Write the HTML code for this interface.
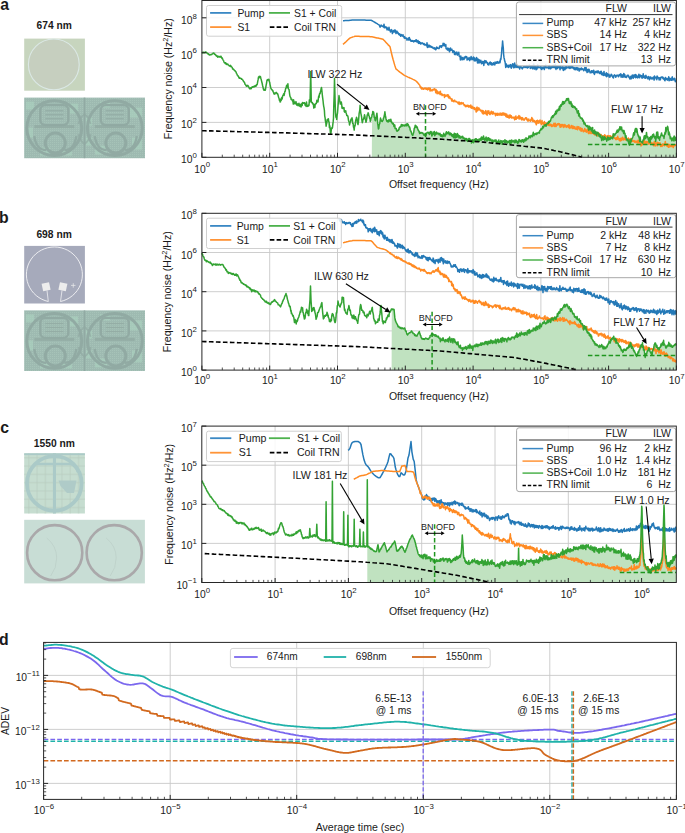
<!DOCTYPE html><html><head><meta charset="utf-8"><style>html,body{margin:0;padding:0;background:#fff;}svg{display:block;}text{font-family:"Liberation Sans", sans-serif;fill:#1a1a1a;}</style></head><body>
<svg width="685" height="833" viewBox="0 0 685 833"><defs><pattern id="mesh" width="2" height="2" patternUnits="userSpaceOnUse"><rect width="1" height="1" fill="#b3d2c4" opacity="0.35"/></pattern></defs><rect width="685" height="833" fill="#fff"/><text x="0.3" y="9.6" font-size="15.8" text-anchor="start" font-weight="bold" >a</text><text x="-1" y="222.7" font-size="15.8" text-anchor="start" font-weight="bold" >b</text><text x="0.2" y="433.4" font-size="15.8" text-anchor="start" font-weight="bold" >c</text><text x="-1" y="645.2" font-size="15.8" text-anchor="start" font-weight="bold" >d</text><text x="36.6" y="28.7" font-size="10.1" text-anchor="start" font-weight="bold" textLength="35.2" lengthAdjust="spacingAndGlyphs">674 nm</text><text x="36.4" y="238" font-size="10.1" text-anchor="start" font-weight="bold" textLength="35.4" lengthAdjust="spacingAndGlyphs">698 nm</text><text x="33.8" y="447" font-size="10.1" text-anchor="start" font-weight="bold" textLength="41.1" lengthAdjust="spacingAndGlyphs">1550 nm</text><rect x="24.2" y="38.6" width="60.7" height="52.1" fill="#c7d5be"/><circle cx="53.8" cy="64.4" r="25.4" fill="#c6cfbf" stroke="#dbe8e5" stroke-width="1.1"/><rect x="24.2" y="97.6" width="120.8" height="60.6" fill="#9ebab1"/><rect x="24.2" y="97.6" width="120.8" height="60.6" fill="url(#mesh)"/><rect x="26" y="101.6" width="8" height="8" fill="#acd3bf" opacity="0.6"/><rect x="40" y="147.6" width="10" height="8" fill="#acd3bf" opacity="0.6"/><rect x="70" y="103.6" width="8" height="10" fill="#acd3bf" opacity="0.6"/><rect x="95" y="145.6" width="12" height="9" fill="#acd3bf" opacity="0.6"/><rect x="130" y="107.6" width="12" height="10" fill="#acd3bf" opacity="0.6"/><rect x="132" y="137.6" width="10" height="12" fill="#acd3bf" opacity="0.6"/><rect x="27" y="127.6" width="6" height="10" fill="#acd3bf" opacity="0.6"/><rect x="100" y="101.6" width="10" height="6" fill="#acd3bf" opacity="0.6"/><rect x="62" y="149.6" width="10" height="6" fill="#acd3bf" opacity="0.6"/><rect x="86" y="117.6" width="6" height="8" fill="#acd3bf" opacity="0.6"/><rect x="86" y="137.6" width="6" height="8" fill="#acd3bf" opacity="0.6"/><path d="M84.5 97.6 V158.2" stroke="#91aaa3" stroke-width="1.6" fill="none"/><path d="M84.5 114.1 q-5 4 -6 10 M84.5 114.1 q5 4 6 10 M84.5 144.1 q-5 -4 -6 -10 M84.5 144.1 q5 -4 6 -10" stroke="#91aaa3" stroke-width="1.8" fill="none" opacity="0.7"/><circle cx="54.3" cy="128.1" r="27.4" fill="none" stroke="#91aaa3" stroke-width="3"/><rect x="40.3" y="105.1" width="28" height="20" rx="5" fill="none" stroke="#91aaa3" stroke-width="2.4"/><rect x="34.3" y="125.1" width="40" height="3" fill="#91aaa3" opacity="0.8"/><circle cx="55.3" cy="143.1" r="10" fill="none" stroke="#91aaa3" stroke-width="3"/><path d="M46.3 150.1 q-10 0 -12 -14 M64.3 150.1 q10 0 12 -14" fill="none" stroke="#91aaa3" stroke-width="2.4"/><rect x="45.3" y="110.1" width="18" height="1.2" fill="#91aaa3" opacity="0.8"/><rect x="45.3" y="114.1" width="18" height="1.2" fill="#91aaa3" opacity="0.8"/><rect x="45.3" y="118.1" width="18" height="1.2" fill="#91aaa3" opacity="0.8"/><circle cx="114.8" cy="128.1" r="27.4" fill="none" stroke="#91aaa3" stroke-width="3"/><rect x="100.8" y="105.1" width="28" height="20" rx="5" fill="none" stroke="#91aaa3" stroke-width="2.4"/><rect x="94.8" y="125.1" width="40" height="3" fill="#91aaa3" opacity="0.8"/><circle cx="115.8" cy="143.1" r="10" fill="none" stroke="#91aaa3" stroke-width="3"/><path d="M106.8 150.1 q-10 0 -12 -14 M124.8 150.1 q10 0 12 -14" fill="none" stroke="#91aaa3" stroke-width="2.4"/><rect x="105.8" y="110.1" width="18" height="1.2" fill="#91aaa3" opacity="0.8"/><rect x="105.8" y="114.1" width="18" height="1.2" fill="#91aaa3" opacity="0.8"/><rect x="105.8" y="118.1" width="18" height="1.2" fill="#91aaa3" opacity="0.8"/><rect x="24.2" y="245.9" width="60.7" height="57.6" fill="#a6aabb"/><path d="M48.3 301.5 A28 27.6 0 1 1 60.5 301.5" fill="none" stroke="#f4f4f6" stroke-width="0.9"/><rect x="42.3" y="283" width="7.6" height="7.6" fill="#ededed" transform="rotate(-12 46.1 286.8)"/><rect x="59.1" y="283" width="7.6" height="7.6" fill="#ededed" transform="rotate(12 62.9 286.8)"/><path d="M47 290.5 L48.3 301.5 M62 290.5 L60.5 301.5" stroke="#f0f0f2" stroke-width="0.8" fill="none"/><path d="M71 285.4 h4.5 M73.25 283.2 v4.5" stroke="#eeeeee" stroke-width="0.7"/><rect x="24.2" y="310.4" width="120.8" height="60.6" fill="#9ebab1"/><rect x="24.2" y="310.4" width="120.8" height="60.6" fill="url(#mesh)"/><rect x="26" y="314.4" width="8" height="8" fill="#acd3bf" opacity="0.6"/><rect x="40" y="360.4" width="10" height="8" fill="#acd3bf" opacity="0.6"/><rect x="70" y="316.4" width="8" height="10" fill="#acd3bf" opacity="0.6"/><rect x="95" y="358.4" width="12" height="9" fill="#acd3bf" opacity="0.6"/><rect x="130" y="320.4" width="12" height="10" fill="#acd3bf" opacity="0.6"/><rect x="132" y="350.4" width="10" height="12" fill="#acd3bf" opacity="0.6"/><rect x="27" y="340.4" width="6" height="10" fill="#acd3bf" opacity="0.6"/><rect x="100" y="314.4" width="10" height="6" fill="#acd3bf" opacity="0.6"/><rect x="62" y="362.4" width="10" height="6" fill="#acd3bf" opacity="0.6"/><rect x="86" y="330.4" width="6" height="8" fill="#acd3bf" opacity="0.6"/><rect x="86" y="350.4" width="6" height="8" fill="#acd3bf" opacity="0.6"/><path d="M84.5 310.4 V371" stroke="#91aaa3" stroke-width="1.6" fill="none"/><path d="M84.5 326.9 q-5 4 -6 10 M84.5 326.9 q5 4 6 10 M84.5 356.9 q-5 -4 -6 -10 M84.5 356.9 q5 -4 6 -10" stroke="#91aaa3" stroke-width="1.8" fill="none" opacity="0.7"/><circle cx="54.3" cy="340.9" r="27.4" fill="none" stroke="#91aaa3" stroke-width="3"/><rect x="40.3" y="317.9" width="28" height="20" rx="5" fill="none" stroke="#91aaa3" stroke-width="2.4"/><rect x="34.3" y="337.9" width="40" height="3" fill="#91aaa3" opacity="0.8"/><circle cx="55.3" cy="355.9" r="10" fill="none" stroke="#91aaa3" stroke-width="3"/><path d="M46.3 362.9 q-10 0 -12 -14 M64.3 362.9 q10 0 12 -14" fill="none" stroke="#91aaa3" stroke-width="2.4"/><rect x="45.3" y="322.9" width="18" height="1.2" fill="#91aaa3" opacity="0.8"/><rect x="45.3" y="326.9" width="18" height="1.2" fill="#91aaa3" opacity="0.8"/><rect x="45.3" y="330.9" width="18" height="1.2" fill="#91aaa3" opacity="0.8"/><circle cx="114.8" cy="340.9" r="27.4" fill="none" stroke="#91aaa3" stroke-width="3"/><rect x="100.8" y="317.9" width="28" height="20" rx="5" fill="none" stroke="#91aaa3" stroke-width="2.4"/><rect x="94.8" y="337.9" width="40" height="3" fill="#91aaa3" opacity="0.8"/><circle cx="115.8" cy="355.9" r="10" fill="none" stroke="#91aaa3" stroke-width="3"/><path d="M106.8 362.9 q-10 0 -12 -14 M124.8 362.9 q10 0 12 -14" fill="none" stroke="#91aaa3" stroke-width="2.4"/><rect x="105.8" y="322.9" width="18" height="1.2" fill="#91aaa3" opacity="0.8"/><rect x="105.8" y="326.9" width="18" height="1.2" fill="#91aaa3" opacity="0.8"/><rect x="105.8" y="330.9" width="18" height="1.2" fill="#91aaa3" opacity="0.8"/><rect x="24.2" y="453.3" width="60.7" height="60.2" fill="#c6ddd0"/><rect x="28" y="453.3" width="1.5" height="60.2" fill="#b8cdbf" opacity="0.45"/><rect x="24.2" y="457" width="60.7" height="1.5" fill="#b8cdbf" opacity="0.45"/><rect x="36.3" y="453.3" width="1.5" height="60.2" fill="#b8cdbf" opacity="0.45"/><rect x="24.2" y="465.3" width="60.7" height="1.5" fill="#b8cdbf" opacity="0.45"/><rect x="44.6" y="453.3" width="1.5" height="60.2" fill="#b8cdbf" opacity="0.45"/><rect x="24.2" y="473.6" width="60.7" height="1.5" fill="#b8cdbf" opacity="0.45"/><rect x="52.9" y="453.3" width="1.5" height="60.2" fill="#b8cdbf" opacity="0.45"/><rect x="24.2" y="481.9" width="60.7" height="1.5" fill="#b8cdbf" opacity="0.45"/><rect x="61.2" y="453.3" width="1.5" height="60.2" fill="#b8cdbf" opacity="0.45"/><rect x="24.2" y="490.2" width="60.7" height="1.5" fill="#b8cdbf" opacity="0.45"/><rect x="69.5" y="453.3" width="1.5" height="60.2" fill="#b8cdbf" opacity="0.45"/><rect x="24.2" y="498.5" width="60.7" height="1.5" fill="#b8cdbf" opacity="0.45"/><rect x="77.8" y="453.3" width="1.5" height="60.2" fill="#b8cdbf" opacity="0.45"/><rect x="24.2" y="506.8" width="60.7" height="1.5" fill="#b8cdbf" opacity="0.45"/><circle cx="54.3" cy="483.4" r="27.3" fill="none" stroke="#abcac8" stroke-width="3.8"/><rect x="53" y="453.3" width="3" height="60.2" fill="#abcac8"/><rect x="24.2" y="453.3" width="60.7" height="1.8" fill="#abcac8"/><path d="M36 464 H71 Q76 466 78 472" fill="none" stroke="#abcac8" stroke-width="2.6"/><path d="M58.5 480.6 H76.5 L74 493 H67 L60.5 486 Z" fill="#afcbc8"/><rect x="24.2" y="519.8" width="120.7" height="63.6" fill="#c8ddd5"/><circle cx="54.7" cy="552.7" r="27.6" fill="none" stroke="#aaa8aa" stroke-width="2.6"/><path d="M46.7 538 q10 8 10 20 q0 10 -6 18" fill="none" stroke="#b8cbc5" stroke-width="0.6"/><circle cx="114.2" cy="552.7" r="27.6" fill="none" stroke="#aaa8aa" stroke-width="2.6"/><path d="M106.2 538 q10 8 10 20 q0 10 -6 18" fill="none" stroke="#b8cbc5" stroke-width="0.6"/><line x1="269.7" y1="0.5" x2="269.7" y2="157.3" stroke="#c8c8c8" stroke-width="0.9" /><line x1="337.5" y1="0.5" x2="337.5" y2="157.3" stroke="#c8c8c8" stroke-width="0.9" /><line x1="405.3" y1="0.5" x2="405.3" y2="157.3" stroke="#c8c8c8" stroke-width="0.9" /><line x1="473.1" y1="0.5" x2="473.1" y2="157.3" stroke="#c8c8c8" stroke-width="0.9" /><line x1="540.9" y1="0.5" x2="540.9" y2="157.3" stroke="#c8c8c8" stroke-width="0.9" /><line x1="608.6" y1="0.5" x2="608.6" y2="157.3" stroke="#c8c8c8" stroke-width="0.9" /><line x1="201.9" y1="122.4" x2="676.4" y2="122.4" stroke="#c8c8c8" stroke-width="0.9" /><line x1="201.9" y1="87.5" x2="676.4" y2="87.5" stroke="#c8c8c8" stroke-width="0.9" /><line x1="201.9" y1="52.7" x2="676.4" y2="52.7" stroke="#c8c8c8" stroke-width="0.9" /><line x1="201.9" y1="17.8" x2="676.4" y2="17.8" stroke="#c8c8c8" stroke-width="0.9" /><path d="M371.8 157.3 L372.1 114.5 L372.5 114.3 L372.8 111.4 L373.2 112.1 L373.6 112.1 L373.9 114.2 L374.3 117.4 L374.7 117.5 L375 119.9 L375.4 120.8 L375.8 118.8 L376.1 117.2 L376.5 115.3 L376.9 113.2 L377.3 117.1 L377.6 123 L378 125.4 L378.4 128.9 L378.8 128.5 L379.1 125.5 L379.4 124.3 L379.8 123.4 L380.1 120.8 L380.5 118.1 L380.9 119.6 L381.2 120.4 L381.6 121.3 L382 121 L382.3 121.5 L382.7 120.5 L383.1 120.2 L383.4 118.3 L383.8 117.8 L384.2 116 L384.5 114.6 L384.9 111.8 L385.3 115.2 L385.6 116.5 L386 118.7 L386.4 120 L386.7 121 L387.1 121.4 L387.4 121.3 L387.8 120.5 L388.1 122.1 L388.4 121.4 L388.8 120.1 L389.1 119.6 L389.4 120.6 L389.8 121.2 L390.1 121.5 L390.5 120.3 L390.8 119.3 L391.2 120.9 L391.5 122.4 L391.9 122 L392.2 123.2 L392.6 123.9 L393 123.7 L393.3 123.4 L393.7 124.7 L394 126.6 L394.4 125 L394.8 125 L395.1 128.6 L395.5 128.3 L395.9 128.4 L396.2 128.5 L396.6 130.8 L396.9 131.1 L397.3 131.2 L397.6 130.7 L398 130.1 L398.3 130.5 L398.7 129.1 L399 129.6 L399.3 127.6 L399.7 127.3 L400 126.8 L400.3 126.6 L400.7 126.9 L401 126.5 L401.4 124.4 L401.7 125.5 L402 124.8 L402.4 126 L402.7 124.9 L403 125.7 L403.4 125.7 L403.7 125.1 L404.1 125.5 L404.4 125.7 L404.7 126 L405.1 124.7 L405.4 125.1 L405.8 125.7 L406.1 125.6 L406.5 123.9 L406.9 125.8 L407.2 124.4 L407.6 123.7 L407.9 125.3 L408.3 124.7 L408.6 125.6 L409 126.4 L409.3 127.2 L409.7 127.1 L410 129 L410.3 130.2 L410.7 131.1 L411 131 L411.3 132.3 L411.7 133.5 L412 134.6 L412.4 135.1 L412.7 135.4 L413.1 134.2 L413.4 133.3 L413.8 132 L414.2 128.6 L414.5 128 L414.9 127.2 L415.2 125.3 L415.6 125.9 L415.9 125.5 L416.3 127.5 L416.6 126.7 L417 126.8 L417.3 127.4 L417.7 128.8 L418 129.7 L418.3 130.3 L418.7 130.6 L419 131.6 L419.3 132.4 L419.7 133.5 L420 132.2 L420.3 133.3 L420.7 133.1 L421 132.7 L421.3 132.6 L421.7 132.9 L422 132.5 L422.4 133.2 L422.8 133 L423.1 133.5 L423.5 134.5 L423.9 135.2 L424.3 135.4 L424.6 134.4 L425 133.9 L425.3 134.6 L425.6 134.1 L426 135.7 L426.3 134.4 L426.7 133 L427 132.9 L427.3 132.4 L427.7 132.7 L428 132.8 L428.3 132.4 L428.7 133.5 L429 133.5 L429.4 134.5 L429.7 132.3 L430 133.7 L430.4 132.7 L430.7 131.5 L431.1 131.5 L431.4 133.1 L431.8 136 L432.1 134.6 L432.4 135.2 L432.8 134.6 L433.1 131.9 L433.5 133.9 L433.8 133.7 L434.1 134 L434.5 131.6 L434.8 135.7 L435.2 134.7 L435.5 133.8 L435.9 132.9 L436.2 133.5 L436.6 132.1 L436.9 134.2 L437.3 133.5 L437.6 133.2 L438 133.3 L438.3 133.6 L438.7 133.2 L439 134.7 L439.4 134 L439.7 133.8 L440 133.4 L440.4 135.7 L440.7 136.1 L441 135.7 L441.4 134.8 L441.7 136.3 L442 135.5 L442.3 136.8 L442.7 135.1 L443 136.4 L443.3 136.1 L443.7 133.3 L444 135.4 L444.3 135.2 L444.7 134.5 L445 136.4 L445.4 134.4 L445.7 135.1 L446 132.8 L446.4 131.8 L446.7 133.2 L447 133.9 L447.4 132.5 L447.7 133.5 L448.1 133.4 L448.4 132.3 L448.7 131.8 L449.1 133.8 L449.4 134.7 L449.7 133.7 L450 132.9 L450.4 133 L450.7 133.6 L451 135 L451.4 133.6 L451.7 136 L452 134.6 L452.4 136.1 L452.7 136.6 L453 134.5 L453.4 135.8 L453.7 137.7 L454 136.4 L454.3 133.2 L454.7 135.8 L455 138 L455.3 136.6 L455.7 133.7 L456 137.5 L456.4 135.1 L456.7 136.9 L457 137.1 L457.4 133.4 L457.7 134.9 L458.1 136.7 L458.4 134.9 L458.7 136.5 L459.1 138 L459.4 136.2 L459.8 135.9 L460.1 137.6 L460.4 138.2 L460.8 137 L461.1 137.5 L461.4 137.8 L461.8 136.9 L462.1 136.3 L462.4 137.2 L462.8 136.4 L463.1 138.8 L463.4 138.6 L463.8 138.5 L464.1 137.9 L464.4 138.6 L464.8 139.7 L465.1 139.7 L465.4 138.5 L465.8 138.5 L466.1 139.6 L466.5 140.3 L466.8 138.4 L467.1 140.5 L467.5 141.4 L467.8 140.6 L468.1 139.9 L468.5 140.7 L468.8 138.6 L469.1 139.5 L469.5 138.4 L469.8 139.1 L470.1 141.2 L470.5 140 L470.8 140.3 L471.1 140 L471.5 143.1 L471.8 141 L472.1 141.4 L472.5 139.8 L472.8 142.3 L473.1 141.9 L473.5 142.8 L473.8 141.2 L474.1 139.6 L474.5 139.5 L474.8 140.4 L475.1 141.5 L475.5 138.8 L475.8 139.6 L476.1 139.7 L476.5 138.9 L476.8 140.1 L477.1 140.6 L477.5 139.8 L477.8 139.8 L478.1 140.6 L478.5 140.6 L478.8 141.3 L479.1 138.9 L479.5 141.2 L479.8 139.7 L480.1 139.3 L480.5 138.4 L480.8 139.3 L481.1 140.3 L481.5 136.9 L481.8 137.7 L482.1 139.5 L482.5 138.3 L482.8 139.3 L483.1 137.2 L483.5 135.9 L483.8 137.7 L484.1 139.3 L484.5 139.9 L484.8 140.4 L485.1 138.7 L485.5 138 L485.8 138.5 L486.1 137.1 L486.5 140.5 L486.8 140.4 L487.1 141.1 L487.5 138 L487.8 139.9 L488.1 138.6 L488.5 137.7 L488.8 139.9 L489.1 138.3 L489.5 140.7 L489.8 138.7 L490.1 139.8 L490.5 140 L490.8 139.3 L491.1 140.9 L491.5 140.8 L491.8 140.4 L492.1 140.3 L492.5 142.6 L492.8 140 L493.1 140.4 L493.5 141.7 L493.8 141 L494.1 140.9 L494.5 140.7 L494.8 140.1 L495.1 141.3 L495.5 140 L495.8 140.9 L496.1 140 L496.5 142.8 L496.8 141 L497.1 141.8 L497.5 142.2 L497.8 141.6 L498.1 142.7 L498.5 142.3 L498.8 139.9 L499.1 142.9 L499.5 141.6 L499.8 144 L500.1 143.3 L500.5 142.7 L500.8 140.5 L501.2 141.7 L501.5 142.3 L501.8 141.1 L502.2 144.3 L502.5 142.6 L502.9 141.8 L503.2 140.7 L503.5 141.3 L503.9 141.3 L504.2 141 L504.6 142.3 L504.9 139.8 L505.2 141.9 L505.6 142.8 L505.9 140.5 L506.3 141.7 L506.6 141.6 L506.9 140.9 L507.3 143 L507.6 141.7 L508 142.4 L508.3 141.8 L508.6 142.3 L509 141.7 L509.3 140.5 L509.7 143.6 L510 142.6 L510.3 143.4 L510.7 140.4 L511 143.2 L511.3 142.9 L511.7 139.9 L512 142 L512.3 141.2 L512.7 141.5 L513 141.7 L513.3 140.6 L513.7 141.3 L514 141.4 L514.3 142.7 L514.7 141.1 L515 140.1 L515.3 141.1 L515.7 142.6 L516 139.9 L516.3 142.1 L516.7 142 L517 141.1 L517.3 141.5 L517.6 143.3 L518 141.3 L518.3 141.9 L518.6 142.8 L519 139.4 L519.3 139.9 L519.6 139.8 L520 140.8 L520.3 141.5 L520.6 141.6 L521 140.4 L521.3 142.1 L521.6 140.5 L522 139.8 L522.3 141.3 L522.6 139.8 L523 141.6 L523.3 141.3 L523.6 142.3 L524 140 L524.3 139.2 L524.6 141.1 L525 140.6 L525.3 139.7 L525.6 140.8 L526 137.7 L526.3 138.9 L526.6 140.1 L527 138.5 L527.3 138.9 L527.6 138.7 L528 138.5 L528.3 138.7 L528.6 138.1 L529 136 L529.3 136.8 L529.7 136.2 L530 137.1 L530.3 137.8 L530.7 137.2 L531 135.5 L531.3 136.2 L531.7 135.9 L532 135.2 L532.3 136.7 L532.7 135.6 L533 133.9 L533.3 132.3 L533.7 134 L534 135.7 L534.3 134.2 L534.7 134.2 L535 133.8 L535.3 134.4 L535.7 133.7 L536 133.4 L536.3 133.1 L536.7 134.6 L537 133.7 L537.4 133.5 L537.7 133.2 L538 132.5 L538.4 132.7 L538.7 132.7 L539 132.1 L539.4 133.1 L539.7 130.9 L540 130.5 L540.4 130.3 L540.7 129.6 L541 128.9 L541.4 129.2 L541.7 129.7 L542.1 128 L542.4 128.4 L542.7 126.3 L543.1 126.2 L543.4 127.8 L543.8 126.1 L544.1 126 L544.4 125.2 L544.8 125 L545.1 125.8 L545.5 124.8 L545.8 125.2 L546.1 126.3 L546.5 124.4 L546.8 124.3 L547.2 123.3 L547.5 123.5 L547.8 123.4 L548.2 123.7 L548.5 121.6 L548.9 121.7 L549.2 121.4 L549.5 122.4 L549.9 121 L550.2 121.2 L550.6 120.7 L550.9 119.1 L551.2 118.2 L551.6 116.9 L551.9 117.7 L552.3 117.5 L552.6 115.7 L552.9 117.5 L553.3 116.3 L553.6 115.2 L554 115.7 L554.3 114.4 L554.6 114.8 L555 113.3 L555.3 114.4 L555.7 111.2 L556 111.3 L556.3 113.7 L556.7 112.4 L557 110.1 L557.4 111.2 L557.7 111 L558 110.5 L558.4 109 L558.7 110.2 L559.1 108.7 L559.4 106.6 L559.7 109.9 L560.1 107 L560.4 105.7 L560.8 104.9 L561.1 106.2 L561.4 105.8 L561.8 103.9 L562.1 104.5 L562.4 102.6 L562.8 101.5 L563.1 104.3 L563.5 101.7 L563.8 103.3 L564.1 102.6 L564.5 103.4 L564.8 101.9 L565.1 101.5 L565.5 100.8 L565.8 100.9 L566.2 100.5 L566.5 98.8 L566.8 99.4 L567.2 98.7 L567.5 100 L567.8 98.5 L568.2 100.4 L568.5 98.6 L568.9 100.9 L569.2 103.2 L569.6 102 L569.9 103.7 L570.2 102.6 L570.6 103.8 L570.9 101.6 L571.3 103.4 L571.6 106.4 L572 104 L572.3 106.3 L572.6 107.2 L573 105.7 L573.3 107.1 L573.7 106.9 L574 106.3 L574.3 107.8 L574.7 106.8 L575 107.8 L575.4 107.4 L575.7 108.8 L576.1 109.6 L576.4 109.1 L576.7 108.8 L577.1 111.9 L577.4 113 L577.7 111.4 L578.1 112.2 L578.4 110.8 L578.7 116 L579.1 114.7 L579.4 113.6 L579.7 116.8 L580.1 116.8 L580.4 118 L580.8 117.8 L581.1 118.2 L581.4 118 L581.8 119.1 L582.1 118.3 L582.4 118.9 L582.8 120.9 L583.1 121.5 L583.4 120.3 L583.8 122.9 L584.1 124.1 L584.4 122.2 L584.8 123.5 L585.1 123.3 L585.5 125.1 L585.8 125.6 L586.1 125.4 L586.5 125.7 L586.8 126.5 L587.2 126.6 L587.5 126.8 L587.8 125.5 L588.2 127.6 L588.5 129.1 L588.9 130.1 L589.2 129.2 L589.5 126.2 L589.9 129.5 L590.2 128.9 L590.6 127.6 L590.9 127.6 L591.2 130.8 L591.6 129 L591.9 130.2 L592.3 131.7 L592.6 127.4 L592.9 132.9 L593.3 130.6 L593.6 131.5 L594 133.3 L594.3 133.3 L594.6 130 L595 134 L595.3 133.2 L595.6 132.7 L596 131.6 L596.3 134.8 L596.6 135.8 L597 133.1 L597.3 133.5 L597.7 132.3 L598 133.4 L598.3 133.1 L598.7 134.7 L599 136.2 L599.3 136.4 L599.7 134.2 L600 136.9 L600.3 135.2 L600.7 135.3 L601 137.8 L601.3 137 L601.7 140.6 L602 137.8 L602.4 138.7 L602.7 136.3 L603 138.8 L603.4 140 L603.7 137.8 L604 137.3 L604.4 139.5 L604.7 136.7 L605 138.7 L605.4 137.7 L605.7 138.9 L606 139.5 L606.4 139.5 L606.7 141.2 L607.1 138.6 L607.4 139.8 L607.7 137.1 L608.1 138.5 L608.4 140 L608.8 137.6 L609.1 139 L609.4 139.5 L609.8 139.4 L610.1 137.8 L610.5 139 L610.9 137.1 L611.2 137.8 L611.5 138 L611.9 137.8 L612.2 137.6 L612.6 138.8 L613 136.1 L613.3 133.7 L613.6 137 L614 134.2 L614.3 134.5 L614.7 134.2 L615 135 L615.3 133.7 L615.7 133.3 L616 133.3 L616.3 132.8 L616.7 131.1 L617 131.3 L617.3 130 L617.7 132.3 L618 132 L618.4 131.3 L618.7 130.4 L619.1 128.8 L619.5 129.9 L619.8 126.7 L620.2 126.7 L620.5 129.6 L620.9 127.4 L621.2 129.6 L621.6 127.1 L621.9 129.8 L622.3 131 L622.6 130.8 L623 130.4 L623.3 132.1 L623.7 133.6 L624 130.5 L624.3 131.8 L624.7 133.6 L625 133.4 L625.4 137.4 L625.7 136.8 L626 135.7 L626.4 139.5 L626.7 139.7 L627 140.6 L627.4 140.8 L627.7 139.2 L628 139.8 L628.4 141.6 L628.7 143.3 L629.1 144.5 L629.4 145.1 L629.8 141.9 L630.1 139.5 L630.5 143.2 L630.8 141.9 L631.2 141.4 L631.6 139.1 L631.9 138.5 L632.3 138.3 L632.6 137.6 L633 136.4 L633.4 134.2 L633.7 132.8 L634.1 133.7 L634.4 135 L634.8 131.1 L635.2 129.2 L635.5 128.5 L635.9 130.3 L636.2 131.9 L636.6 128.5 L636.9 129.2 L637.3 131.8 L637.6 133.9 L638 134.9 L638.3 136.2 L638.7 135.8 L639 137.6 L639.4 138.8 L639.7 141.4 L640.1 136.9 L640.5 139.8 L640.8 141.7 L641.2 141.7 L641.5 142.2 L641.9 141.9 L642.2 142.9 L642.6 143 L643 139.9 L643.3 140.1 L643.6 140.1 L644 137 L644.4 135.7 L644.7 139 L645.1 138.8 L645.4 135.8 L645.8 138.2 L646.1 136.3 L646.5 132.4 L646.9 136 L647.2 136.4 L647.6 137.4 L647.9 136.8 L648.3 139.6 L648.6 139.2 L649 142 L649.3 140 L649.7 137.6 L650.1 142.8 L650.4 140.4 L650.8 136.6 L651.2 137.6 L651.5 138.9 L651.9 136.1 L652.3 137.7 L652.6 134.8 L653 136 L653.3 134.4 L653.7 134.1 L654 137 L654.4 136.4 L654.7 138 L655 136.5 L655.4 138 L655.7 141.5 L656 138.6 L656.4 135 L656.7 132.2 L657 137.8 L657.4 134.9 L657.7 132 L658.1 135.9 L658.5 138.5 L658.8 137.1 L659.2 137.3 L659.6 140.2 L659.9 136.7 L660.3 137.2 L660.6 135.8 L660.9 135.6 L661.3 133.9 L661.6 132.9 L661.9 135.5 L662.3 135.2 L662.6 135.2 L663 136 L663.3 136.4 L663.7 136.2 L664 138.4 L664.4 135.1 L664.7 134.3 L665 132.3 L665.4 134 L665.8 127.6 L666.1 131.8 L666.5 128.6 L666.8 129.8 L667.1 128.7 L667.5 126.3 L667.9 127.3 L668.2 129.9 L668.6 134.7 L668.9 131.8 L669.3 132.9 L669.6 133.9 L670 136.7 L670.3 138.8 L670.7 137 L671 138.5 L671.4 138.5 L671.8 140.8 L672.1 138.5 L672.5 138.3 L672.8 140 L673.1 138.4 L673.5 137.4 L673.9 141 L674.2 136 L674.5 138.8 L674.9 138.1 L675.2 137.3 L675.6 141.1 L676.4 157.3 Z" fill="#c0e2c0" stroke="none"/><path d="M343 20.8l1-.1 1-.1 1 0 1-.1 1-.1 1 0 1-.1 1-.1 1-.1 1-.1 1 0 1-.1 1 0 1 0 1 .1 1 0 1 0 1 0 1 .1 1 0 1 0 1 0 1 .1 1 0 1.1 0 1 0 1 .1 1 0 1 .4 1 .6 1 .6 1 .6 1 .6 1 .6 1 .6 1 .5 1 2.4 .3-1.5 .3 .8 .4-1.5 .3 1 .3-.2 .4 .1 .3 .3 .3 .2 .3-.4 .4 1.1 .3-.8 .3-2.1 .4 3.6 .3-1.2 .3-.1 .4 1 .3 .1 .3-.5 .4 1.1 .3-1 .3 2.6 .4-1.8 .3 1.1 .3 .4 .4 .4 .3-.2 .3-2.5 .4 2.9 .3 .1 .3 0 .4 1.7 .3-1.8 .3 .9 .4-1.4 .3 2.1 .3-1.4 .4 3.3 .3-1.2 .3-.6 .4 .1 .3-1.4 .3 .3 .4 1.2 .3-2.1 .3 1.9 .4-1.5 .3 1.7 .3 1.5 .3-.4 .4-1 .3-1 .3 1.2 .4 .8 .3-.6 .3 1.2 .4 .8 .3-.7 .3 .9 .4-.7 .3 1.2 .3-.7 .4 1.8 .3-1.3 .3-.4 .4 1.1 .3-.4 .3 0 .4 .8 .3-1.4 .3 1.9 .4 .2 .3 .3 .3 1 .4-1.5 .3 1.8 .3-.5 .4 .4 .3-.1 .3-.2 .4 .8 .3 1.4 .3-.8 .4-.2 .3-.3 .3-.8 .4 .9 .3 1.2 .3-2.7 .4 1.9 .3-.3 .4 .6 .3 .7 .3 .9 .4-.5 .3 .5 .3-.8 .4 .6 .3-.4 .3 .3 .4 .3 .3 .7 .3-1.3 .4 .3 .3 .2 .3-.5 .4 .7 .3-.6 .3-1.1 .4 .2 .3 1.6 .3 .5 .4-.5 .3 .2 .3-1.2 .4 2.7 .3-1.7 .3 1.9 .4-1.6 .3 .6 .3 .8 .4-.6 .3 1.4 .3-.1 .4-.2 .3-.5 .3-.4 .4 .3 .3 0 .3 .5 .4 .7 .3-.6 .3-.2 .4 1.6 .3-.8 .3 .2 .4 .1 .3 .4 .3-.3 .4 1 .3-.2 .3-2.8 .4 4.8 .3-3.2 .3 1.3 .4 1 .3-.7 .3 1.3 .4-1.9 .3 .2 .3 1 .4-.3 .3-.2 .3 1.2 .4-.1 .3-.2 .4 .7 .3-.1 .3-.4 .4 1.2 .3 0 .3-.1 .4 .6 .3-.7 .3-.3 .4 1.5 .3-.8 .3 1.2 .4-.5 .3-1.6 .4-.6 .3 1.2 .3-.6 .4 .2 .3 .7 .3-.2 .4 .2 .3 .1 .3-1.3 .4-1.4 .3 .8 .3-.7 .4-.2 .3 1.3 .4 .3 .3-1.7 .3 .3 .4-.4 .3 .1 .3-2.4 .4 2.3 .3-1.3 .3-.8 .4 2 .3 0 .3 .8 .4 0 .3-1.7 .3 4.1 .4 .3 .3-.4 .3 .1 .4 1.3 .3-2 .3 2 .4-1.6 .3 1.7 .3 .1 .4 1.6 .3-.8 .3-2.7 .4-.3 .3 2.3 .3-.1 .4-.6 .3-.4 .3 .6 .4 .7 .3 1.9 .3-.5 .4-.9 .3-.3 .3 1.2 .4 2.4 .3-2.3 .3 2.7 .4-2 .3 1.2 .3-1.5 .3 1.1 .4-1.5 .3 2.4 .3 .7 .4-1.9 .3 1.1 .3-.4 .4-1.7 .3 3.5 .3 .7 .4 .2 .3 .4 .3 2.9 .4-4 .3 2.1 .3 .3 .4 .5 .3 1.1 .3-2.3 .4 .1 .3 1.5 .3 .2 .4-.5 .3 .6 .3-2.6 .4 1.4 .3-.5 .3-.9 .4-.5 .3 .2 .4 .7 .3-.5 .3 3.3 .4-1.7 .3-.2 .3 .5 .4 .3 .3 .5 .3-1.9 .4 2.5 .3 .6 .3-2.4 .4 1.1 .3-.9 .3-2 .4 2.1 .3-1 .3 2.2 .4-1.2 .3 .3 .3 .3 .4-2.3 .3 2.5 .3 1.3 .4-2.8 .3 2.3 .3 .7 .4-1.7 .3 1.5 .3-1 .4-2.2 .3 1.2 .3-.3 .4 4.5 .3-2.2 .4-.3 .3-1.1 .3 3.6 .4-3.1 .3 3 .3-.3 .4-1.8 .3 .8 .3-1.3 .4 2.3 .3 1.3 .3-.7 .4 .3 .3-1.8 .3 1.2 .4-1.4 .3 2 .3 2 .4-2.7 .3-.1 .3-2.1 .4 2.3 .3-1.2 .3-.6 .4-.1 .3 1.8 .3-.5 .4 .3 .3 .3 .3 1.8 .4-.6 .3 .1 .3 .9 .4-1.3 .3-1.2 .3 .3 .4-.8 .3 1.3 .3 1 .4 .3 .3-1.8 .3 1.1 .3 1.2 .4-1.3 .3 1 .3-1.2 .4-.9 .3 .8 .3 1 .4-1.4 .3 1.9 .3-3 .4 1.3 .3 .1 .3-.7 .4 .6 .3-1.3 .3-.4 .4 .7 .3-.3 .3 1.3 .4-.6 .3-.3 .3 0 .4-1.2 .3 1.8 .3-.7 .4-3.5 .4 .7 .3-3 .4-3.5 .3-5.2 .3-1.3 .4-5.6 .4 4.4 .3 2.6 .3 6.1 .4 3.7 .3 1 .4 2.3 .3 .5 .4 2.7 .3 3.2 .3-3.4 .4 .1 .3 2.1 .3 .4 .4-1.2 .3 1.1 .3 0 .4 1 .3-2.3 .3 1.6 .4-.5 .3-1 .3 1.4 .4-2 .3-.1 .3 2.9 .3 .7 .4-.7 .3-1.8 .3-.5 .4-1.5 .3 2.3 .3-1.8 .4 3.6 .3-3.7 .3 2 .4-3.1 .3 4.6 .3-1.9 .4-.4 .3 .4 .3 1 .4 .7 .3-1.2 .3-2 .4 2.6 .3 .8 .3-.9 .4 .1 .3-.7 .3 1.6 .4 1.3 .3-3 .3 1.4 .4-1.1 .3 .5 .3 .6 .4 .7 .3-.9 .3 1.8 .4-1.1 .3 0 .3-.5 .4-.8 .3 .5 .3 0 .4-.7 .3 1.2 .3-.1 .4-1 .3 .8 .3-1.5 .4 .2 .3-.6 .3 2.7 .4-.8 .3-.3 .3 .5 .4-1.6 .3 .3 .3-1.5 .4 1.8 .3-.6 .3 2.6 .4-2.5 .3 .2 .3 1.8 .4-1.1 .3-1.5 .3 .7 .4 2.7 .3-3.1 .3 .4 .4-2.2 .3 2.3 .3 2.9 .4-2.3 .3-.9 .3 1.4 .4-.6 .3 3.1 .3-.5 .4-.5 .3 .1 .3-3 .4-1.1 .3 3 .3-.4 .4-.4 .3-.2 .3 .8 .4-.3 .3 .3 .3-.7 .4-.2 .3 2.1 .3-1.9 .4 2.6 .3-1.5 .3-.6 .4 1.2 .3-1.5 .3-.2 .4 .3 .3 .7 .3 1.6 .4-1.9 .3-1.8 .3 .2 .4-1.1 .3 2.8 .3 .2 .4-.5 .3 .2 .3-.1 .4 .3 .3-.4 .3-1.3 .3 2.2 .4 .5 .3-3.3 .3 1.6 .4 .8 .3-1 .3 1.9 .4-.4 .3-1.9 .3 0 .4-.2 .3 1.2 .3-1.7 .4 1.5 .3-2 .3 2.2 .4-1.8 .3 .5 .3 1.2 .4 .3 .3-3.4 .3 3.5 .4 1.6 .3-2.2 .3-1 .4 1.8 .3 0 .3 .5 .4-2.1 .3 .7 .3-.5 .4 0 .3 .9 .3-.8 .4 3 .3-1.2 .3-2.5 .4 1.6 .3 .1 .3 .3 .4 .4 .3-1.5 .3-.1 .4 2.1 .3 1.5 .3-.2 .4-3.3 .3 1.1 .3 .3 .3 1.4 .4-2.3 .3-.7 .3 2 .4-2 .3-.2 .3 1.6 .4-.9 .3 0 .3-.2 .4 .1 .3-.6 .3 1.5 .4-1.1 .3-.3 .3 1.8 .4-2.2 .3 1.9 .3-1.2 .4 .7 .3-1.9 .3 2.1 .4-1.4 .3 .3 .3 1.4 .4-.9 .3 1 .3 .4 .3 .8 .4 .1 .3-2 .3 .5 .4 1.2 .3 .6 .3-.7 .4-1.1 .3-.5 .3 .2 .4 2.4 .3-1.5 .3 1 .3-.2 .4-1.3 .3 3 .3-2.1 .4 .2 .3 .6 .3-1.3 .4 1.2 .3-.9 .3-.8 .3 1.5 .4-.2 .3-.2 .3-.3 .4 .3 .3 1.2 .3 .4 .3-1.4 .4 .6 .3-2.3 .3 1.4 .4-.2 .3 1.9 .3-3.1 .4 2.9 .3 .3 .3 1.7 .4-2.9 .3 1.1 .3 1.2 .3-2.6 .4 .8 .3-.7 .3 1.5 .4 .9 .3 .9 .3-.7 .4 .5 .3 .3 .3-2 .3 1.7 .4-.9 .3-.7 .3 1.3 .4 0 .3 .7 .3-2.7 .4 1.6 .3 2.7 .3-.7 .3-1.5 .4-.1 .3-.8 .3 .6 .4 .5 .3-1.3 .3 1.2 .4 .4 .3-1.7 .3 1 .3-1.2 .4 1.8 .3-.5 .3 .7 .4 .6 .3 .2 .3-2.1 .4 1.2 .3-1.1 .3-.4 .3 3.3 .4-.3 .3 .7 .3-1.9 .4 .9 .3-.8 .3 2.2 .4-4 .3 3.1 .3-.9 .3 1.5 .4 .6 .3-2 .3 2 .4-2.9 .3 3.9 .3-3.3 .3 0 .4 2.6 .3-1.8 .3 1.2 .4-.2 .3-1 .3 2.9 .4-1.6 .3 1.7 .3-1.7 .4 .4 .3-.5 .3-1.1 .3 1.2 .4-.6 .3 1.5 .3-.2 .4 1.2 .3-1 .3 1.5 .4-2.5 .3-.1 .3-.5 .3 1 .4-.5 .3 .2 .3 1.8 .4-1 .3-.4 .3-.7 .4-.1 .3 .2 .3 .3 .3 .6 .4 .5 .3-1.1 .3-.9 .4 .9 .3-.2 .3-1.1 .4 1.2 .3-1.8 .3 3.5 .3-.6 .4 .1 .3-1.9 .3 1.4 .4 1.1 .3-1.6 .3 .1 .4-2.3 .3 3.5 .3-.6 .3-2 .4 2.2 .3 .5 .3-.6 .4 .1 .3 .9 .3-1.4 .4-.4 .3-.4 .3 .5 .4-.6 .3 1.7 .3-1 .3 1.3 .4 0 .3 1.6 .3 .2 .4-2.2 .3 0 .3-.6 .4 2.6 .3-.7 .3-1.7 .3-1.3 .4 .7 .3 .7 .3 1.7 .4-3.1 .3-.1 .3 2 .4-1.5 .3 .9 .3-2 .3 3.4 .4-.5 .3-1.1 .3-1.1 .4 2.3 .3 0 .3 .5 .4-.7 .3-1.3 .3 .3 .3-2 .4 3.4 .3 .1 .3-1.3 .4-1.3 .3 .2 .3 .3 .4 1.3 .3-1.2 .3 2.1 .3 .4 .4-1.9 .3-.2 .3-2.3 .4 3.4 .3 .4 .3-1.4 .4 .3 .3-.5 .3 2.3 .4-.3 .3-2.7 .3 1.6 .3-.5 .4 1.2 .3 .5 .3-.7 .4 1.5 .3-1.3 .3-1.1 .4 .3 .3 2 .3 .9 .3-2.1 .4 .6 .3-1.3 .3 .2 .4 1.7 .3-.8 .3-.1 .4 1.1 .3-1 .3-.3 .3-.3 .4-.3 .3 1.7 .3 1.3 .4-4.1 .3 2.9 .3-1.8 .4 .3 .3-.2 .3 .1 .3-.2 .4 2.6 .3-3.6 .3 .9 .4-.1 .3 1.1 .3-.3 .4 .2 .3 2 .3-1.4 .4-.8 .3 .2 .3 1.9 .3-2.1 .4-.6 .3 .1 .3 .3 .4-.7 .3 .6 .3 .7 .4-.8 .3 1.8 .3-1 .3 1.1 .4 .1 .3 1.2 .3 .3 .4-3.4 .3 .2 .3 1.7 .4 0 .3-.6 .3-.1 .3 1.6 .4-.8 .3-.7 .3 .4 .4-2.3 .3 4 .3-2.1 .4-.5 .3 2 .3-1.8 .3 .8 .4 .7 .3-.8 .3 1.1 .4-2.9 .3-.5 .3 3.2 .4-.3 .3-.7 .3 .5 .3 .4 .4-1.7 .3 1.5 .3-1.1 .4 3.1 .3-1.8" fill="none" stroke="#2479b7" stroke-width="1.5" stroke-linejoin="round" /><path d="M343 44.4l1-.9 1-.9 1-.9 1-1 1-.9 1-.9 1-.9 1-.4 1-.3 1-.4 1-.3 1-.4 1 0 1 .1 1 0 1 0 1 .1 1 0 1 0 1 0 1 .1 1 0 1 0 1 .1 1.1 0 1 0 1 .1 1 0 1 .1 1 .3 1 .2 .9 .2 1 .2 1 .2 1 .2 1 .2 1 .3 1 .2 1 .2 1 .2 1 1.1 1 1 1 1.1 1 1.1 1 1.1 1 1 1 1.1 1 4.5 1.1 4.5 1 3.8 .7 2.4 .3 1.2 .7 2.3 .4 1.2 .7 2.3 1 .8 1 .8 1 .8 1 .8 1.1 .7 1 .8 1 .8 1 .8 1 .5 1 .4 1 .5 1 .5 1 .4 1 .5 1 .4 1 .5 1 .5 1 .4 1 .5 1 .7 1.1 1.1 1 1.2 1 1.2 .7 .7 .3 1.4 .4 1 .3-.7 .4 .2 .3 1.9 .3-1.3 .4 .1 .3 .8 .4 .5 .3-.6 .4 .8 .3-.4 .3 0 .4-.7 .3-.2 .4-.1 .3 1.1 .3 .1 .4-.2 .3 .4 .3-1.2 .4 1.1 .3 .7 .4-1.2 .3 .5 .3-1.2 .4 1.3 .3-1.2 .4 .7 .3 2.1 .3-2.6 .4 2.4 .3-.9 .4 .6 .3 .1 .3 .4 .4-1 .3-.3 .3 0 .4-.3 .3 .8 .4-.6 .3-.8 .3 .8 .4 .4 .3-.6 .3 3.5 .4-3.2 .3 2 .4 .1 .3 2 .3-2.7 .4 2.6 .3-.8 .3-.4 .4 1.1 .3-1.4 .3 .9 .4 .4 .3 1.2 .3-3.3 .4 3.3 .3-.3 .3-.2 .4-.4 .3 1.9 .4-.9 .3-.1 .3 .2 .4 .2 .3 .3 .3-.4 .4 2.5 .3-3 .3 1.4 .4 0 .3 .3 .3-.7 .4-.1 .3 .3 .3 .4 .3-1.2 .4 .1 .3 2 .3-2 .4 3 .3-.7 .3-.6 .4 .2 .3 1.7 .3-.3 .4 .3 .3 .2 .3 .9 .4 1.4 .3-1.9 .3 1.8 .3-.4 .4 .7 .3 .4 .3-1.1 .4 .1 .3 .2 .3-.7 .4 1.6 .3-.2 .3-.1 .4 .2 .3-.1 .3 .3 .4 .6 .3-.1 .3 .6 .4-.7 .3 1.7 .3-.2 .4-1.8 .3 1.8 .4 .8 .3-1.6 .3 .1 .4-.2 .3 .9 .3-1.3 .4 1.6 .3-1 .3 .5 .4 0 .3-.7 .3 .9 .4 .6 .3 1.1 .3-.1 .4-.5 .3 1.2 .3 .6 .4-.8 .3-.2 .3 1 .4-.2 .3-1.1 .3 1 .4-.7 .3-.2 .4 1.7 .3-.3 .3-1.1 .4 1.1 .3-.8 .3 .5 .4 1.1 .3-2.6 .3 2.5 .4 .7 .3-.1 .3-1.9 .4 1.9 .3-1.2 .3 1.8 .4-.3 .3-.9 .3 .4 .4 1.7 .3-1.8 .3 1.7 .4 .2 .3-.8 .3 3.1 .4-.2 .3-4.5 .3-.2 .4 3.6 .3-.3 .3-1 .4 .4 .3-2 .3 1.5 .4-.4 .3 1 .3 .5 .4 .5 .3-1 .3 .5 .4 .8 .3-.2 .3 1.8 .4-2.2 .3 3.2 .3-3 .4 .3 .3 2.8 .3-1.6 .4 .5 .3 .5 .3-1.4 .4-.4 .3-.9 .3 3.6 .4-2 .3 .1 .3 2.9 .4-4.1 .3 2.1 .3-.8 .4 1 .3-2.6 .3 1.5 .4 1.4 .3 .8 .3 .1 .4-1.7 .3-.2 .3-1.3 .4-.1 .3 2.4 .3-.6 .4-.4 .3 1.5 .3-2.5 .4 1.8 .3-.5 .3 .6 .4-.2 .3 .2 .3 .1 .4 2 .3-2.4 .3 1.6 .4-.4 .3-.9 .3 1.3 .4 .4 .3-2.1 .3 .3 .4 .9 .3 .6 .3 .1 .4-.1 .3-1.2 .3-.8 .4 1.7 .3-.2 .4 .8 .3-.8 .3-1.2 .4 1.6 .3-1.9 .4 .6 .3 1.4 .3-2.1 .4 1.9 .3-1.5 .4 .8 .3 1.2 .3-1.7 .4 1.4 .3 1.6 .4-.3 .3-2.4 .3 3.2 .4 .1 .3-1.4 .4-.6 .3 1.1 .3 1.4 .4 .3 .3 .1 .4-2.5 .3-.7 .3 2.5 .4-1.9 .3 1.5 .3-1.2 .4 2.3 .3-.2 .3-.5 .3 0 .4-.3 .3 .8 .3-.1 .4 .3 .3-1 .3 2.7 .4-.5 .3-.1 .3-2.4 .3-.9 .4 3.3 .3-1.8 .3 .6 .4-.4 .3 .5 .3-1.4 .4 1.2 .3 .2 .3-2.5 .3 3.5 .4-.5 .3-2.3 .3 1.1 .4 .9 .3 .7 .3-.6 .4 1.5 .3-2.5 .3 .4 .3 1.7 .4-1.4 .3 1.7 .3 .2 .4-.3 .3 .5 .3-1.2 .4 .2 .3-.5 .3-1 .3 1.1 .4-.5 .3-.4 .3 1.8 .4 .4 .3-.9 .3 1.9 .4-.4 .3 .2 .3-1.8 .3 1.3 .4-.2 .3 .5 .3-.3 .4 .9 .3-1.7 .3 1.1 .4-1.7 .3-1.5 .3 2.1 .4-1.2 .3 3.1 .3-1.7 .3 .6 .4 .7 .3 .4 .3-1.1 .4 1.4 .3 .5 .3 .5 .4-1.6 .3 3 .3 .6 .3-4.1 .4 1.7 .3-2.1 .3 2.5 .4 .3 .3-1.8 .3-.4 .4 2 .3-1.1 .3 .7 .3-2.5 .4 2 .3 1 .3 0 .4 1.6 .3-3 .3-1.2 .4 3.1 .3-1.1 .3 1.5 .3-.1 .4 1 .3-.1 .3-3.2 .4 1.8 .3 2.3 .3-2.6 .4 1.6 .3-1.1 .3-.3 .3 1.7 .4-1.3 .3 1.4 .3-2.3 .4 .7 .3 2 .3-.9 .4-1.1 .3 1.7 .3-.1 .4 .8 .3-1.4 .3-.2 .3 .4 .4 0 .3 1.9 .3 .1 .4-.2 .3-1 .3-.7 .4 1.3 .3-.7 .3-2.1 .4 1.3 .3 2 .3-2.8 .3-.5 .4 1.4 .3 2 .3-.2 .4-2 .3 .3 .3-.8 .4 1.1 .3-.4 .3-1.2 .3 1 .4 .4 .3-.6 .3-.3 .4 2.3 .3 1.1 .3-2.5 .4 1.1 .3-.8 .3-.5 .4 2.4 .3-2.6 .3 .4 .3 .1 .4-.2 .3 .8 .3 1.9 .4-.8 .3-.7 .3-1.3 .4 1.4 .3-.9 .3 1 .4 1.3 .3-.8 .3-.4 .3-.5 .4 1 .3-1.2 .3 .5 .4 1.6 .3-2.8 .3 1.4 .4-.8 .3 3.1 .3-1 .4 0 .3 0 .3 0 .4-2 .3 2.1 .3 .5 .4-2.1 .3 2.6 .3-.1 .4-2.3 .3 1.3 .3 .3 .4 .8 .3-1.8 .3 1.2 .4 .6 .3 .6 .3-.7 .4-.3 .3 1.1 .3-2.9 .4 3.3 .3-1.2 .3-.1 .4-1.5 .3-.2 .3 2 .4-.5 .3 1.8 .3-1.8 .4-.3 .3 .4 .3 3 .4-2.4 .3-.3 .3 0 .4 1.2 .3 .8 .3 1 .4 .1 .3-.8 .3-.9 .4-.1 .3-1.5 .3 3.1 .4-.8 .3 .8 .3-1.8 .4 2.5 .3-.6 .3-.3 .4 .5 .3-2.9 .3 2 .4 2.7 .3-2.1 .3-.3 .4 1.6 .3-2 .3 2.8 .4-2.2 .3 .8 .3-.8 .4 2 .3-3.2 .3 1.6 .4 1.1 .3-1.2 .3 1.7 .4 .1 .3 .6 .3-.2 .4 .5 .3 .5 .3-1.4 .4-.9 .3 2.1 .3-1.1 .3 1.5 .4-1.1 .3-1.2 .3 2.1 .4 1.1 .3-2.3 .3-.8 .4 .2 .3 .4 .3 .4 .4 1.4 .3-.6 .3 .3 .4-.5 .3 0 .3 1.1 .4 .1 .3 .5 .3-.2 .4 .2 .3-.4 .3 .5 .4 .5 .3-.9 .3-.1 .3-1.1 .4 1.4 .3-.4 .3-.1 .4 1 .3 2.2 .3-2.2 .4-.4 .3 .5 .3-1.1 .4 .8 .3-.7 .3 0 .4 1.1 .3-.4 .3-.6 .4 1.3 .3-1.4 .3 2.1 .4-1.1 .3 .5 .3 1 .4-.2 .3-1.9 .3 1.2 .4-.9 .3-1.4 .3 2.7 .4 0 .3 .6 .3-.3 .4 .1 .3 .2 .3 1.3 .4-.9 .3-.9 .3 1.7 .4-1.3 .3 1 .3-3 .4 2.6 .3-.3 .3-.3 .4 2 .3-.9 .3-.6 .4 2.3 .3-1.2 .3-.1 .4-1.6 .3 2.3 .3-.8 .4-.9 .3 .2 .3-1.7 .3 2.6 .4 .2 .3-1.3 .3-.2 .4 1.1 .3-.1 .3-1.5 .4 1.2 .3 .8 .3-.9 .4-1.2 .3 1.3 .3-.3 .4 .7 .3 0 .3-.1 .4-1.5 .3 2.2 .3-.5 .4-.2 .3 .7 .3 2 .4-3.8 .3 2.6 .3-1.6 .4 2.3 .3-2.5 .3 .6 .4 1.5 .3 .2 .3-.5 .4 .1 .3-.6 .3 0 .4 1.7 .3-.6 .3-.6 .4 .4 .3 .7 .3 .5 .4-1.4 .3 .2 .3 .5 .4 0 .3 1.2 .3-2.9 .4 2.8 .3-2.2 .3 .5 .4 .7 .3 .7 .3 .5 .4 .3 .3-.2 .3 2.6 .4-2.5 .3 .2 .3 1.4 .4-1.3 .3-.6 .3-.4 .4 1.6 .3-3.2 .3 .1 .3-1.1 .4 1.4 .3 2.1 .3-1.6 .4 .7 .3 .7 .3-2 .4 1.6 .3-.9 .3-.5 .4 1 .3-.2 .3-.2 .4 1.8 .3 .2 .3-.6 .4-.7 .3-1 .3 .3 .4-.3 .3 1.4 .3 .9 .4-1 .3-.3 .3 .7 .4 0 .3 .6 .3 1 .4-2.3 .3 3.1 .3-4.5 .4 .4 .3 .8 .3 .8 .4 2.5 .3-3.1 .3 1.8 .4-1.7 .3 .5 .3-1.3 .3 3.5 .4-2.5 .3-.5 .3 .9 .4 .5 .3-.4 .3-.5 .4-.4 .3 1.6 .3 2.1 .4-1.1 .3-.6 .3 1.4 .4 .3 .3-1.5 .3-1 .4 1.5 .3-.3 .3-1.1 .4 .5 .3 .7 .3 .4 .4-2.4 .3-1.9 .3 2.7 .4-.1 .3 1.1 .3-.7 .4 1.8 .3-2.3 .3 1.3 .4-1 .3 3.1 .3-1.9 .4 1.8 .3-2.8 .3 1.1 .3 1 .4-.8 .3-.2 .3 1 .4 .1 .3-1.6 .3 .5 .4 .9 .3-.6 .3-1.3 .4 3.1 .3-2.2 .3 .5 .4-.3 .3 .1 .3 .1 .4-1.1 .3 1.4" fill="none" stroke="#ff8a22" stroke-width="1.5" stroke-linejoin="round" /><path d="M202 53.3l.4-.8 .3-.2 .4 .4 .3-.5 .4 .5 .3 0 .4 .1 .3-.6 .4 .3 .3-.1 .4-.5 .3 .8 .4 0 .3 .2 .3 0 .4 .8 .3-.1 .3 .5 .4-.2 .3 .5 .3 .5 .4 .1 .3 0 .4-.5 .3 .2 .4 .1 .3-.4 .4 .1 .3-.5 .4-.1 .3-.1 .4-.7 .3 .1 .4-.1 .4 .4 .3 .6 .4 .4 .3 0 .4-.1 .3 1.2 .4-.1 .3 .7 .4-.4 .3 .6 .4 .9 .3-1 .4 0 .3 .5 .3 .2 .3-.2 .4 .1 .3-.5 .3 .6 .4 .2 .3-.9 .3 .7 .4 1.1 .3-.4 .3 1.1 .4 .2 .3 .8 .3 .5 .4 .6 .3 1.1 .3 .6 .4 .1 .3 .4 .3 .6 .4-1 .3 1.2 .4 .3 .3-.3 .4 .8 .3-.2 .4-.5 .3 .7 .4 .3 .3 .3 .4 .6 .3-.2 .4 .1 .3 .3 .4-.7 .3 1.3 .3-.4 .4 .3 .3 .5 .4 .6 .3 1.3 .4 0 .3-.1 .4 .6 .3 .1 .4 .8 .3 .2 .4 .1 .3 .7 .4 .3 .3 .4 .3 1.2 .4 .4 .3 .8 .3 .8 .4 .7 .3-.3 .4 .5 .3 1.2 .4 .9 .3-.6 .4 .2 .3 .3 .4 .2 .3 .2 .4-.1 .3 .8 .4-.2 .3 .4 .4 .3 .3 .8 .4 .3 .3 .8 .3 .2 .3 .3 .4 .8 .3 1.2 .3 .3 .4 .3 .3 .9 .3 .5 .4 0 .3-.6 .3 .3 .4-.5 .3 .2 .4 1 .4 .4 .3 1 .4 .3 .4 .7 .3-.9 .4-.4 .3 .4 .3 .6 .4-1 .3-.7 .3 .3 .4-.6 .3 .5 .3-.7 .4 .5 .3-.3 .4-.4 .3 .5 .4-1 .4-.3 .3 .7 .4-.1 .4-1 .3-.7 .4 .1 .4-2.4 .5-2.4 .4-2.6 .4 .4 .4-1.2 .3 .7 .4 .8 .4-1.3 .4 1.7 .3 .9 .3 1.3 .4 1.6 .4 1.5 .4 2 .3 1.2 .4 1.9 .4 1.4 .3-.4 .4 .5 .3-.7 .4 .9 .3-.5 .4-2.6 .4-2.3 .4-1.9 .4-3 .3-.2 .4 .3 .3-.6 .3-.3 .4 .8 .3-.5 .3 2.1 .4 .8 .3 1.9 .3 1.4 .4 1.9 .3 1 .4 .4 .3 .6 .4 .1 .3 .7 .4 .1 .3 1.3 .4 .4 .3 1.1 .4 .8 .3-.9 .4 .8 .3-1.1 .3 .2 .4-.2 .3-.5 .3 .4 .4 .7 .3 .4 .3-.3 .4 .9 .3 1.2 .4 1.5 .5 1.4 .4 1.9 .3-.3 .4 1.8 .3-.2 .3-2.9 .4 1.5 .3-2.5 .4-.5 .3 1.6 .4-2.8 .4-.9 .4-.8 .3-.8 .4 1.7 .4-2.1 .3-1.8 .4-.2 .4-2.6 .4-.5 .3-1.4 .4-1.6 .4 2.2 .4-.1 .4-3.5 .4 4.9 .3 .3 .4 .3 .3 2.2 .4 3.1 .3 1.7 .4 .9 .4 .3 .3 1.9 .4-.1 .4 0 .4 1.3 .3 .5 .4 .6 .3 2.4 .3-4.3 .4 2.4 .3-.4 .4 1.9 .3 .2 .3-1.4 .4-.2 .3-.7 .3 1.7 .4 1.8 .3-1.6 .4 1.3 .3 .2 .3 .6 .4-1.3 .3-.6 .3-.3 .4 2.7 .3-1.4 .4 .3 .3 1.5 .4-2.2 .3 2.7 .4-3 .3-.4 .4 1.8 .4-3 .3 .4 .4 .5 .3-.1 .4-.5 .4 .8 .3-.6 .4 2.3 .3-.5 .4-1.1 .3 2.8 .4-4.3 .3 2.7 .4 1 .3 .6 .4-.8 .3-.2 .4 .6 .4-.7 .4-5.5 .3 2.5 .4-2.9 .6-27.8 .6 29.9 .4 .8 .3 .5 .4-.2 .3 1.3 .4 .3 .3-.2 .4 4.1 .3-.8 .4-2.6 .4 2.7 .3-3.5 .4 .2 .3-.6 .3 .2 .4-1.4 .3-2.1 .4 1 .3-.3 .4 1 .4-3.8 .3-2 .4 1.1 .3-3 .4-1 .3 .4 .3-1.8 .4-.9 .3-2.1 .4-1.4 .4 3.4 .3 3 .4 3.5 .4 3 .3 3 .4 3 .3 1.4 .4 2.7 .3 5.4 .4 2.1 .3 3.1 .4 1.5 .3 3.7 .4-2.1 .4-1.6 .3-2.9 .4 .1 .4-.6 .4-.3 .3 2.9 .4 .4 .3 5.5 .4-1.8 .3 3.2 .3 4 .4 .8 .3-1.8 .4-4.1 .3 .7 .3-.2 .4-1 .3-2.7 .4-3.3 .3-3.1 .3-13.1 .4-11.3 .3-15.4 .3 10.4 .4 15.2 .3 8.3 .4 4.9 .4-.6 .4 2.7 .4-4.1 .4-2.3 .4-5.1 .3-3.9 .4-4 .4-4.5 .3 1.8 .4 2.9 .3 1.4 .3 2.5 .4-1.5 .3 .7 .3-1.2 .4 2.2 .3 3.9 .3-1.1 .4 .1 .3 1.4 .3-.5 .4 .1 .3-.5 .3 3.9 .4 .5 .3-1.1 .4 1 .3-1.3 .4 2.2 .3 1 .4 1.7 .3-.3 .3 .3 .4 .4 .3 1.5 .4 2.8 .3 1.1 .4 .5 .3 3.1 .4-1.6 .3-1.2 .4-.6 .3-1.9 .4-.8 .3 .8 .4-1.9 .4 2.1 .3 3.5 .4 0 .4 3.7 .3 .4 .4 2.6 .4-4.7 .4 .8 .4-3 .4-3.3 .3-.6 .4-2 .4 .7 .3 2.2 .4 3 .4 1.4 .4-2.7 .3-2.9 .4-5.3 .3-1.5 .4-2.2 .3-4.7 .4 5.1 .3 2.7 .4 1.7 .4 2.2 .3 3.2 .4 2.5 .4-1.2 .3-1.9 .4-.2 .4-1.6 .3-.2 .4-2.8 .4 1.5 .3 2.6 .4 1.2 .4 2.2 .4-1.4 .3-2.1 .4-2.9 .3-1.3 .4-.4 .3-1.4 .4 .8 .3 2 .4 .6 .4 2.1 .3-.4 .4 3.5 .4-.8 .3-2.3 .4-.7 .4-1.2 .3-1.9 .4-.2 .3-2.9 .4 .7 .4 0 .3 2.1 .4 3.2 .4 .1 .3 2.4 .4 .9 .4-2 .3-1.6 .4-1.9 .4-2.1 .4 3.9 .3 5.9 .4 2.4 .4 3.5 .4-.4 .3-3 .3-1.2 .4-.9 .3-2.6 .4-2.7 .4 1.5 .3 .8 .4 .9 .4-.3 .3 .5 .4-1 .4-.3 .3-1.9 .4-.5 .4-1.8 .3-1.4 .4-2.8 .4 3.4 .3 1.3 .4 2.2 .4 1.3 .3 1 .4 .4 .3-.1 .4-.8 .3 1.6 .3-.7 .4-1.3 .3-.5 .3 1 .4 .6 .3 .3 .4-1.2 .3-1 .4 1.6 .3 1.5 .4-.4 .3 1.2 .4 .7 .4-.2 .3-.3 .4 1.3 .3 1.9 .4-1.6 .4 0 .3 3.6 .4-.3 .4 .1 .3 .1 .4 2.3 .3 .3 .4 .1 .3-.5 .4-.6 .3 .4 .4-1.4 .3 .5 .3-2 .4-.3 .3-.5 .3-.2 .4 .3 .3-.4 .4-2.1 .3 1.1 .3-.7 .4 1.2 .3-1.1 .3 .8 .4 0 .3-.6 .4 .4 .3 .2 .3 .3 .4-1.3 .3 .4 .4 .6 .3-.1 .4-1.7 .4 1.9 .3-1.4 .4-.7 .3 1.6 .4-.6 .3 .9 .4 .8 .3 .8 .4-.1 .3 1.9 .3 1.2 .4 .9 .3-.1 .3 1.3 .4 1.2 .3 1.1 .4 .5 .3 .3 .4-1.2 .3-.9 .4-1.3 .4-3.4 .3-.6 .4-.8 .3-1.9 .4 .6 .3-.4 .4 2 .3-.8 .4 .1 .3 .6 .4 1.4 .3 .9 .3 .6 .4 .3 .3 1 .3 .8 .4 1.1 .3-1.3 .3 1.1 .4-.2 .3-.4 .3-.1 .4 .3 .3-.4 .4 .7 .4-.2 .3 .5 .4 1 .4 .7 .4 .2 .3-1 .4-.5 .3 .7 .3-.5 .4 1.6 .3-1.3 .4-1.4 .3-.1 .3-.5 .4 .3 .3 .1 .3-.4 .4 1.1 .3 0 .4 1 .3-2.2 .3 1.4 .4-1 .3-1.2 .4 0 .3 1.6 .4 2.9 .3-1.4 .3 .6 .4-.6 .3-2.7 .4 2 .3-.2 .3 .3 .4-2.4 .3 4.1 .4-1 .3-.9 .4-.9 .3 .6 .4-1.4 .3 2.1 .4-.7 .3-.3 .4 .1 .3 .3 .4-.4 .3 1.5 .4-.7 .3-.2 .3-.4 .4 2.3 .3 .4 .3-.4 .4-.9 .3 1.5 .3-.8 .3 1.3 .4-1.7 .3 1.3 .3-.3 .4-2.8 .3 2.1 .3-.2 .4-.7 .3 1.9 .4-2 .3 .7 .3-2.3 .4-1 .3 1.4 .3 .7 .4-1.4 .3 1 .4-.1 .3-1.1 .3-.5 .4 2 .3 .9 .3-1 .3-.8 .4 .1 .3 .6 .3 1.4 .4-1.4 .3 2.4 .3-1.4 .4 1.5 .3 .5 .3-2.1 .4 1.3 .3 1.9 .3-1.3 .3-3.2 .4 2.6 .3 2.2 .3-1.4 .4-2.9 .3 3.8 .4-2.4 .3 1.8 .3 .2 .4-3.7 .3 1.5 .4 1.8 .3-1.8 .3 1.6 .4 1.5 .3-1.8 .4-.3 .3 1.7 .3 .6 .4-1.2 .3 .5 .3 .3 .4-.9 .3-.6 .3 .9 .4-.8 .3 2.4 .3-.2 .4-.1 .3-.6 .3 .7 .4 1.1 .3 0 .3-1.2 .4 0 .3 1.1 .4 .7 .3-1.9 .3 2.1 .4 .9 .3-.8 .3-.7 .4 .8 .3-2.1 .3 .9 .4-1.1 .3 .7 .3 2.1 .4-1.2 .3 .3 .3-.3 .4 3.1 .3-2.1 .3 .4 .4-1.6 .3 2.5 .3-.4 .4 .9 .3-1.6 .3-1.6 .4-.1 .3 .9 .3 1.1 .4-2.7 .3 .8 .3 .1 .4-.8 .3 1.2 .3 .5 .4-.8 .3 0 .3 .8 .4 0 .3 .7 .3-2.4 .4 2.3 .3-1.5 .3-.4 .4-.9 .3 .9 .3 1 .4-3.4 .3 .8 .3 1.8 .4-1.2 .3 1 .3-2.1 .4-1.3 .3 1.8 .3 1.6 .4 .6 .3 .5 .3-1.7 .4-.7 .3 .5 .3-1.4 .4 3.4 .3-.1 .3 .7 .4-3.1 .3 1.9 .3-1.3 .4-.9 .3 2.2 .3-1.6 .4 2.4 .3-2 .3 1.1 .4 .2 .3-.7 .3 1.6 .4-.1 .3-.4 .3-.1 .4 2.3 .3-2.6 .3 .4 .4 1.3 .3-.7 .3-.1 .4-.2 .3-.6 .3 1.2 .4-1.3 .3 .9 .3-.9 .4 2.8 .3-1.8 .3 .8 .4 .4 .3-.6 .3 1.1 .4-.4 .3-2.4 .3 3 .4-1.3 .3 2.4 .3-.7 .4-.6 .3-2.2 .4 1.2 .3 .6 .3-1.2 .4 3.2 .3-1.7 .4-.8 .3-1.1 .3 .6 .4 0 .3-.3 .4 1.3 .3-2.5 .3 2.1 .4 .9 .3-2.3 .4 1.2 .3-.1 .3-.7 .4 2.1 .3-1.3 .4 .7 .3-.6 .3 .5 .4-.6 .3-1.2 .4 3.1 .3-1 .3 .8 .4-3 .3 2.8 .3-.3 .4-3 .3 2.1 .3-.8 .4 .3 .3 .2 .3-1.1 .4 .7 .3 .1 .3 1.3 .4-1.6 .3-1 .3 1 .4 1.5 .3-2.7 .3 2.2 .4-.1 .3-.9 .3 .4 .3 1.8 .4-2 .3 .6 .3 .9 .4-3.4 .3 .5 .3-.1 .4 1 .3 .7 .3 .1 .4-1.2 .3 1.7 .3-1.6 .4-.7 .3 1.5 .3-1.5 .4 1.8 .3-.3 .3 1 .4-2.3 .3-.8 .3 1.9 .4-.5 .3-.9 .3 1.1 .4-3.1 .3 1.2 .3 1.2 .4-1.6 .3 .4 .3-.2 .4-.2 .3 .2 .3-.6 .4-2.1 .3 .8 .4-.6 .3 .9 .3 .7 .4-.6 .3-1.7 .3 .7 .4-.3 .3-.7 .3 1.5 .4-1.1 .3-1.7 .3-1.6 .4 1.7 .3 1.7 .3-1.5 .4 0 .3-.4 .3 .6 .4-.7 .3-.3 .3-.3 .4 1.5 .3-.9 .4-.2 .3-.3 .3-.7 .4 .2 .3 0 .3-.6 .4 1 .3-2.2 .3-.4 .4-.2 .3-.7 .3-.7 .4 .3 .3 .5 .4-1.7 .3 .4 .3-2.1 .4-.1 .3 1.6 .4-1.7 .3-.1 .3-.8 .4-.2 .3 .8 .4-1 .3 .4 .3 1.1 .4-1.9 .3-.1 .4-1 .3 .2 .3-.1 .4 .3 .3-2.1 .4 .1 .3-.3 .3 1 .4-1.4 .3 .2 .4-.5 .3-1.6 .3-.9 .4-1.3 .3 .8 .4-.2 .3-1.8 .3 1.8 .4-1.2 .3-1.1 .4 .5 .3-1.3 .3 .4 .4-1.5 .3 1.1 .4-3.2 .3 .1 .3 2.4 .4-1.3 .3-2.3 .4 1.1 .3-.2 .3-.5 .4-1.5 .3 1.2 .4-1.5 .3-2.1 .3 3.3 .4-2.9 .3-1.3 .4-.8 .3 1.3 .3-.4 .4-1.9 .3 .6 .3-1.9 .4-1.1 .3 2.8 .4-2.6 .3 1.6 .3-.7 .4 .8 .3-1.5 .3-.4 .4-.7 .3 .1 .4-.4 .3-1.7 .3 .6 .4-.7 .3 1.3 .3-1.5 .4 1.9 .3-1.8 .4 2.3 .3 2.3 .4-1.2 .3 1.7 .3-1.1 .4 1.2 .3-2.2 .4 1.8 .3 3 .4-2.4 .3 2.3 .3 .9 .4-1.5 .3 1.4 .4-.2 .3-.6 .3 1.5 .4-1 .3 1 .4-.4 .3 1.4 .4 .8 .3-.5 .3-.3 .4 3.1 .3 1.1 .3-1.6 .4 .8 .3-1.4 .3 5.2 .4-1.3 .3-1.1 .3 3.2 .4 0 .3 1.2 .4-.2 .3 .4 .3-.2 .4 1.1 .3-.8 .3 .6 .4 2 .3 .6 .3-1.2 .4 2.6 .3 1.2 .3-1.9 .4 1.3 .3-.2 .4 1.8 .3 .5 .3-.2 .4 .3 .3 .8 .4 .1 .3 .2 .3-1.3 .4 2.1 .3 1.5 .4 1 .3-.9 .3-3 .4 3.3 .3-.6 .4-1.3 .3 0 .3 3.2 .4-1.8 .3 1.2 .4 1.5 .3-4.3 .3 5.5 .4-2.3 .3 .9 .4 1.8 .3 0 .3-3.3 .4 4 .3-.8 .3-.5 .4-1.1 .3 3.2 .3 1 .4-2.7 .3 .4 .4-1.2 .3 1.1 .3-.3 .4 1.6 .3 1.5 .3 .2 .4-2.2 .3 2.7 .3-1.7 .4 .1 .3 2.5 .3-.8 .4 3.6 .3-2.8 .4 .9 .3-2.4 .3 2.5 .4 1.2 .3-2.2 .3-.5 .4 2.2 .3-2.8 .3 2 .4-1 .3 1.2 .3 .6 .4 0 .3 1.7 .4-2.6 .3 1.2 .3-2.7 .4 1.4 .3 1.5 .4-2.4 .3 1.4 .3 .5 .4-.1 .3-1.6 .4 1.2 .4-1.9 .3 .7 .3 .2 .4-.2 .3-.2 .4 1.2 .4-2.7 .3-2.4 .3 3.3 .4-2.8 .3 .3 .4-.3 .3 .8 .3-1.3 .4-.4 .3 0 .3-.5 .4-1.7 .3 .2 .3-1.3 .4 2.3 .3-.3 .4-.7 .3-.9 .4-1.6 .4 1.1 .3-3.2 .4 0 .3 2.9 .4-2.2 .3 2.2 .4-2.5 .3 2.7 .4 1.2 .3-.2 .4-.4 .3 1.7 .4 1.5 .3-3.1 .3 1.3 .4 1.8 .3-.2 .4 4 .3-.6 .3-1.1 .4 3.8 .3 .2 .3 .9 .4 .2 .3-1.6 .3 .6 .4 1.8 .3 1.7 .4 1.2 .3 .6 .4-3.2 .3-2.4 .4 3.7 .3-1.3 .4-.5 .4-2.3 .3-.6 .4-.2 .3-.7 .4-1.2 .4-2.2 .3-1.4 .4 .9 .3 1.3 .4-3.9 .4-1.9 .3-.7 .4 1.8 .3 1.6 .4-3.4 .3 .7 .4 2.6 .3 2.1 .4 1 .3 1.3 .4-.4 .3 1.8 .4 1.2 .3 2.6 .4-4.5 .4 2.9 .3 1.9 .4 0 .3 .5 .4-.3 .3 1 .4 .1 .4-3.1 .3 .2 .3 0 .4-3.1 .4-1.3 .3 3.3 .4-.2 .3-3 .4 2.4 .3-1.9 .4-3.9 .4 3.6 .3 .4 .4 1 .3-.6 .4 2.8 .3-.4 .4 2.8 .3-2 .4-2.4 .4 5.2 .3-2.4 .4-3.8 .4 1 .3 1.3 .4-2.8 .4 1.6 .3-2.9 .4 1.2 .3-1.6 .4-.3 .3 2.9 .4-.6 .3 1.6 .3-1.5 .4 1.5 .3 3.5 .3-2.9 .4-3.6 .3-2.8 .3 5.6 .4-2.9 .3-2.9 .4 3.9 .4 2.6 .3-1.4 .4 .2 .4 2.9 .3-3.5 .4 .5 .3-1.4 .3-.2 .4-1.7 .3-1 .3 2.6 .4-.3 .3 0 .4 .8 .3 .4 .4-.2 .3 2.2 .4-3.3 .3-.8 .3-2 .4 1.7 .4-6.4 .3 4.2 .4-3.2 .3 1.2 .3-1.1 .4-2.4 .4 1 .3 2.6 .4 4.8 .3-2.9 .4 1.1 .3 1 .4 2.8 .3 2.1 .4-1.8 .3 1.5 .4 0 .4 2.3 .3-2.3 .4-.2 .3 1.7 .3-1.6 .4-1 .4 3.6 .3-5 .3 2.8 .4-.7 .3-.8 .4 3.8" fill="none" stroke="#33a333" stroke-width="1.5" stroke-linejoin="round" /><path d="M202 130.7l3 .1 3.1 .1 3 0 3 .1 3.1 .1 3 .1 3 .1 3.1 0 3 .1 3 .1 3.1 .1 3 .1 3 0 3.1 .1 3 .1 3.1 .1 3 0 3 .1 3.1 .1 3 .1 3 .1 3.1 0 3 .1 3 .1 3.1 .1 3 .1 3 0 3.1 .1 3 .1 3.1 .1 3.1 .1 3.1 .1 3.1 .1 3.1 .1 3.1 .1 3.1 .1 3.1 .1 3.1 .1 3.1 .1 3 0 3.1 .1 3.1 .1 3.1 .1 3.1 .1 3.1 .1 3.1 .1 3.1 .1 3.1 .1 3.1 .1 3.1 .1 3 .1 3 .2 3 .1 3 .2 3 .1 3 .1 3 .2 3 .1 3 .2 3 .1 3 .1 3 .2 3 .1 3 .2 3 .1 3 .1 3 .2 3 .1 3 .2 3 .1 3 .1 3 .2 3 .1 3 .2 3 .1 3.1 .2 3.1 .2 3.2 .2 3.1 .2 3.1 .2 3.2 .2 3.1 .2 3.1 .3 3.1 .2 3.1 .2 3.2 .2 3.1 .2 3.1 .2 3.2 .2 3.1 .2 3.1 .2 3.2 .3 3.2 .3 3.1 .4 3.2 .3 3.2 .3 3.2 .3 3.2 .3 3.2 .3 3.1 .4 3.2 .3 3.2 .3 3.1 .3 3.2 .3 3.1 .4 3.1 .3 3.2 .3 3.1 .3 3.1 .4 3.2 .3 3.1 .3 3.6 .8 3.6 .7 3.5 .8 3.6 .7 3.6 .8 3.6 .9 3.6 .9 3.5 .8 3.6 .9 3.6 .9 3 .9" fill="none" stroke="#000" stroke-width="1.6" stroke-linejoin="round" stroke-dasharray="4.6,2.4"/><line x1="587.9" y1="144.4" x2="675.6" y2="144.4" stroke="#1f961f" stroke-width="1.5" stroke-dasharray="4.5,2.4"/><line x1="425.5" y1="105.2" x2="425.5" y2="157.3" stroke="#1f961f" stroke-width="1.5" stroke-dasharray="4.5,2.4"/><line x1="419.3" y1="113.7" x2="432.7" y2="113.7" stroke="#000" stroke-width="1" /><polygon points="415.8,113.7 419.3,111.7 419.3,115.7" fill="#000"/><polygon points="436.2,113.7 432.7,111.7 432.7,115.7" fill="#000"/><text x="412.9" y="110.1" font-size="9.7" text-anchor="start" font-weight="normal" textLength="33.9" lengthAdjust="spacingAndGlyphs">BN OFD</text><text x="307.5" y="78.1" font-size="10.65" text-anchor="start" font-weight="normal" >ILW 322 Hz</text><line x1="337.1" y1="84.2" x2="365.2" y2="106.6" stroke="#000" stroke-width="1.1" /><polygon points="369.5,110 363.6,108.6 366.8,104.5" fill="#000"/><text x="637.2" y="113" font-size="10.65" text-anchor="middle" font-weight="normal" >FLW 17 Hz</text><line x1="642.1" y1="116.3" x2="642.1" y2="127.9" stroke="#000" stroke-width="1.1" /><polygon points="642.1,133.4 639.5,127.9 644.7,127.9" fill="#000"/><rect x="206.5" y="5.5" width="135.2" height="30.7" rx="2" fill="#fff" fill-opacity="0.85" stroke="#d0d0d0" stroke-width="1"/><line x1="210.1" y1="12.9" x2="231.3" y2="12.9" stroke="#3a88c4" stroke-width="1.8" /><text x="237.4" y="16.6" font-size="10.35" text-anchor="start" font-weight="normal" >Pump</text><line x1="210.1" y1="27.1" x2="231.3" y2="27.1" stroke="#ff9437" stroke-width="1.8" /><text x="237.4" y="30.8" font-size="10.35" text-anchor="start" font-weight="normal" >S1</text><line x1="268.9" y1="12.9" x2="290" y2="12.9" stroke="#4db24d" stroke-width="1.8" /><text x="294.1" y="16.6" font-size="10.35" text-anchor="start" font-weight="normal" >S1 + Coil</text><line x1="269.8" y1="27.1" x2="289.5" y2="27.1" stroke="#000" stroke-width="1.7" stroke-dasharray="4.6,2.2"/><text x="294.1" y="30.8" font-size="10.35" text-anchor="start" font-weight="normal" >Coil TRN</text><rect x="516.4" y="2" width="159.2" height="63.9" rx="2.5" fill="#fff" fill-opacity="0.85" stroke="#a8a8a8" stroke-width="1"/><text x="627" y="12" font-size="10.5" text-anchor="end" font-weight="normal" >FLW</text><text x="671" y="12" font-size="10.5" text-anchor="end" font-weight="normal" >ILW</text><line x1="519.1" y1="14.6" x2="672.5" y2="14.6" stroke="#333" stroke-width="1.0" /><line x1="522.5" y1="23.4" x2="543.2" y2="23.4" stroke="#3a88c4" stroke-width="1.5" /><text x="546.5" y="26.3" font-size="10.5" text-anchor="start" font-weight="normal" >Pump</text><text x="627" y="26.3" font-size="10.5" text-anchor="end" font-weight="normal" >47 kHz</text><text x="671" y="26.3" font-size="10.5" text-anchor="end" font-weight="normal" xml:space="preserve">257 kHz</text><line x1="522.5" y1="35.4" x2="543.2" y2="35.4" stroke="#ff9437" stroke-width="1.5" /><text x="546.5" y="38.3" font-size="10.5" text-anchor="start" font-weight="normal" >SBS</text><text x="627" y="38.3" font-size="10.5" text-anchor="end" font-weight="normal" >14 Hz</text><text x="671" y="38.3" font-size="10.5" text-anchor="end" font-weight="normal" xml:space="preserve">4 kHz</text><line x1="522.5" y1="47.7" x2="543.2" y2="47.7" stroke="#4db24d" stroke-width="1.5" /><text x="546.5" y="50.6" font-size="10.5" text-anchor="start" font-weight="normal" >SBS+Coil</text><text x="627" y="50.6" font-size="10.5" text-anchor="end" font-weight="normal" >17 Hz</text><text x="671" y="50.6" font-size="10.5" text-anchor="end" font-weight="normal" xml:space="preserve">322 Hz</text><line x1="522.5" y1="60.2" x2="543.2" y2="60.2" stroke="#000" stroke-width="1.5" stroke-dasharray="3.4,1.9"/><text x="546.5" y="63.1" font-size="10.5" text-anchor="start" font-weight="normal" >TRN limit</text><text x="671" y="63.1" font-size="10.5" text-anchor="end" font-weight="normal" xml:space="preserve">13  Hz</text><line x1="222.3" y1="157.3" x2="222.3" y2="154.7" stroke="#262626" stroke-width="0.8" /><line x1="234.2" y1="157.3" x2="234.2" y2="154.7" stroke="#262626" stroke-width="0.8" /><line x1="242.7" y1="157.3" x2="242.7" y2="154.7" stroke="#262626" stroke-width="0.8" /><line x1="249.3" y1="157.3" x2="249.3" y2="154.7" stroke="#262626" stroke-width="0.8" /><line x1="254.7" y1="157.3" x2="254.7" y2="154.7" stroke="#262626" stroke-width="0.8" /><line x1="259.2" y1="157.3" x2="259.2" y2="154.7" stroke="#262626" stroke-width="0.8" /><line x1="263.1" y1="157.3" x2="263.1" y2="154.7" stroke="#262626" stroke-width="0.8" /><line x1="266.6" y1="157.3" x2="266.6" y2="154.7" stroke="#262626" stroke-width="0.8" /><line x1="290.1" y1="157.3" x2="290.1" y2="154.7" stroke="#262626" stroke-width="0.8" /><line x1="302" y1="157.3" x2="302" y2="154.7" stroke="#262626" stroke-width="0.8" /><line x1="310.5" y1="157.3" x2="310.5" y2="154.7" stroke="#262626" stroke-width="0.8" /><line x1="317.1" y1="157.3" x2="317.1" y2="154.7" stroke="#262626" stroke-width="0.8" /><line x1="322.4" y1="157.3" x2="322.4" y2="154.7" stroke="#262626" stroke-width="0.8" /><line x1="327" y1="157.3" x2="327" y2="154.7" stroke="#262626" stroke-width="0.8" /><line x1="330.9" y1="157.3" x2="330.9" y2="154.7" stroke="#262626" stroke-width="0.8" /><line x1="334.4" y1="157.3" x2="334.4" y2="154.7" stroke="#262626" stroke-width="0.8" /><line x1="357.9" y1="157.3" x2="357.9" y2="154.7" stroke="#262626" stroke-width="0.8" /><line x1="369.8" y1="157.3" x2="369.8" y2="154.7" stroke="#262626" stroke-width="0.8" /><line x1="378.3" y1="157.3" x2="378.3" y2="154.7" stroke="#262626" stroke-width="0.8" /><line x1="384.9" y1="157.3" x2="384.9" y2="154.7" stroke="#262626" stroke-width="0.8" /><line x1="390.2" y1="157.3" x2="390.2" y2="154.7" stroke="#262626" stroke-width="0.8" /><line x1="394.8" y1="157.3" x2="394.8" y2="154.7" stroke="#262626" stroke-width="0.8" /><line x1="398.7" y1="157.3" x2="398.7" y2="154.7" stroke="#262626" stroke-width="0.8" /><line x1="402.2" y1="157.3" x2="402.2" y2="154.7" stroke="#262626" stroke-width="0.8" /><line x1="425.7" y1="157.3" x2="425.7" y2="154.7" stroke="#262626" stroke-width="0.8" /><line x1="437.6" y1="157.3" x2="437.6" y2="154.7" stroke="#262626" stroke-width="0.8" /><line x1="446.1" y1="157.3" x2="446.1" y2="154.7" stroke="#262626" stroke-width="0.8" /><line x1="452.7" y1="157.3" x2="452.7" y2="154.7" stroke="#262626" stroke-width="0.8" /><line x1="458" y1="157.3" x2="458" y2="154.7" stroke="#262626" stroke-width="0.8" /><line x1="462.6" y1="157.3" x2="462.6" y2="154.7" stroke="#262626" stroke-width="0.8" /><line x1="466.5" y1="157.3" x2="466.5" y2="154.7" stroke="#262626" stroke-width="0.8" /><line x1="470" y1="157.3" x2="470" y2="154.7" stroke="#262626" stroke-width="0.8" /><line x1="493.5" y1="157.3" x2="493.5" y2="154.7" stroke="#262626" stroke-width="0.8" /><line x1="505.4" y1="157.3" x2="505.4" y2="154.7" stroke="#262626" stroke-width="0.8" /><line x1="513.9" y1="157.3" x2="513.9" y2="154.7" stroke="#262626" stroke-width="0.8" /><line x1="520.4" y1="157.3" x2="520.4" y2="154.7" stroke="#262626" stroke-width="0.8" /><line x1="525.8" y1="157.3" x2="525.8" y2="154.7" stroke="#262626" stroke-width="0.8" /><line x1="530.3" y1="157.3" x2="530.3" y2="154.7" stroke="#262626" stroke-width="0.8" /><line x1="534.3" y1="157.3" x2="534.3" y2="154.7" stroke="#262626" stroke-width="0.8" /><line x1="537.7" y1="157.3" x2="537.7" y2="154.7" stroke="#262626" stroke-width="0.8" /><line x1="561.3" y1="157.3" x2="561.3" y2="154.7" stroke="#262626" stroke-width="0.8" /><line x1="573.2" y1="157.3" x2="573.2" y2="154.7" stroke="#262626" stroke-width="0.8" /><line x1="581.7" y1="157.3" x2="581.7" y2="154.7" stroke="#262626" stroke-width="0.8" /><line x1="588.2" y1="157.3" x2="588.2" y2="154.7" stroke="#262626" stroke-width="0.8" /><line x1="593.6" y1="157.3" x2="593.6" y2="154.7" stroke="#262626" stroke-width="0.8" /><line x1="598.1" y1="157.3" x2="598.1" y2="154.7" stroke="#262626" stroke-width="0.8" /><line x1="602.1" y1="157.3" x2="602.1" y2="154.7" stroke="#262626" stroke-width="0.8" /><line x1="605.5" y1="157.3" x2="605.5" y2="154.7" stroke="#262626" stroke-width="0.8" /><line x1="629" y1="157.3" x2="629" y2="154.7" stroke="#262626" stroke-width="0.8" /><line x1="641" y1="157.3" x2="641" y2="154.7" stroke="#262626" stroke-width="0.8" /><line x1="649.5" y1="157.3" x2="649.5" y2="154.7" stroke="#262626" stroke-width="0.8" /><line x1="656" y1="157.3" x2="656" y2="154.7" stroke="#262626" stroke-width="0.8" /><line x1="661.4" y1="157.3" x2="661.4" y2="154.7" stroke="#262626" stroke-width="0.8" /><line x1="665.9" y1="157.3" x2="665.9" y2="154.7" stroke="#262626" stroke-width="0.8" /><line x1="669.9" y1="157.3" x2="669.9" y2="154.7" stroke="#262626" stroke-width="0.8" /><line x1="673.3" y1="157.3" x2="673.3" y2="154.7" stroke="#262626" stroke-width="0.8" /><line x1="201.9" y1="157.3" x2="201.9" y2="152.8" stroke="#262626" stroke-width="1" /><line x1="269.7" y1="157.3" x2="269.7" y2="152.8" stroke="#262626" stroke-width="1" /><line x1="337.5" y1="157.3" x2="337.5" y2="152.8" stroke="#262626" stroke-width="1" /><line x1="405.3" y1="157.3" x2="405.3" y2="152.8" stroke="#262626" stroke-width="1" /><line x1="473.1" y1="157.3" x2="473.1" y2="152.8" stroke="#262626" stroke-width="1" /><line x1="540.9" y1="157.3" x2="540.9" y2="152.8" stroke="#262626" stroke-width="1" /><line x1="608.6" y1="157.3" x2="608.6" y2="152.8" stroke="#262626" stroke-width="1" /><line x1="676.4" y1="157.3" x2="676.4" y2="152.8" stroke="#262626" stroke-width="1" /><line x1="201.9" y1="157.3" x2="206.4" y2="157.3" stroke="#262626" stroke-width="1" /><line x1="201.9" y1="122.4" x2="206.4" y2="122.4" stroke="#262626" stroke-width="1" /><line x1="201.9" y1="87.5" x2="206.4" y2="87.5" stroke="#262626" stroke-width="1" /><line x1="201.9" y1="52.7" x2="206.4" y2="52.7" stroke="#262626" stroke-width="1" /><line x1="201.9" y1="17.8" x2="206.4" y2="17.8" stroke="#262626" stroke-width="1" /><rect x="201.9" y="0.5" width="474.5" height="156.8" fill="none" stroke="#262626" stroke-width="1"/><text x="202.2" y="172.6" font-size="10.3" text-anchor="middle">10<tspan font-size="7.83" dy="-5.3">0</tspan></text><text x="270" y="172.6" font-size="10.3" text-anchor="middle">10<tspan font-size="7.83" dy="-5.3">1</tspan></text><text x="337.8" y="172.6" font-size="10.3" text-anchor="middle">10<tspan font-size="7.83" dy="-5.3">2</tspan></text><text x="405.6" y="172.6" font-size="10.3" text-anchor="middle">10<tspan font-size="7.83" dy="-5.3">3</tspan></text><text x="473.4" y="172.6" font-size="10.3" text-anchor="middle">10<tspan font-size="7.83" dy="-5.3">4</tspan></text><text x="541.1" y="172.6" font-size="10.3" text-anchor="middle">10<tspan font-size="7.83" dy="-5.3">5</tspan></text><text x="608.9" y="172.6" font-size="10.3" text-anchor="middle">10<tspan font-size="7.83" dy="-5.3">6</tspan></text><text x="676.7" y="172.6" font-size="10.3" text-anchor="middle">10<tspan font-size="7.83" dy="-5.3">7</tspan></text><text x="196.9" y="163.3" font-size="10.3" text-anchor="end">10<tspan font-size="7.83" dy="-5.3">0</tspan></text><text x="196.9" y="128.4" font-size="10.3" text-anchor="end">10<tspan font-size="7.83" dy="-5.3">2</tspan></text><text x="196.9" y="93.5" font-size="10.3" text-anchor="end">10<tspan font-size="7.83" dy="-5.3">4</tspan></text><text x="196.9" y="58.7" font-size="10.3" text-anchor="end">10<tspan font-size="7.83" dy="-5.3">6</tspan></text><text x="196.9" y="23.8" font-size="10.3" text-anchor="end">10<tspan font-size="7.83" dy="-5.3">8</tspan></text><text x="388.9" y="187.7" font-size="10.4" text-anchor="start" font-weight="normal" textLength="99.8" lengthAdjust="spacingAndGlyphs">Offset frequency (Hz)</text><text transform="translate(172.1,78.7) rotate(-90)" font-size="10.55" text-anchor="middle">Frequency noise (Hz<tspan font-size="7.6" dy="-4.2">2</tspan><tspan dy="4.2">/Hz)</tspan></text><line x1="269.7" y1="213.3" x2="269.7" y2="370.1" stroke="#c8c8c8" stroke-width="0.9" /><line x1="337.5" y1="213.3" x2="337.5" y2="370.1" stroke="#c8c8c8" stroke-width="0.9" /><line x1="405.3" y1="213.3" x2="405.3" y2="370.1" stroke="#c8c8c8" stroke-width="0.9" /><line x1="473.1" y1="213.3" x2="473.1" y2="370.1" stroke="#c8c8c8" stroke-width="0.9" /><line x1="540.9" y1="213.3" x2="540.9" y2="370.1" stroke="#c8c8c8" stroke-width="0.9" /><line x1="608.6" y1="213.3" x2="608.6" y2="370.1" stroke="#c8c8c8" stroke-width="0.9" /><line x1="201.9" y1="330.9" x2="676.3" y2="330.9" stroke="#c8c8c8" stroke-width="0.9" /><line x1="201.9" y1="291.7" x2="676.3" y2="291.7" stroke="#c8c8c8" stroke-width="0.9" /><line x1="201.9" y1="252.5" x2="676.3" y2="252.5" stroke="#c8c8c8" stroke-width="0.9" /><path d="M391.6 370.1 L391.8 309.3 L392.1 309.7 L392.4 309 L392.8 309 L393.1 309.2 L393.4 309.6 L393.8 309.3 L394.1 309.6 L394.5 314.3 L394.8 317.4 L395.2 319.8 L395.6 321.1 L395.9 321.6 L396.3 322.9 L396.6 323.1 L397 323.9 L397.4 324.6 L397.7 325.5 L398.1 326.8 L398.4 326.9 L398.8 326.3 L399.1 326.9 L399.4 327.6 L399.8 327.6 L400.1 328.1 L400.4 327.9 L400.8 327.4 L401.1 328.5 L401.5 328.4 L401.8 328.6 L402.2 327.9 L402.5 328.5 L402.9 328.3 L403.3 328.8 L403.6 328.9 L404 328.4 L404.3 328.2 L404.7 328 L405.1 329.4 L405.4 330.8 L405.8 331.1 L406.1 331 L406.5 332.7 L406.9 334 L407.2 334.5 L407.6 334.9 L407.9 334.5 L408.3 333.6 L408.6 333.5 L408.9 333.3 L409.3 332.7 L409.6 332.8 L410 332.5 L410.3 332.7 L410.6 332.1 L411 331.6 L411.3 331.1 L411.7 331 L412 331.9 L412.4 332.5 L412.8 332.3 L413.1 333.6 L413.5 333.6 L413.8 333.7 L414.2 333.7 L414.6 335.4 L414.9 334.4 L415.3 335.6 L415.7 335.4 L416 336.1 L416.4 336.1 L416.8 335.6 L417.1 335.9 L417.5 334.2 L417.9 334 L418.2 333.8 L418.6 332.6 L418.9 332.6 L419.3 331.4 L419.7 333.1 L420 334.1 L420.4 335.2 L420.8 335.7 L421.1 337.5 L421.5 337.9 L421.9 338.8 L422.2 339.1 L422.6 338.9 L422.9 338.5 L423.3 339.3 L423.7 338.9 L424 338.7 L424.4 339.4 L424.7 338.7 L425.1 338.8 L425.4 338.6 L425.8 338 L426.1 338.4 L426.4 338.7 L426.8 338.7 L427.1 338.6 L427.5 339.2 L427.8 339 L428.1 339.2 L428.5 339.3 L428.8 338.6 L429.2 337.9 L429.5 337.5 L429.9 337.4 L430.2 335.4 L430.6 335.4 L431 335.1 L431.3 334.8 L431.7 333.6 L432 333.4 L432.4 334.1 L432.7 334.2 L433 333.9 L433.4 335 L433.7 334.6 L434.1 335.3 L434.4 335.6 L434.7 334.7 L435.1 335.8 L435.4 334.7 L435.7 336.2 L436.1 335.7 L436.4 335.4 L436.7 336.2 L437.1 336.6 L437.4 336.3 L437.7 336.7 L438 337.1 L438.4 336.2 L438.7 337.5 L439 338.2 L439.4 338.4 L439.7 339 L440 337.9 L440.4 341.7 L440.7 339.9 L441 339.5 L441.4 340.2 L441.7 339.4 L442 338.7 L442.3 340.6 L442.7 340.1 L443 337.7 L443.3 338.7 L443.7 340.6 L444 340.3 L444.3 340.6 L444.6 341 L445 342 L445.3 339.6 L445.6 339.7 L446 340.4 L446.3 340.8 L446.6 340.8 L447 341.4 L447.3 339.2 L447.6 341 L448 340.2 L448.3 338.6 L448.6 342 L449 340.6 L449.3 339.2 L449.6 337.1 L450 338.9 L450.3 339 L450.6 339.8 L450.9 342.3 L451.3 340.6 L451.6 340.1 L451.9 338.5 L452.3 339.5 L452.6 339.2 L452.9 342.9 L453.3 339.1 L453.6 338.8 L453.9 341.1 L454.3 340.3 L454.6 339.3 L454.9 342.5 L455.3 341.2 L455.6 342.4 L456 343 L456.3 342.5 L456.6 344.1 L457 344.6 L457.3 343.2 L457.6 342.1 L458 341.9 L458.3 344.5 L458.7 346.2 L459 346.7 L459.3 347.6 L459.7 346 L460 347.7 L460.4 345.3 L460.7 348.2 L461 348.4 L461.4 348.2 L461.7 348.2 L462.1 347.7 L462.4 350.5 L462.7 348.5 L463.1 349.4 L463.4 347.9 L463.8 348.8 L464.1 347.2 L464.4 348.6 L464.8 347.8 L465.1 348.3 L465.5 347.2 L465.8 346.5 L466.2 348.9 L466.5 349.4 L466.8 347.2 L467.2 348.4 L467.5 348.2 L467.9 347.7 L468.2 345.5 L468.5 347.4 L468.9 345.9 L469.2 348.2 L469.5 347.6 L469.9 344.2 L470.2 347.7 L470.5 347.8 L470.9 345.7 L471.2 348.2 L471.5 347.3 L471.9 347 L472.2 346.5 L472.5 346.1 L472.8 350.5 L473.2 347.2 L473.5 347 L473.8 345.9 L474.2 345.7 L474.5 345.6 L474.8 345.1 L475.2 346.8 L475.5 345.4 L475.8 346.5 L476.2 344.1 L476.5 345.3 L476.9 346.1 L477.2 345.2 L477.6 344.4 L477.9 346.7 L478.3 344.9 L478.6 345.2 L479 344.4 L479.3 345.5 L479.7 344.7 L480 345.3 L480.4 344 L480.7 343.1 L481.1 344.9 L481.4 345.2 L481.7 344.9 L482.1 342.7 L482.4 344.5 L482.8 344.2 L483.1 344 L483.4 343.3 L483.8 343.9 L484.1 344.6 L484.4 343 L484.8 341.9 L485.1 343.4 L485.5 343.6 L485.8 341.4 L486.1 342.6 L486.5 343.9 L486.8 343 L487.1 341.6 L487.5 343.9 L487.8 344.7 L488.1 342.5 L488.5 341.8 L488.8 341.2 L489.1 343.3 L489.5 342.4 L489.8 341.3 L490.1 343.4 L490.5 342.7 L490.8 340 L491.1 341.8 L491.5 342.6 L491.8 340.5 L492.1 342.9 L492.5 343.4 L492.8 342.9 L493.1 340.9 L493.5 340.9 L493.8 342.6 L494.1 342.8 L494.5 342.7 L494.8 341.2 L495.1 340.8 L495.5 339.2 L495.8 342 L496.1 343.6 L496.5 340.5 L496.8 340.4 L497.1 341.6 L497.5 339.2 L497.8 339.8 L498.1 339.3 L498.5 342.6 L498.8 339.4 L499.1 341 L499.5 342.1 L499.8 341.9 L500.1 341.4 L500.5 341.6 L500.8 338.4 L501.2 338.9 L501.5 339.3 L501.8 342.4 L502.2 337.6 L502.5 340 L502.9 338 L503.2 340.7 L503.5 340.6 L503.9 338.6 L504.2 341.4 L504.6 340.6 L504.9 339.5 L505.2 338.5 L505.6 338.8 L505.9 339.1 L506.3 339.9 L506.6 339.3 L506.9 341.8 L507.3 339 L507.6 338.7 L508 338.3 L508.3 337.5 L508.6 337.9 L509 339.9 L509.3 338.9 L509.7 338.6 L510 339.1 L510.3 339.8 L510.7 339.1 L511 339.2 L511.3 337.6 L511.7 337.3 L512 337.9 L512.3 337.1 L512.7 337.5 L513 337.6 L513.3 337.5 L513.7 337.3 L514 337 L514.3 338.9 L514.7 337 L515 337.4 L515.3 335.9 L515.7 335.7 L516 336.9 L516.3 334.8 L516.7 332.9 L517 336.6 L517.3 337.3 L517.6 334.2 L518 334.9 L518.3 336.5 L518.6 334.7 L519 334.2 L519.3 335.2 L519.6 333 L520 336 L520.3 334.7 L520.6 335.1 L521 334.2 L521.3 332.1 L521.6 334.2 L522 334.3 L522.3 333.2 L522.6 333.7 L523 333.8 L523.3 334.8 L523.6 334.7 L524 332.7 L524.3 333.7 L524.6 335.2 L525 334 L525.3 332.6 L525.6 332.8 L526 334.1 L526.3 333 L526.6 333.2 L527 335.1 L527.3 331.1 L527.6 331.3 L528 330.4 L528.3 330.4 L528.6 332.9 L529 333.5 L529.3 329.4 L529.7 330.4 L530 332.8 L530.3 332.2 L530.7 331.8 L531 331.7 L531.3 330.6 L531.7 330.3 L532 330.2 L532.3 330.9 L532.7 330.1 L533 331.1 L533.3 328.1 L533.7 328.3 L534 329.5 L534.3 328.4 L534.7 328.3 L535 330.5 L535.3 328.5 L535.7 327.4 L536 330.4 L536.3 326.3 L536.7 326.7 L537 327.4 L537.4 326.4 L537.7 329.4 L538 327.5 L538.4 326.3 L538.7 327.1 L539 325.5 L539.4 326.3 L539.7 328.6 L540 323.2 L540.4 325.9 L540.7 326.6 L541 325.7 L541.4 326.7 L541.7 324.8 L542 324.3 L542.4 323.8 L542.7 322.8 L543 322.3 L543.4 323.4 L543.7 322.9 L544 322.6 L544.4 321 L544.7 322.9 L545 323.4 L545.4 323.4 L545.7 324 L546 322.8 L546.4 323.1 L546.7 323.3 L547 321.3 L547.4 320.3 L547.7 320.6 L548 322.6 L548.4 322.2 L548.7 319.9 L549 320.7 L549.3 321.3 L549.7 321.7 L550 319.8 L550.3 321.4 L550.7 322.4 L551 321.2 L551.3 318.1 L551.7 319.7 L552 318.7 L552.3 318.8 L552.7 318 L553 318 L553.3 320.4 L553.7 319 L554 318.6 L554.3 318 L554.7 317 L555 317.4 L555.3 318.9 L555.7 318.3 L556 319.4 L556.3 317.2 L556.7 316.4 L557 316.4 L557.4 313.6 L557.7 316.7 L558 313.8 L558.4 314 L558.7 312 L559.1 312.4 L559.4 311.4 L559.7 313.2 L560.1 311.8 L560.4 309 L560.8 310.6 L561.1 309.8 L561.4 308.7 L561.8 310.2 L562.1 308.9 L562.5 308.8 L562.8 307.6 L563.1 307.3 L563.5 307 L563.8 305.3 L564.2 307.1 L564.5 304.4 L564.8 306.1 L565.2 306.9 L565.5 305.6 L565.9 306.4 L566.2 304.4 L566.5 305.1 L566.9 304.2 L567.2 305 L567.6 305.4 L567.9 307 L568.2 307.6 L568.6 308.6 L568.9 307.8 L569.3 306.8 L569.6 308.7 L569.9 308.4 L570.3 310.9 L570.6 311.5 L571 308.6 L571.3 309.8 L571.6 311.1 L572 310.7 L572.3 312.6 L572.7 313.4 L573 314.1 L573.3 314 L573.7 313.3 L574 313.8 L574.4 316.6 L574.7 317.2 L575 317 L575.4 316.6 L575.7 317.4 L576.1 317.9 L576.4 318.8 L576.7 318.7 L577.1 316.4 L577.4 319.6 L577.8 319.4 L578.1 320 L578.4 320.1 L578.8 320.1 L579.1 318.8 L579.5 321.1 L579.8 322 L580.1 321.8 L580.5 320.5 L580.8 323.2 L581.2 323.9 L581.5 324 L581.8 323.6 L582.2 323.7 L582.5 325.5 L582.9 325 L583.2 326 L583.5 329.9 L583.9 327.5 L584.2 327.3 L584.6 325.8 L584.9 328.9 L585.2 327.7 L585.6 328.6 L585.9 326.8 L586.3 330.3 L586.6 329.5 L586.9 331.4 L587.3 332.6 L587.6 331.4 L587.9 333.2 L588.3 332.9 L588.6 332.8 L588.9 332.6 L589.3 335.5 L589.6 335.5 L589.9 333.9 L590.3 336.4 L590.6 335.2 L590.9 334.8 L591.3 338.3 L591.6 336 L591.9 338.2 L592.2 339.5 L592.6 339.6 L592.9 340.9 L593.2 340.5 L593.6 341.4 L593.9 341.6 L594.2 343 L594.6 341.9 L594.9 344 L595.2 345 L595.6 344.3 L595.9 343.7 L596.2 344.4 L596.6 345.4 L596.9 345.2 L597.2 344.6 L597.6 345.6 L597.9 345.9 L598.3 346.2 L598.6 346.7 L599 347.5 L599.3 345.8 L599.6 345.2 L600 345.6 L600.3 346.6 L600.7 347 L601 345.7 L601.3 346.3 L601.7 344.4 L602 346.5 L602.4 345.9 L602.7 347.5 L603.1 348.7 L603.4 348.1 L603.7 346.3 L604.1 349 L604.4 347.1 L604.8 347.6 L605.1 347.2 L605.5 348.5 L605.8 348.7 L606.1 347.3 L606.5 346.9 L606.8 346 L607.2 347 L607.5 344.9 L607.9 344.8 L608.2 344.2 L608.5 343.1 L608.9 343.1 L609.2 341.2 L609.6 342.9 L609.9 341.4 L610.3 343 L610.6 339.8 L610.9 340.8 L611.3 340.2 L611.6 338.6 L612 338.4 L612.3 339.1 L612.7 337.7 L613 338.6 L613.3 337.8 L613.7 336.2 L614 337.7 L614.4 340 L614.7 339.4 L615 338.9 L615.4 338.4 L615.7 341.4 L616 343.2 L616.4 339.7 L616.7 343 L617.1 342.3 L617.4 343 L617.7 343.4 L618.1 343.2 L618.4 345.1 L618.7 346.1 L619.1 345.9 L619.4 345.4 L619.8 347.6 L620.1 347.7 L620.4 346.6 L620.8 348.8 L621.1 349.5 L621.4 350.7 L621.8 349.9 L622.1 350.9 L622.5 350.3 L622.8 352.4 L623.1 352 L623.5 350.5 L623.8 349.3 L624.2 350.3 L624.5 350 L624.9 349.1 L625.2 350.4 L625.5 350.5 L625.9 349.7 L626.2 350.2 L626.6 349.1 L626.9 347.8 L627.3 347.6 L627.6 348.4 L628 348.3 L628.3 347 L628.6 347.5 L629 345.2 L629.3 345.5 L629.7 347 L630 345.5 L630.4 342.7 L630.7 342.7 L631 344.2 L631.4 347 L631.7 348.3 L632.1 346.6 L632.4 346.9 L632.8 347.5 L633.1 348.3 L633.5 350.5 L633.8 350.1 L634.2 351.8 L634.5 350.9 L634.9 352.6 L635.2 352.8 L635.6 354.4 L635.9 355.2 L636.3 354.4 L636.6 356.4 L636.9 355.4 L637.3 354.1 L637.6 354.2 L638 352.5 L638.3 351.4 L638.7 352.8 L639 350.7 L639.4 349.4 L639.7 349.8 L640.1 347.1 L640.4 348.1 L640.8 345.9 L641.1 344.8 L641.5 345.3 L641.8 346.4 L642.2 344.6 L642.5 342.8 L642.8 347.5 L643.2 346.3 L643.5 350.1 L643.9 349.4 L644.2 349.8 L644.5 352.5 L644.9 355.3 L645.2 357.4 L645.5 354 L645.9 354.9 L646.2 353.5 L646.6 354.1 L646.9 352.8 L647.3 350.7 L647.6 351.4 L648 350.2 L648.3 350.3 L648.7 348.3 L649 348 L649.3 349.2 L649.7 349.7 L650 351.6 L650.4 352.1 L650.7 352.7 L651 353.4 L651.4 352.1 L651.7 355.3 L652.1 354.8 L652.4 352 L652.8 350.2 L653.2 349.2 L653.5 349.3 L653.9 347.1 L654.3 344.5 L654.6 344.2 L655 342.9 L655.4 343 L655.7 343.8 L656.1 347 L656.5 347.3 L656.8 345.2 L657.2 346.7 L657.6 348 L657.9 348.9 L658.3 348.6 L658.6 347.9 L659 349.9 L659.3 349.4 L659.6 347.8 L660 347 L660.3 347.3 L660.6 346.9 L661 344 L661.3 344.4 L661.6 345.8 L661.9 344.2 L662.3 343 L662.6 342.7 L662.9 342 L663.3 345.2 L663.6 340.3 L663.9 344.1 L664.3 343.9 L664.6 344.5 L665 345.4 L665.3 345.7 L665.7 347.6 L666 348.1 L666.4 347.5 L666.7 347.4 L667 345.5 L667.4 346 L667.8 345.2 L668.1 346 L668.4 345.5 L668.8 342.3 L669.2 345.7 L669.5 343.5 L669.9 343.9 L670.2 346.5 L670.6 345.6 L670.9 345.5 L671.3 345 L671.6 346.8 L672 346.3 L672.3 347.2 L672.7 347.2 L673 345.9 L673.3 345.5 L673.7 345.9 L674 345.5 L674.3 345.6 L674.7 344.6 L675 344.7 L675.3 344.1 L675.7 343.9 L676 345.5 L676.3 370.1 Z" fill="#c0e2c0" stroke="none"/><path d="M339 218.7l.3 .8 .4 1.3 .3-.9 .3 1.8 .4-1.7 .3-.4 .3 0 .4 .8 .3 1.1 .3 .3 .4 .4 .3 .7 .3-.8 .4 .7 .3-.3 .3-.7 .4 1.4 .3-.3 .3-.2 .4 1.9 .3-1 .3-1 .4 .3 .3-.2 .3 .8 .4-.1 .3-.1 .3 .1 .4-.9 .3 0 .3 .2 .4-.2 .3 .9 .3-.7 .4 1.8 .3-.6 .3 .8 .4 1 .3 .8 .3-.9 .4-2.2 .3 2.9 .3-1.8 .4-.6 .3-.4 .3-1.1 .4 1.1 .3-.5 .3-1.2 .4 1.1 .3-.5 .4-1.4 .3 2.2 .3-1.4 .4 0 .3-.5 .4 .5 .3-2.2 .4 1.6 .3-.4 .3-.4 .4-.4 .3 .4 .4-.6 .3-.6 .3 1.2 .4 .4 .3 0 .3 .4 .4 .9 .3-2.1 .3 2.8 .4-1.8 .3 2.7 .4 1.2 .3-.7 .3 1.4 .4 .3 .3-1.1 .3 2.9 .4-.2 .3 .5 .4-.5 .3 1 .4 .3 .3 .3 .3 2.7 .4-3.1 .3 .2 .4 .3 .3-.5 .3 1.9 .4 .2 .3-2.2 .4 1.8 .3 1.3 .3-1.3 .4-.6 .3 2.9 .4-2.6 .3-1.3 .4-.4 .3 2.7 .3-2.8 .4 3.4 .3-4.4 .3 1.9 .4-.1 .3 1 .3 1.5 .4-1.2 .3-.5 .3 3.8 .4 .5 .3-2.3 .3 1.5 .4 1.1 .3-2.8 .3 .9 .3 3.2 .4-4.3 .3 1.5 .3-1.4 .4-1 .3 .8 .3 1.9 .4-1.7 .3 2.8 .3-.6 .4-.9 .3 4 .3-1.2 .4 2.1 .3-2.5 .3 3.7 .4-3.3 .3-.3 .3 1.9 .4 1 .3-.8 .3 1.7 .4 1.1 .3-2.2 .3-.7 .4 1.4 .3 1.7 .3 .2 .4-1.2 .3 .6 .4 1.3 .3-1.9 .3 2.6 .4-1.2 .3 .2 .3-1 .4 2.5 .3-1.4 .3-1.7 .4 1.6 .3 2.1 .3-.7 .4-.5 .3 1.5 .3-.4 .4 .1 .3 1.5 .3 1.3 .4-.6 .3-.1 .4 .9 .3-.3 .3 .9 .4-.8 .3 2.1 .3-4.5 .4 1.9 .3 .7 .4 .5 .3-2.7 .3 1.9 .4 1.5 .3 .1 .4-3 .3 2 .3 1.4 .4-1.3 .3-1.2 .4 .5 .3-.6 .3 3.3 .4-1.7 .3-.2 .3 1.2 .4-.6 .3 .2 .4 1.5 .3 .1 .3 1.1 .4-.2 .3 1.4 .3-1 .4 .2 .3-1.1 .3 2.6 .3-2 .4-1 .3 3.6 .3-.5 .4-1.4 .3 2 .3-.1 .4-2 .3 1.9 .3-1.2 .4 .8 .3 .4 .3-.1 .3 1.9 .4-1.3 .3 1.9 .3-.4 .4 .1 .3 .6 .3 .5 .4-1.7 .3 2.3 .3-1.5 .4 .7 .3-3.2 .3 .4 .3 2.9 .4-1.6 .3 1.9 .3-2.9 .4 2.6 .3 2.1 .3-1.1 .4-.6 .3 .8 .3-.4 .4 1.1 .3 .7 .3-.8 .4-.2 .3 .5 .3 .2 .4-2.3 .3 2.7 .3-.4 .4-2.3 .3 1 .3-1.3 .4 1.5 .3-.9 .3 .6 .4 .1 .3 .4 .3 .1 .4-.1 .3 2.1 .3-.8 .4-.5 .3 2.3 .3-.1 .4-2.5 .3 3.2 .3-2.3 .4-.6 .3 1.6 .3-2.1 .4 .3 .3 1.6 .3-.8 .4 1.2 .3 0 .3 0 .4 1 .3-.7 .3 1.5 .4 0 .3-3.4 .3 .4 .4 4.1 .3-2.4 .3 .5 .4 .5 .3 2.4 .3-3.5 .4 1 .3 0 .3-1.3 .4 .3 .3 .8 .3 .4 .4 .5 .3-2.5 .3 3.7 .4-2.4 .3 .9 .3-1.8 .4-.6 .3 3.2 .3-4.2 .3 .3 .4 1.9 .3-2.7 .3 2.4 .4 1 .3-2.4 .3 1.5 .4 2 .3 1.7 .3-4.8 .4 2.2 .3 .9 .3-1 .4 .4 .3 1.2 .3-2 .4 2.3 .3-.2 .3 0 .4 .7 .3-2.5 .3 .6 .4 1.3 .3 0 .3-1.3 .4 .5 .3-.5 .3 1.6 .4 0 .3 1 .4 .6 .3 1.8 .3 .3 .4-.9 .3 0 .3 .6 .4 .4 .3-.9 .3 .5 .4-1.9 .3 1.5 .3 .1 .4-1.3 .3-.3 .3 .1 .4 2.4 .3-.7 .4 .5 .3 .6 .3 .4 .4 1 .3 2.6 .3-.1 .4-1.8 .3 .8 .3-1 .4 2.8 .3-2.2 .3 .8 .4-1.9 .3-.1 .3 .1 .4 .5 .3 2.1 .3-1.5 .4-.1 .3-.6 .3 1.5 .4-.6 .3-1.5 .3 2.2 .4 1.4 .3-1.6 .3-1.1 .4 .6 .3-.5 .3 .4 .4 .9 .3 .3 .3 1.3 .4-3 .3-1.1 .3 4.3 .4-1.4 .3-.9 .3 1.1 .4-1 .3 1.3 .3-1.2 .4 .6 .3 .3 .3-.4 .4-.4 .3 .9 .3 1.1 .4 .1 .3-2.4 .3-1 .4 .8 .3 2.5 .3 .5 .4 1.4 .3-3.4 .3 3.7 .4-1.7 .3 .3 .3 1.2 .4-1.5 .3-.7 .3 1.5 .4 .8 .3 1.8 .3-.8 .4-.6 .3-.1 .3 .3 .4 1.8 .3-3 .3 .9 .4 2.4 .3-1.3 .3-1 .4 1.6 .3 1.4 .3-1.2 .4-2.8 .3 1.4 .3 1.7 .4-2.7 .3 1 .3 1.2 .4-1.6 .3 1.2 .3-.4 .4 .6 .3-1.7 .3-1.2 .4 .1 .3 2.9 .3 .6 .4-2.2 .3 .2 .3 2.1 .4-.4 .3-.7 .3 1.8 .4 0 .3 1 .3 .7 .4-.2 .3 .4 .3-.7 .4-.4 .3 .1 .3 1.9 .4-1.8 .3 1.3 .3 1.1 .4 .2 .3-4.6 .3 3.8 .4-1.6 .3-.2 .3-.8 .4 1 .3 .8 .3-2.1 .4 2.3 .3-.9 .3 1.1 .4 .1 .3 .1 .3-1 .4 0 .3 1.9 .3-.4 .4-1.7 .3 1.5 .3-1.9 .4 .8 .3-2.7 .4 4.4 .3-1.3 .3 1.5 .4-1.4 .3 1.3 .4-.4 .3-.8 .3 3.8 .4-3.4 .3-.5 .4 2.3 .3-.1 .3-.4 .4 .9 .3 .7 .4-.2 .3-2.3 .3 3.9 .4-2 .3-2.3 .4 2.4 .3 .6 .3 2.2 .4-2.9 .3 0 .4-.2 .3 1.5 .3 .6 .4-.2 .3-.2 .3-2.8 .4 3.9 .3-1.9 .3 0 .3-.6 .4 1.5 .3-2.1 .3 4.1 .4-2.5 .3-.4 .3-.7 .4 2.6 .3-1.8 .3 1 .3 .2 .4 .8 .3-.3 .3 .8 .4-3.1 .3 4.8 .3-3.7 .4-.7 .3 1.8 .3 .5 .3 1.9 .4-1.5 .3-2.4 .3 .5 .4-.2 .3-.2 .3 .5 .4-.5 .3 1.2 .3 .5 .3-.8 .4-1.1 .3 2.1 .3-.8 .4 3 .3-.8 .3-2.8 .4 .4 .3 .5 .3 2.1 .3-1.6 .4 .7 .3-1 .3 .1 .4 1.7 .3-1.5 .3 2.4 .4-2.5 .3 .6 .3 .1 .3 1.9 .4-3.1 .3 .3 .3-.4 .4 3.4 .3-1.6 .3 .1 .4 .1 .3-2.7 .3 3.2 .3-.6 .4-.2 .3-.2 .3 0 .4-.5 .3 .4 .3 1 .4-3.3 .3 3.6 .3-.2 .3-2 .4 1.7 .3-.9 .3 2.7 .4-1.8 .3-.3 .3-1.3 .4 4.2 .3-2.3 .3 .2 .3-.6 .4 .1 .3 2.2 .3-.5 .4 0 .3-.3 .3 .8 .4-1.5 .3-2.2 .3-.7 .4 4.6 .3-3.7 .3 6.1 .4-5.9 .3 2.9 .3-.2 .3-1.4 .4-1.5 .3 2.2 .3 2.1 .4-2.1 .3 .1 .3 .1 .4 .3 .3 2.3 .3-3.8 .4-1.2 .3 3.1 .3-1.7 .4 0 .3-1.1 .3 1.5 .3-.3 .4 .1 .3-1.3 .3 2.4 .4-.7 .3-2.1 .3 1.9 .4 1.4 .3-1 .3-.3 .4 1.2 .3-1.5 .3 1.4 .4-.9 .3-.6 .3 1 .3 0 .4 .8 .3 0 .3-1.1 .4-.2 .3-1 .3 .7 .4 1.5 .3 0 .3-.1 .4-.8 .3 .5 .3 1.5 .4 .3 .3-2.7 .3-2.6 .3 4.1 .4-.7 .3 .5 .3 1.1 .4-2 .3-.1 .3-.6 .4 1 .3-1.9 .3 2.1 .4-.2 .3-.7 .3 .8 .4 0 .3-.1 .3-.9 .3 .7 .4 .9 .3 .7 .3 .7 .4-1.9 .3 1.1 .3 .7 .4-.7 .3-.1 .3-.7 .4 .5 .3-.3 .3-1.9 .4 1.2 .3-2 .3 3.5 .3-1 .4 .6 .3 .1 .3-.5 .4 2.1 .3-2 .3 .7 .4-.4 .3 2.5 .3-4.4 .4 2.3 .3-1.2 .3-.3 .4 2 .3-2.4 .3 0 .3 .7 .4-.8 .3-.1 .3 3 .4-2.7 .3-.1 .3 1.1 .4 1.4 .3-3.1 .3 1.8 .4 1.1 .3-.2 .3 .6 .4 .9 .3-.7 .3 .7 .3-2.2 .4 1.1 .3 1.3 .3-2.7 .4 1.8 .3 .1 .3 .8 .4-3.6 .3 4.8 .3-4.6 .4 2.1 .3-1.5 .3 4.5 .4-2.1 .3 2.2 .3-.3 .4-1.3 .3-.9 .3 .8 .4-1 .3 0 .3 .1 .4 2.2 .3-.5 .3 0 .4-1.1 .3-.2 .3 2.4 .4-2 .3 .5 .3 .6 .4 1.1 .3 1.8 .3-1.2 .4 0 .3 .3 .3-.8 .4 .2 .3-1.6 .3 2.9 .4-1.1 .3 1.2 .3 .8 .4 .5 .3-.2 .3-1.6 .3 .1 .4-.8 .3 1.2 .3 1 .4 .8 .3 0 .3-1 .4 .5 .3 .4 .3-2.8 .4 2.4 .3-1.9 .3 1.1 .4 .4 .3-1 .3 .6 .4 .7 .3 1 .3 .1 .4 0 .3-1.8 .3 1.2 .4 0 .3 .7 .3 .9 .4-1.4 .3 .8 .3 1.1 .4 0 .3-.7 .3-1.5 .4 1.8 .3 .4 .3-.5 .4 3 .3-2.6 .3-1.1 .4 1.7 .3 1 .3 2.5 .4-2.7 .3 1 .3-1.7 .4-.1 .3 .5 .3 .7 .4-.1 .3 .7 .3-.7 .4 0 .3 2 .3-2.2 .4 2.4 .3 1.1 .3-3 .4 2.3 .3 .1 .3-4.1 .4 4.4 .3-1.8 .3 3.2 .4-4 .3 4 .3-1 .4-1.3 .3 1.6 .3-1.7 .4 2.8 .3 .1 .3 1 .4-2.2 .3 1.6 .3-1.1 .4-2.5 .3 4.8 .3 .4 .4-.9 .3 2 .3-2.1 .4-1.9 .3 1.7 .3 .7 .4-.8 .3-2.3 .3 1.2 .3 1.2 .4 1.5 .3-2.1 .3-.8 .4 1 .3 1.7 .3-2.1 .4 2.1 .3 .9 .3-.5 .4-2.1 .3 2.2 .3-1.2 .3 .2 .4 3 .3-2.3 .3 1.6 .4 .5 .3-1.6 .3-1 .4 .7 .3-.8 .3 .7 .3 0 .4-1.6 .3 .9 .3-.7 .4 2.7 .3 0 .3-.6 .4-1.4 .3 1.1 .3-1.5 .4 2.3 .3-2.5 .3 1.2 .3 2.9 .4-1.6 .3-.7 .3-.9 .4 .3 .3 .4 .3-.5 .4 1.3 .3 1 .3-2.2 .4-.1 .3 .2 .3 1.2 .3-.9 .4-.2 .3 .4 .3 2 .4 .1 .3 .2 .3-1 .4-1.3 .3 2.8 .3 1 .4-3.4 .3 2.1 .3-.5 .3-.3 .4 2 .3-2.7 .3-.7 .4 .5 .3 .7 .3 0 .4 .8 .3-1.7 .3 1.8 .4-1 .3 2.2 .3-.3 .4-2 .3 1.5 .3-2.1 .3 2.1 .4-.4 .3-1.6 .3 .5 .4 .3 .3 .4 .3 1 .4-1.8 .3-1.5 .3 1.8 .4 1.6 .3 .1 .3-2.6 .3 1.7 .4 .8 .3-.7 .3 1.4 .4-2.4 .3 3.5 .3-1.2 .4-2.7 .3-.5 .3 3.1 .4-2.2 .3 1.5 .3-.8 .4 .2 .3-2.9 .3 1.6 .3 1.4 .4 1.8 .3-2 .3-.5 .4 .1 .3 .7 .3-1.7 .4-1.1 .3 2.2 .3 0 .4 2.8 .3-3 .3 2 .3-3.2 .4 3.4 .3-1 .3-.3 .4 .3 .3-.2 .3-1.5 .4 1.9 .3-1.9 .3 1 .4-1.1 .3 1 .3-.1 .3-.8 .4 2.5 .3-1.6 .3 .4 .4-2.7 .3 3.5 .3-2.6 .4 1.7 .3-2.1 .3 4.8 .4-2.7 .3-1.2 .3-.1 .4-.6 .3 3.8 .3 .8 .3-2.9 .4 1.1 .3-1.6 .3-.7 .4 3.5 .3-3.5" fill="none" stroke="#2479b7" stroke-width="1.5" stroke-linejoin="round" /><path d="M343 242.7l1-.2 1-.3 1-.2 1-.3 1-.2 1-.3 1-.2 1-.1 1-.1 1-.2 1-.1 1-.1 1 0 1 0 1 .1 1 0 1 0 1 0 1 .1 1 0 1 0 1 0 1 .1 1 0 1.1 0 1 0 1 .1 1 0 1 .8 1 1.1 1 1.2 .7 .8 .4 .4 .6 .7 .4 .4 .7 .8 .3 .4 .7 .2 1 .3 1 .3 1.1 .3 1 .2 1 .3 1 .3 1.1 .3 1 .6 1 .7 1 .8 1 .7 .9 1 .4-.7 .3 1.1 .3 .3 .4 0 .3 .3 .3-.1 .4 0 .3 .5 .3 .2 .4 .9 .3 .1 .3-.7 .4 1.3 .3-.1 .3 .7 .4 .4 .3-.3 .4 .2 .3-1 .3 1.7 .4-1.1 .3 .4 .3 1.1 .4-1.7 .3 1 .4-.4 .3 .4 .3 .8 .4-.3 .3 .6 .4 .3 .3-.9 .3 1.8 .4-.6 .3-.5 .4 .7 .3 .9 .3 .3 .4-.3 .3 .2 .3 .6 .4-.4 .3 .7 .4-.7 .3 .2 .3 .9 .4 .2 .3-.3 .4 .3 .3 .5 .3 .4 .4-.1 .3 .4 .3-.4 .4 .2 .3-.7 .4 1.6 .3-.1 .3-.8 .4 .9 .3 .1 .4-.5 .3 1.5 .3 .3 .4-1.1 .3 1 .4 .8 .3-1.4 .3 1.3 .4 .7 .3-1.5 .3 .4 .4 .8 .3 .8 .4-1.1 .3 .5 .3 0 .4 1.3 .3-.6 .3 .7 .4 .4 .3-.3 .3 .1 .4 .5 .3-.2 .3-.8 .4 .5 .3 .8 .3-.2 .4 .2 .3 1.7 .3-1.6 .4 .4 .3 .1 .3-.3 .4 .9 .3-.1 .3-.1 .4-.7 .3 1.5 .3-.5 .4-1.1 .3 1.6 .3-.4 .4 .7 .3 .1 .3 .1 .4 1.2 .3-.3 .3 .8 .4-.6 .3 .9 .3-.5 .4-.4 .3-.1 .3 .2 .4 .4 .3 .4 .3-.7 .4 .4 .3-.1 .4 .4 .3-.7 .4-.9 .3 0 .3 .1 .4-.8 .3-.6 .4 1.3 .3-.7 .3 1 .4-.7 .3-.1 .4-.9 .3 .4 .3-1.2 .4 0 .3 1.1 .4-.7 .3-.6 .4-1 .3 2.8 .3-3.9 .4 3.8 .3-.4 .4 1.4 .3 .6 .3-1.7 .4 3.3 .3-2 .4 .7 .3 1.3 .4-.1 .3-.6 .3-.3 .4 1.4 .3-1 .4 2.8 .3-.9 .4 1.5 .3-2.4 .3-.6 .4 2 .3-.8 .4 1.8 .3-1.9 .3 .3 .4 1.8 .3-.5 .3 1.3 .4 .4 .3 0 .3-.8 .4 3.7 .3-2 .3 1 .4 .4 .3 .4 .3 .4 .4 .1 .3 .6 .3-1.1 .3 4.2 .4-2.6 .3 2.4 .3 .7 .4-1.6 .3 1.5 .3 2.7 .4-.5 .3 .4 .3 1.1 .4-.7 .3 2.1 .3-1.5 .4 .4 .3 1 .3-.4 .4-1 .3 3.5 .4-1.8 .3 2.2 .3-1 .4-1.1 .3 1.1 .3-.3 .4 1.4 .3-1.7 .3 3.1 .4-.6 .3 1 .3-.3 .4 2 .3 0 .3 1.6 .4-1.2 .3 .1 .4 .5 .3-1 .3 .5 .4 1.6 .3-1.4 .3-1 .4 1.8 .3 .7 .3-.8 .4-.1 .3 1.2 .3 0 .4 .5 .3-.6 .3 .9 .4-.6 .3 1.7 .3-.6 .4-.6 .3-.9 .3 1.5 .4 0 .3 1.2 .4-.1 .3-1 .3 0 .4-.8 .3 1 .3 .4 .4-1.2 .3 2.5 .3-2.3 .4 2.7 .3-.4 .3 .4 .4-2.4 .3 1.6 .3-2 .4 1.2 .3-.3 .3 .2 .4 1.5 .3 .1 .3-1.5 .4 .1 .3-.7 .3-.2 .4-.6 .3 1.6 .3-.4 .4 1.3 .3-1.3 .3 .4 .4 .8 .3 1.7 .3-1.1 .4 1.5 .3-.9 .3-.6 .4-.9 .3 1.1 .3 2 .4-.5 .3-2.1 .3 2.5 .4-.4 .3-3.5 .4 1.9 .3 1.4 .3-1.8 .4 2.2 .3-.2 .3 .3 .4 .2 .3-1.4 .3 3.3 .4-1.8 .3 1.7 .3-2.4 .4 1 .3-.2 .3 .1 .4 0 .3 .7 .3-.3 .4-.2 .3 .6 .3 1.1 .4-1.3 .3 .7 .3-.4 .4-1 .3 0 .3-.5 .4 .7 .3-1.2 .3 1.9 .4-.9 .3 1.7 .3-.9 .4-1.6 .3 1.1 .4-.4 .3 .5 .3-.6 .4 .5 .3 1.2 .3-.4 .4 1.7 .3-3.2 .3 1.4 .4 .5 .3 1.6 .4-.3 .3 .3 .3 .8 .4-.8 .3-.8 .3 .5 .4-.8 .3 .6 .3 .7 .4-.9 .3 .1 .4-1 .3-.1 .3 2 .4-.7 .3 .8 .3-1 .4 .1 .3 .2 .3-.5 .4 1.4 .3-.6 .4-1.3 .3 .6 .3 .9 .4 1 .3-1.1 .3 .2 .4 .7 .3-.3 .3-.2 .4 1.4 .3-1.3 .3-.4 .3 .3 .4-1.2 .3-.4 .3-.1 .4 2.2 .3-1.7 .3 1.6 .4-1.8 .3 1.2 .3 0 .3 .2 .4 2.5 .3-1.4 .3-.7 .4 1.6 .3-1.1 .3 1.6 .4-2.6 .3 .6 .3 .6 .3 1.1 .4-1 .3-.4 .3 1.5 .4 .3 .3-1.2 .3 2.8 .4-1.7 .3 .7 .3 .3 .3 1.1 .4-3.2 .3 2.2 .3 .9 .4-.6 .3-.3 .3-1 .4 1.6 .3-.7 .3-.5 .3 .9 .4 .3 .3-1.2 .3 2.7 .4-1.1 .3-1 .3 1.2 .4 .5 .3-.4 .3-.5 .3-.3 .4-.2 .3 3 .3 .6 .4 .2 .3 .5 .3-.8 .4-2.2 .3 .5 .3 1.8 .3-1.4 .4 .5 .3 .5 .3-1.7 .4 1.5 .3 .6 .3-2.5 .4 3.3 .3-.3 .3-1.4 .3 2.7 .4-1.2 .3 1.2 .3-4 .4 2.8 .3 1.2 .3 .5 .4-1.3 .3 0 .3-.5 .3 .6 .4-2 .3 1.9 .3-.4 .4 .5 .3 .2 .3-.1 .4 .5 .3-.2 .3-.3 .4-.2 .3 .5 .3 0 .3 1.5 .4-1.1 .3-.6 .3-1.6 .4 .7 .3-1.5 .3 3.9 .4 .2 .3-1.4 .3-.1 .4 1.1 .3-2.3 .3 1.6 .4 0 .3-.9 .3 2.7 .3-.6 .4-1.3 .3 .6 .3-.5 .4 .1 .3 1.4 .3-1 .4-.5 .3-.3 .3 1 .4-1.2 .3-.8 .3 1.5 .4 1.7 .3-2.2 .3 .5 .3 1.5 .4-.7 .3-1.7 .3 3 .4-1.7 .3-.8 .3 .4 .4 .6 .3 1 .3-1.8 .4 2.1 .3 .3 .3-2 .4 .5 .3 .2 .3-.6 .3-.7 .4 2 .3-2.1 .3-.7 .4 3 .3-.3 .3-1.5 .4 .5 .3-.7 .3 .6 .4-1.9 .3 1.6 .3 2.3 .4-2.5 .3 1.4 .3-2.1 .3 2.9 .4-1.8 .3 1.6 .3-.7 .4-.1 .3 .3 .3-1 .4 .7 .3 .5 .3 0 .4 1 .3 .3 .3 .9 .4-1.3 .3 .6 .3-1 .4 3.6 .3-3.9 .3 1.9 .4 0 .3-.6 .3 .1 .4 1.5 .3 0 .3-1 .4 0 .3 .4 .3-.2 .4 .6 .3 .4 .3-2.2 .3 1.7 .4-.8 .3 1.7 .3-.6 .4 .8 .3-.2 .3 1.2 .4 .6 .3-1.1 .3 0 .4 2 .3-2.6 .3 .7 .4 2.6 .3-.8 .3-1 .4-.3 .3-1.5 .3 3.1 .4-.6 .3-.9 .3 .1 .4 .2 .3-.5 .3 3.3 .4-3.2 .3 2.5 .3-.7 .4-.5 .3 .6 .3 .4 .4-1 .3 1.8 .3-.1 .3-.3 .4-1.4 .3-.3 .3 3.3 .4 .1 .3-.7 .3 0 .4 .2 .3 .9 .3-.3 .4-1.1 .3 1.1 .3-.8 .4 .6 .3-.8 .3-1.1 .4 1.4 .3 1.4 .3 .5 .4-1 .3 1 .3-.6 .4 2 .3-1.7 .3 .5 .4 1.3 .3 .4 .3-2.5 .3 .3 .4 .3 .3 .4 .3 2.1 .4-1.9 .3 1.9 .3 .1 .4-.4 .3 .9 .3 1.8 .4-.4 .3-1.2 .3-.6 .4 .3 .3-.4 .3 1.1 .4-1.3 .3-.4 .3 1.4 .4 .3 .3 1.1 .3-1.9 .4 .1 .3 1.4 .3 .2 .4 .7 .3 .8 .3-3.4 .3 1.8 .4 1.4 .3-1.5 .3 2.9 .4-.9 .3-.7 .3 .7 .4 .1 .3 .3 .3-1.9 .4-.4 .3 2 .3 .9 .4-1 .3 1.5 .3-.4 .4-1.5 .3 1.2 .3-.3 .4 .4 .3-.1 .3 .8 .4-.6 .3 .5 .3-.2 .4-.5 .3 .9 .3 .2 .4 1.3 .3 .9 .3-3 .4 .1 .3 1.8 .3-1.4 .4 .6 .3 .6 .3-2 .4 2.5 .3-1.8 .3 1.1 .4 .8 .3-1.8 .3 .8 .4 2.3 .3-3.5 .3 1.6 .4 .3 .3-.4 .3-.9 .4 0 .3 2.4 .3-.5 .4-1.8 .3 2.1 .3-1.7 .3 .2 .4 .8 .3 .8 .3 .7 .4-1.5 .3 1.4 .3 0 .4-1.8 .3 2.6 .3 .4 .4-2.2 .3 1.1 .3 1.3 .4-1.1 .3 .2 .3 0 .4-.8 .3 1.5 .3 2.1 .4-3.4 .3 1.5 .3-.9 .4-.6 .3 2.7 .3-.4 .4-1.2 .3 .7 .3 .5 .4 1.7 .3-1.3 .3 1 .4 0 .3-.9 .3-.1 .4 1.8 .3-.3 .3-.3 .4-1.7 .3 .4 .3 1.1 .4-.9 .3-1.1 .3-.1 .4 2.4 .3-.2 .3 1.2 .4-3 .3-.1 .3 2 .4 .8 .3-1.5 .3 1.2 .4 .1 .3-.7 .3 .3 .4 .3 .3 .8 .3-1 .4-.6 .3-.1 .3 .7 .4 1 .3-1.3 .3 .6 .3 .7 .4 1.9 .3-1.4 .3 .3 .4 1.7 .3-3.8 .3 .3 .4 1.1 .3 1 .3 1.2 .4-.4 .3-2 .3 1.8 .4-.5 .3-.7 .3-.2 .4 2 .3-1 .3 .6 .4-.3 .3-.5 .3 .3 .4 .5 .3-.5 .3 1.4 .4-1.5 .3 1.3 .3 0 .4 .6 .3-3.5 .3 3.7 .4-.2 .3-.6 .3 .1 .4-1 .3 4.5 .3-3 .4 .7 .3-1.5 .3 .8 .3-1.8 .4 2.4 .3-.7 .3 1.4 .4 1 .3-1.2 .3-1 .4 .7 .3 1.2 .3 1.4 .4-4.2 .3 1.3 .3 .7 .4 1.4 .3 .9 .3-.8 .4 1 .3-2 .3 0 .4-.6 .3 1.1 .3 1.7 .4-.4 .3 2.2 .3-2.8 .4 1.8 .3-2.4 .3 3.1 .4-.3 .3-1.5 .3 2.1 .4 0 .3 1.2 .3-1.2 .4 .4 .3 .1 .3-.6 .4 2.1 .3 .3 .4-1.5 .3 .4 .3-.3 .4 .9 .3 0 .3 .9 .4 1.8 .3-2.2 .3 .4 .4-.1 .3 1.5 .3 1.1 .4-1.4 .3 1.1 .3-.7 .4-.2 .3 2.4" fill="none" stroke="#ff8a22" stroke-width="1.5" stroke-linejoin="round" /><path d="M201.9 253l.3 1.1 .4 .4 .3 1.2 .4 1 .4 .1 .3 .7 .3 1.5 .4 .7 .3 .6 .4 .1 .3-.2 .3 .2 .4 1.3 .3-.9 .3-.1 .4 .7 .3 .2 .3-.1 .4 .3 .3 .3 .3 .3 .4 .3 .3-.1 .3-.6 .4 .4 .3 .8 .3-.2 .4 .9 .3 0 .3 .4 .4 1.3 .3-1.2 .4 .4 .3-.9 .3 .4 .4 .1 .3 .2 .3-.1 .4-.5 .3 .7 .4-.6 .3 1.1 .3-1 .4 .5 .3-.3 .4-.2 .3 .7 .3-.5 .4 .6 .3-.3 .4-.1 .3-.4 .3 .6 .4-.1 .3 .5 .3-.4 .4-.1 .3-.1 .4-.1 .3-.1 .3 .1 .4 .2 .3 .6 .4 .8 .3 .8 .3 .3 .4 .4 .3 .5 .4 .3 .3 .7 .4 1 .3-.4 .3 .4 .4 1.6 .3-.2 .4 .7 .3-.4 .3 1.6 .4-.2 .3-.5 .3 .3 .4-.1 .3-.3 .3 .5 .4 .3 .3 .4 .4-.3 .3 .6 .3-.7 .4 .7 .3 .3 .3-.5 .4-.4 .3 .4 .3 .6 .4 .2 .3 .6 .4-.6 .3 .4 .3-.3 .4-.9 .3 1.4 .3 .6 .4-.5 .3-.7 .4 .7 .3 .8 .4 .8 .3 .4 .4 1.3 .3 0 .4 1.5 .3-.2 .4 .7 .3 1.2 .4 .9 .3 .2 .4-.5 .3 .6 .4 .2 .3 .2 .3 .6 .4-.2 .3 .6 .3-.1 .4 0 .3 .4 .4 .6 .3-.3 .3 .3 .4-.2 .3 1.5 .3 .2 .4-.4 .3 .1 .3 0 .4 .8 .3 .2 .4 .3 .3-.1 .3-.3 .4 1.9 .3-.2 .3-.3 .4 1 .3-.4 .3 2.2 .4-.8 .3-.4 .3-.7 .4 .9 .3-.5 .3 .9 .4-1.1 .3 .6 .3 .9 .4 .3 .3-1.1 .3 0 .4 1.1 .3-.6 .3 .3 .4 .1 .3 0 .3 .3 .4 1 .3-.1 .3 1.1 .4-.3 .3 .2 .3 .8 .4 .1 .3 .3 .4 1.5 .3 .8 .3 .2 .4 .7 .3 .1 .3 .2 .4 .8 .3 .1 .3 0 .4 .3 .3 .8 .3 .3 .4-.1 .3 1 .3-.3 .4 .4 .3 .5 .3-1.1 .4 1.3 .3-.4 .3 1 .4-.1 .3 .4 .3 .1 .4-.9 .3 1.3 .3-.3 .4 .2 .3 .8 .4-.3 .3-.3 .4-1.4 .3 .1 .4-1 .3 .5 .4-.1 .3-.9 .4 .1 .3 0 .4-1.1 .3-.3 .4-.3 .3 1.4 .4 .2 .3-.1 .4 .6 .3 .4 .4 .4 .3 .2 .4 0 .3 .7 .4 1.3 .3-.1 .4 .2 .3 .3 .4 .5 .3 .5 .4 .1 .3 .7 .3-1.2 .4-.8 .3-.9 .4-.8 .3-.1 .3-2.1 .4 0 .3-.9 .3-.9 .4-.1 .3-1.2 .3-1 .4-1 .3-.6 .4-.5 .3-1.3 .3 1 .4 1.2 .3 1.3 .4 2.2 .3 .9 .3 1 .4 1.9 .3 .4 .4 1.7 .3 1.2 .3 .3 .4-.4 .3 1.9 .4 3.1 .3-.7 .3 3.1 .4-.5 .3 .9 .3 .7 .4 1.2 .3-.6 .4 1.6 .3 .5 .3 2.3 .4 2.9 .3-2.4 .3-.8 .4 2 .3 .2 .4 2.4 .3-1.9 .4-1.8 .3 1.2 .4-1 .3-1.8 .3-.5 .4-.8 .3-.9 .4-1.5 .3-.6 .4-1.8 .4-1.6 .3 1.2 .4-2.2 .4-2.8 .3 .6 .4 .3 .4-.2 .3 4.4 .4 .5 .4 2.7 .3 1.4 .4 2.1 .4-.3 .3-1.1 .4-3.7 .4-1.6 .3 .2 .4-3.3 .4 1.3 .3 1.9 .4 1 .4-2.3 .3 4.4 .4 .1 .4-6.2 .4-5.1 .4-4.5 .5-13.7 .5 14 .4 5.7 .3 5.6 .4-.8 .3-1.9 .4 1.9 .4-2.8 .3 0 .4-.3 .4 1.6 .3 1 .4 2.5 .4 1.4 .3 2.2 .4 3.1 .4-1.3 .3-1 .4-.8 .4-3.8 .3 .1 .4 0 .3-.8 .4-1.1 .4-1.5 .3-.6 .4-1.1 .3-.4 .4-.4 .4-1.9 .3-1.3 .4-.8 .4 5.6 .3 3.6 .4 3.5 .4 3.6 .4-1.3 .3 .3 .4-2.2 .3 .4 .4-.9 .4 1 .3-1.3 .4-.1 .3 .3 .4-2.8 .4 .9 .3 2.8 .4-.9 .3 2.6 .4 .2 .4 1.7 .3 2 .4 0 .4-1.7 .3 1.8 .4-2.7 .4 1.6 .3-4.4 .4-1.9 .3-.7 .4 .4 .4 .7 .3 1.9 .4 .5 .4 3 .3 1.3 .4 1.2 .3-.1 .4-2.4 .3-2.9 .3-4.4 .4 .1 .3-3 .3-4.1 .4-.8 .3-3.9 .4 2.2 .3 .9 .4 1 .3 .7 .4 .8 .3 .3 .3-1.4 .4-1 .3-.7 .3-.9 .4-.2 .3-5.5 .3 1.7 .4-1.8 .3 1.3 .4-.8 .3 5.3 .3 2.4 .4 4.9 .4-1 .3 1.9 .4 1 .4 1 .3 .3 .4-.5 .4 1.4 .3-2.6 .4-2.5 .4-.3 .3-1.1 .4-2.3 .4 1.8 .3 3.1 .4-.8 .4 .9 .3 2.8 .4 1.6 .3-.2 .4 .4 .3 2.6 .4-1.9 .3 .2 .3 2.5 .4-2.1 .3-1.4 .3 1 .4 2.9 .3-2.5 .4 1 .3-.7 .4 2.4 .3-.4 .4 1.7 .4 .3 .3 .4 .4 2.1 .4-3 .3-3 .4-2.3 .3-.8 .4 0 .4-5 .3-2.5 .4-2.1 .4 1 .3 2 .4 2.7 .4-.3 .3 .5 .4 0 .4 2.1 .3 .2 .4-.8 .3 .7 .4 2.7 .4 .2 .3 .3 .4 .1 .4 .5 .3-.6 .4 1.9 .3-3.5 .4 .4 .4-.2 .3 1.4 .4-1.7 .3-.3 .4-1 .3-1.5 .3-.1 .4 2.6 .3-2.1 .4-.7 .3-.3 .3-.7 .4-2 .3-.7 .3 4.1 .4 1.5 .4 1.8 .3 4 .4 .3 .3 1.9 .4-.6 .4 1 .3 2.4 .4-1.1 .4-.2 .3-.5 .4-.1 .4 .3 .3 .1 .4-3.2 .3 1.5 .4-.3 .4 .1 .3-5.2 .4-.4 .4-3.6 .3-4.6 .4-1.2 .4 4.7 .4 3.5 .3 3.9 .4 4.2 .4-.9 .3 2.9 .4-2.1 .4-.2 .3 .2 .4-.2 .3 1.2 .4 0 .3-1.8 .4-.5 .3-2.2 .4 1.1 .4-2.1 .3 .1 .4-2.1 .4-.2 .3 .1 .4 1.5 .3-3.3 .4-.8 .3-.9 .4 .2 .3-.9 .4-1.1 .3-.8 .4 .4 .3 .4 .3-.7 .4 0 .3 .2 .3 .4 .4-.3 .3 .3 .4 4.7 .3 3.1 .4 2.4 .4 1.3 .3 .5 .4 1.3 .3 .2 .4 .8 .4 .7 .3 .9 .4 1.3 .3 .1 .4-.6 .3 .6 .3 .7 .4 0 .3 .5 .3-.2 .4-.5 .3 1.1 .4-.1 .3 .2 .4-.7 .3 .6 .4-.2 .4 .5 .3 .1 .4-.5 .3-.2 .4-.2 .4 1.4 .3 1.4 .4 .3 .3-.1 .4 1.7 .4 1.3 .3 .5 .4 .4 .3-.4 .4-.9 .3-.1 .3-.2 .4-.6 .3 .1 .4-.3 .3 .2 .3-.6 .4-.5 .3-.5 .4-.1 .3 .9 .4 .6 .4-.2 .3 1.3 .4 0 .3 .1 .4 0 .4 1.7 .3-1 .4 1.2 .4-.2 .3 .7 .4 0 .4-.5 .3 .3 .4-1.7 .4-.2 .3-.2 .4-1.2 .3 0 .4-1.2 .4 1.7 .3 1 .4 1.1 .4 .5 .3 1.8 .4 .4 .4 .9 .3 .3 .4-.2 .3-.4 .4 .8 .4-.4 .3-.2 .4 .7 .3-.7 .4 .1 .3-.2 .4-.6 .3 .4 .3 .3 .4 0 .3-.1 .4 .6 .3-.2 .3 .2 .4 .1 .3-.7 .4-.7 .3-.4 .4-.1 .3-2 .4 0 .4-.3 .3-.3 .4-1.2 .3-.2 .4 .7 .3 .1 .3-.3 .4 1.1 .3-.4 .4 .7 .3 .3 .3-.9 .4 1.1 .3-1.1 .3 1.5 .4-.5 .3-.3 .3 .8 .4 .4 .3-.3 .3 .4 .3 .4 .4-.9 .3 1.3 .3 .7 .4 .2 .3 .6 .3-1.1 .4 3.8 .3-1.8 .3-.4 .4 .7 .3-.8 .3-.7 .3 1.9 .4-.5 .3-2.4 .3 1 .4 1.9 .3-.3 .3 .3 .3 .4 .4 1 .3-2.4 .3 .1 .4 .7 .3 .4 .3 0 .4 .6 .3-2.2 .3 1.8 .4-.8 .3-1.6 .3 3.4 .4-1.4 .3-1.4 .3-2.1 .4 1.8 .3 .1 .3 .8 .3 2.5 .4-1.7 .3-.5 .3-1.6 .4 1 .3-.3 .3 3.7 .4-3.8 .3-.3 .3 2.3 .4-.8 .3-1 .3 3.2 .4-1.3 .3 1.2 .4 .6 .3-.5 .3 1.6 .4 .5 .3-1.4 .3-1.1 .4-.2 .3 2.6 .4 1.7 .3 .5 .3 .9 .4-1.6 .3 1.7 .4-2.4 .3 2.9 .3 .2 .4-.2 .3 0 .4-.5 .3 2.8 .3-2 .4 .9 .3-1.5 .4 .9 .3-1.6 .3 1.4 .4-.8 .3 .5 .4-1.1 .3-.7 .4 2.4 .3 .5 .3-2.2 .4 1.2 .3-.2 .4-.5 .3-2.2 .3 1.9 .4-1.5 .3 2.3 .3-.6 .4-3.4 .3 3.5 .3 .1 .4-2.1 .3 2.5 .3-.9 .4-.3 .3-.5 .3-.4 .3 4.4 .4-3.3 .3-.2 .3-1.1 .4-.2 .3-.1 .3-.5 .4 1.7 .3-1.4 .3 1.1 .4-2.4 .3 1.2 .4 .8 .3-.9 .4-.8 .3 2.3 .4-1.8 .3 .3 .4-.8 .3 1.1 .4-.8 .3 .6 .4-1.3 .3-.9 .4 1.8 .3 .3 .3-.3 .4-2.2 .3 1.8 .4-.3 .3-.2 .3-.7 .4 .6 .3 .7 .3-1.6 .4-1.1 .3 1.5 .4 .2 .3-2.2 .3 1.2 .4 1.3 .3-.9 .3-1.4 .4 2.3 .3 .8 .3-2.2 .4-.7 .3-.6 .3 2.1 .4-.9 .3-1.1 .3 2.1 .4-.7 .3-2.7 .3 1.8 .4 .8 .3-2.1 .3 2.4 .4 .5 .3-.5 .3-2 .4 0 .3 1.7 .3 .2 .4-.1 .3-1.5 .3-.4 .4-1.6 .3 2.8 .3 1.6 .4-3.1 .3-.1 .3 1.2 .4-2.4 .3 .6 .3-.5 .4 3.3 .3-3.2 .3 1.6 .4 1.1 .3-.2 .3-.5 .4 .2 .3-3.2 .4 .5 .3 .4 .3 3.1 .4-4.8 .3 2.4 .4-2 .3 2.7 .3-.1 .4-2 .3 2.8 .4-.8 .3-1.1 .3-1 .4 .3 .3 .3 .4 .8 .3-.6 .3 2.5 .4-2.8 .3-.3 .4-.4 .3-.8 .3 .4 .4 2 .3-1 .4-.3 .3 .5 .3 .7 .4-.7 .3 .1 .3-1.6 .4-.3 .3 .6 .3-.8 .4 .4 .3 .1 .3-.1 .4-.2 .3-.3 .3 1.9 .4-1.9 .3 .4 .3-1.5 .4-.2 .3 1.2 .3-2.1 .4-1.9 .3 3.7 .3 .7 .3-3.1 .4 .7 .3 1.6 .3-1.8 .4-.5 .3 1 .3-2.2 .4 3 .3-1.3 .3 .4 .4-.9 .3-2.1 .3 2.1 .4 .1 .3-1.1 .3 .5 .4 .1 .3 1 .3-.1 .4-2 .3 1 .3 1.5 .4-1.2 .3-1.4 .3 .2 .4 1.3 .3-1.1 .3 .2 .4 1.9 .3-4 .3 .2 .4-.9 .3 0 .3 2.5 .4 .6 .3-4.1 .4 1 .3 2.4 .3-.6 .4-.4 .3-.1 .3-1.1 .4-.3 .3-.1 .3 .7 .4-.8 .3 1 .3-3 .4 .2 .3 1.2 .3-1.1 .4-.1 .3 2.2 .3-2 .4-1.1 .3 3 .3-4.1 .4 .4 .3 .7 .4-1 .3 3 .3-1.9 .4-1.2 .3 .8 .3-1.6 .4 .8 .3 2.3 .3-5.4 .4 2.7 .3 .7 .3-.9 .4 1 .3-1.9 .3-.5 .4-.5 .3-1 .3-.5 .4 1.1 .3-.5 .3-.3 .4-1.6 .3 1.9 .3 .5 .4 0 .3 .6 .3-1.2 .4 .3 .3 .2 .3-2 .4-1 .3 .3 .3 2 .4-.4 .3-2.3 .3 .8 .3 .6 .4 .4 .3-1.9 .3 1.6 .4 1 .3-1.2 .3-3.1 .4 1.6 .3-1 .3 .1 .4-.8 .3 0 .3 2.4 .4-1.4 .3-.4 .3-.6 .4-1 .3 .4 .3 1.5 .4-.6 .3 1.1 .3-2.2 .4-.8 .3 0 .4-2.8 .3 3.1 .3-2.9 .4 .2 .3-2 .4 .4 .3-1 .3 1.8 .4-1.4 .3-2.8 .4 1.6 .3-.8 .3-1.1 .4 1.5 .3-1.3 .4-.1 .3-1.2 .3-.3 .4-.3 .3-1.7 .4 1.8 .3-2.7 .3 1.7 .4 .8 .3-1.3 .4 .8 .3-2 .3 .7 .4-.9 .3 .8 .4 .4 .3 1.6 .3 .6 .4 1 .3-.8 .4-1 .3 1.9 .3-.3 .4 2.5 .3 .6 .4-2.9 .3 1.2 .3 1.3 .4-.4 .3 1.9 .4 .8 .3 .7 .3-.1 .4-.7 .3 .5 .4 2.8 .3 .6 .3-.2 .4-.4 .3 .8 .4 .5 .3 .9 .3-.1 .4-2.3 .3 3.2 .4-.2 .3 .6 .3 .1 .4 0 .3-1.3 .4 2.3 .3 .9 .3-.2 .4-1.3 .3 2.7 .4 .7 .3 .1 .3-.4 .4 .1 .3 1.8 .4-.5 .3 1 .3 3.9 .4-2.4 .3-.2 .4-1.5 .3 3.1 .3-1.2 .4 .9 .3-1.8 .4 3.5 .3-.8 .3 1.9 .4 1.2 .3-1.2 .3 1.8 .4-.3 .3-.1 .3-.2 .4 2.9 .3 0 .3-1.6 .4 2.5 .3-1.2 .3-.4 .4 3.5 .3-2.3 .3 2.2 .3 1.3 .4 .1 .3 1.3 .3-.4 .4 .9 .3 .2 .3 1.4 .4-1.1 .3 2.1 .3 1 .4-.7 .3-.6 .3 .7 .4 1 .3-.2 .3-.6 .4 1 .3 .3 .4 .3 .3 .5 .4 .8 .3-1.7 .3-.6 .4 .4 .3 1 .4 .4 .3-1.3 .3 .6 .4-1.9 .3 2.1 .4-.6 .3 1.6 .4 1.2 .3-.6 .3-1.8 .4 2.7 .3-1.9 .4 .5 .3-.4 .4 1.3 .3 .2 .3-1.4 .4-.4 .3-.9 .4 1 .3-2.1 .4-.1 .3-.6 .3-1.1 .4 0 .3-1.9 .4 1.7 .3-1.5 .4 1.6 .3-3.2 .3 1 .4-.6 .3-1.6 .4-.2 .3 .7 .4-1.4 .3 .9 .3-.8 .4-1.6 .3 1.5 .4 2.3 .3-.6 .3-.5 .4-.5 .3 3 .3 1.8 .4-3.5 .3 3.3 .4-.7 .3 .7 .3 .4 .4-.2 .3 1.9 .3 1 .4-.2 .3-.5 .4 2.2 .3 .1 .3-1.1 .4 2.2 .3 .7 .3 1.2 .4-.8 .3 1 .4-.6 .3 2.1 .3-.4 .4-1.5 .3-1.2 .4 1 .3-.3 .4-.9 .3 1.3 .3 .1 .4-.8 .3 .5 .4-1.1 .3-1.3 .4-.2 .3 .8 .4-.1 .3-1.3 .3 .5 .4-2.3 .3 .3 .4 1.5 .3-1.5 .4-2.8 .3 0 .3 1.5 .4 2.8 .3 1.3 .4-1.7 .3 .3 .4 .6 .3 .8 .4 2.2 .3-.4 .4 1.7 .3-.9 .4 1.7 .3 .2 .4 1.6 .3 .8 .4-.8 .3 2 .3-1 .4-1.3 .3 .1 .4-1.7 .3-1.1 .4 1.4 .3-2.1 .4-1.3 .3 .4 .4-2.7 .3 1 .4-2.2 .3-1.1 .4 .5 .3 1.1 .4-1.8 .3-1.8 .3 4.7 .4-1.2 .3 3.8 .4-.7 .3 .4 .3 2.7 .4 2.8 .3 2.1 .3-3.4 .4 .9 .3-1.4 .4 .6 .3-1.3 .4-2.1 .3 .7 .4-1.2 .3 .1 .4-2 .3-.3 .3 1.2 .4 .5 .3 1.9 .4 .5 .3 .6 .3 .7 .4-1.3 .3 3.2 .4-.5 .3-2.8 .4-1.8 .4-1 .3 .1 .4-2.2 .4-2.6 .3-.3 .4-1.3 .4 .1 .3 .8 .4 3.2 .4 .3 .3-2.1 .4 1.5 .4 1.3 .3 .9 .4-.3 .3-.7 .4 2 .3-.5 .3-1.6 .4-.8 .3 .3 .3-.4 .4-2.9 .3 .4 .3 1.4 .3-1.6 .4-1.2 .3-.3 .3-.7 .4 3.2 .3-4.9 .3 3.8 .4-.2 .3 .6 .4 .9 .3 .3 .4 1.9 .3 .5 .4-.6 .3-.1 .3-1.9 .4 .5 .4-.8 .3 .8 .3-.5 .4-3.2 .4 3.4 .3-2.2 .4 .4 .3 2.6 .4-.9 .3-.1 .4-.5 .3 1.8 .4-.5 .3 .9 .4 0 .3-1.3 .3-.4 .4 .4 .3-.4 .3 .1 .4-1 .3 .1 .3-.6 .4-.2 .3 1.6" fill="none" stroke="#33a333" stroke-width="1.5" stroke-linejoin="round" /><path d="M201.9 341.5l3 .1 3.1 .1 3 .1 3.1 .1 3 .1 3 .1 3.1 .1 3 .1 3.1 .1 3 .1 3 .1 3.1 .1 3 .1 3.1 .1 3 .1 3 .1 3.1 .1 3 .1 3.1 .1 3 .1 3 .1 3.1 .1 3 .1 3.1 .1 3 .1 3 .1 3.1 .1 3 .1 3.1 .1 3 .1 3.1 .1 3 .1 3 .1 3.1 .1 3 .1 3.1 .1 3 .1 3 .1 3.1 .1 3 .1 3.1 .1 3 .1 3 .1 3.1 .1 3 .1 3.1 .1 3 .1 3 .1 3.1 .1 3 .1 3.1 .1 3 .1 3.1 .2 3.1 .1 3 .2 3.1 .2 3.1 .1 3.1 .2 3 .2 3.1 .1 3.1 .2 3.1 .2 3 .1 3.1 .2 3.1 .2 3.1 .1 3.1 .2 3 .1 3.1 .2 3.1 .2 3.1 .1 3 .2 3.1 .2 3.1 .1 3.1 .2 3 .2 3.1 .1 3.1 .2 3 .3 3 .2 3 .3 3 .3 3 .2 3 .3 3 .2 3 .3 3 .3 3 .2 3 .3 3 .3 3 .2 3 .3 3 .3 3 .2 3 .3 3 .3 3 .2 3 .3 3 .2 3 .3 3 .3 3 .2 3 .3 3.1 .6 3.2 .6 3.1 .5 3.1 .6 3.2 .6 3.1 .6 3.1 .5 3.2 .6 3.1 .6 3 .6 3 .7 3.1 .6 3 .6 3 .6 3 .7 3 .6 3 .6 3.1 .6 3 .7 3 .6 1.6 .4" fill="none" stroke="#000" stroke-width="1.6" stroke-linejoin="round" stroke-dasharray="4.6,2.4"/><line x1="587.9" y1="355.6" x2="676" y2="355.6" stroke="#1f961f" stroke-width="1.5" stroke-dasharray="4.5,2.4"/><line x1="432.1" y1="311.7" x2="432.1" y2="370.1" stroke="#1f961f" stroke-width="1.5" stroke-dasharray="4.5,2.4"/><line x1="426.2" y1="324.5" x2="439.1" y2="324.5" stroke="#000" stroke-width="1" /><polygon points="422.7,324.5 426.2,322.5 426.2,326.5" fill="#000"/><polygon points="442.6,324.5 439.1,322.5 439.1,326.5" fill="#000"/><text x="418.7" y="321" font-size="9.7" text-anchor="start" font-weight="normal" textLength="34.1" lengthAdjust="spacingAndGlyphs">BN OFD</text><text x="314.1" y="279.5" font-size="10.65" text-anchor="start" font-weight="normal" >ILW 630 Hz</text><line x1="345.9" y1="283.7" x2="385.8" y2="309.5" stroke="#000" stroke-width="1.1" /><polygon points="390.4,312.5 384.4,311.7 387.2,307.3" fill="#000"/><text x="639.5" y="326" font-size="10.65" text-anchor="middle" font-weight="normal" >FLW 17 Hz</text><line x1="636.5" y1="327.5" x2="643.8" y2="339.4" stroke="#000" stroke-width="1.1" /><polygon points="646.7,344.1 641.6,340.8 646,338.1" fill="#000"/><rect x="206.5" y="218.2" width="134.8" height="30.3" rx="2" fill="#fff" fill-opacity="0.85" stroke="#d0d0d0" stroke-width="1"/><line x1="210.1" y1="225.9" x2="231.3" y2="225.9" stroke="#3a88c4" stroke-width="1.8" /><text x="236.7" y="229.6" font-size="10.4" text-anchor="start" font-weight="normal" >Pump</text><line x1="210.1" y1="239.9" x2="231.3" y2="239.9" stroke="#ff9437" stroke-width="1.8" /><text x="236.7" y="243.6" font-size="10.4" text-anchor="start" font-weight="normal" >S1</text><line x1="268.9" y1="225.9" x2="290" y2="225.9" stroke="#4db24d" stroke-width="1.8" /><text x="293.2" y="229.6" font-size="10.4" text-anchor="start" font-weight="normal" >S1 + Coil</text><line x1="269.8" y1="239.9" x2="289.5" y2="239.9" stroke="#000" stroke-width="1.7" stroke-dasharray="4.6,2.2"/><text x="293.2" y="243.6" font-size="10.4" text-anchor="start" font-weight="normal" >Coil TRN</text><rect x="516.4" y="214.6" width="159.6" height="63.1" rx="2.5" fill="#fff" fill-opacity="0.85" stroke="#a8a8a8" stroke-width="1"/><text x="627" y="224.5" font-size="10.5" text-anchor="end" font-weight="normal" >FLW</text><text x="671" y="224.5" font-size="10.5" text-anchor="end" font-weight="normal" >ILW</text><line x1="519.1" y1="227.1" x2="672.5" y2="227.1" stroke="#333" stroke-width="1.0" /><line x1="522.5" y1="235.7" x2="543.2" y2="235.7" stroke="#3a88c4" stroke-width="1.5" /><text x="546.5" y="238.6" font-size="10.5" text-anchor="start" font-weight="normal" >Pump</text><text x="627" y="238.6" font-size="10.5" text-anchor="end" font-weight="normal" >2 kHz</text><text x="671" y="238.6" font-size="10.5" text-anchor="end" font-weight="normal" xml:space="preserve">48 kHz</text><line x1="522.5" y1="247.9" x2="543.2" y2="247.9" stroke="#ff9437" stroke-width="1.5" /><text x="546.5" y="250.8" font-size="10.5" text-anchor="start" font-weight="normal" >SBS</text><text x="627" y="250.8" font-size="10.5" text-anchor="end" font-weight="normal" >7 Hz</text><text x="671" y="250.8" font-size="10.5" text-anchor="end" font-weight="normal" xml:space="preserve">8 kHz</text><line x1="522.5" y1="260" x2="543.2" y2="260" stroke="#4db24d" stroke-width="1.5" /><text x="546.5" y="262.9" font-size="10.5" text-anchor="start" font-weight="normal" >SBS+Coil</text><text x="627" y="262.9" font-size="10.5" text-anchor="end" font-weight="normal" >17 Hz</text><text x="671" y="262.9" font-size="10.5" text-anchor="end" font-weight="normal" xml:space="preserve">630 Hz</text><line x1="522.5" y1="272.7" x2="543.2" y2="272.7" stroke="#000" stroke-width="1.5" stroke-dasharray="3.4,1.9"/><text x="546.5" y="275.6" font-size="10.5" text-anchor="start" font-weight="normal" >TRN limit</text><text x="671" y="275.6" font-size="10.5" text-anchor="end" font-weight="normal" xml:space="preserve">10  Hz</text><line x1="222.3" y1="370.1" x2="222.3" y2="367.5" stroke="#262626" stroke-width="0.8" /><line x1="234.2" y1="370.1" x2="234.2" y2="367.5" stroke="#262626" stroke-width="0.8" /><line x1="242.7" y1="370.1" x2="242.7" y2="367.5" stroke="#262626" stroke-width="0.8" /><line x1="249.3" y1="370.1" x2="249.3" y2="367.5" stroke="#262626" stroke-width="0.8" /><line x1="254.7" y1="370.1" x2="254.7" y2="367.5" stroke="#262626" stroke-width="0.8" /><line x1="259.2" y1="370.1" x2="259.2" y2="367.5" stroke="#262626" stroke-width="0.8" /><line x1="263.1" y1="370.1" x2="263.1" y2="367.5" stroke="#262626" stroke-width="0.8" /><line x1="266.6" y1="370.1" x2="266.6" y2="367.5" stroke="#262626" stroke-width="0.8" /><line x1="290.1" y1="370.1" x2="290.1" y2="367.5" stroke="#262626" stroke-width="0.8" /><line x1="302" y1="370.1" x2="302" y2="367.5" stroke="#262626" stroke-width="0.8" /><line x1="310.5" y1="370.1" x2="310.5" y2="367.5" stroke="#262626" stroke-width="0.8" /><line x1="317.1" y1="370.1" x2="317.1" y2="367.5" stroke="#262626" stroke-width="0.8" /><line x1="322.4" y1="370.1" x2="322.4" y2="367.5" stroke="#262626" stroke-width="0.8" /><line x1="327" y1="370.1" x2="327" y2="367.5" stroke="#262626" stroke-width="0.8" /><line x1="330.9" y1="370.1" x2="330.9" y2="367.5" stroke="#262626" stroke-width="0.8" /><line x1="334.4" y1="370.1" x2="334.4" y2="367.5" stroke="#262626" stroke-width="0.8" /><line x1="357.9" y1="370.1" x2="357.9" y2="367.5" stroke="#262626" stroke-width="0.8" /><line x1="369.8" y1="370.1" x2="369.8" y2="367.5" stroke="#262626" stroke-width="0.8" /><line x1="378.3" y1="370.1" x2="378.3" y2="367.5" stroke="#262626" stroke-width="0.8" /><line x1="384.9" y1="370.1" x2="384.9" y2="367.5" stroke="#262626" stroke-width="0.8" /><line x1="390.2" y1="370.1" x2="390.2" y2="367.5" stroke="#262626" stroke-width="0.8" /><line x1="394.8" y1="370.1" x2="394.8" y2="367.5" stroke="#262626" stroke-width="0.8" /><line x1="398.7" y1="370.1" x2="398.7" y2="367.5" stroke="#262626" stroke-width="0.8" /><line x1="402.2" y1="370.1" x2="402.2" y2="367.5" stroke="#262626" stroke-width="0.8" /><line x1="425.7" y1="370.1" x2="425.7" y2="367.5" stroke="#262626" stroke-width="0.8" /><line x1="437.6" y1="370.1" x2="437.6" y2="367.5" stroke="#262626" stroke-width="0.8" /><line x1="446.1" y1="370.1" x2="446.1" y2="367.5" stroke="#262626" stroke-width="0.8" /><line x1="452.7" y1="370.1" x2="452.7" y2="367.5" stroke="#262626" stroke-width="0.8" /><line x1="458" y1="370.1" x2="458" y2="367.5" stroke="#262626" stroke-width="0.8" /><line x1="462.6" y1="370.1" x2="462.6" y2="367.5" stroke="#262626" stroke-width="0.8" /><line x1="466.5" y1="370.1" x2="466.5" y2="367.5" stroke="#262626" stroke-width="0.8" /><line x1="470" y1="370.1" x2="470" y2="367.5" stroke="#262626" stroke-width="0.8" /><line x1="493.5" y1="370.1" x2="493.5" y2="367.5" stroke="#262626" stroke-width="0.8" /><line x1="505.4" y1="370.1" x2="505.4" y2="367.5" stroke="#262626" stroke-width="0.8" /><line x1="513.9" y1="370.1" x2="513.9" y2="367.5" stroke="#262626" stroke-width="0.8" /><line x1="520.4" y1="370.1" x2="520.4" y2="367.5" stroke="#262626" stroke-width="0.8" /><line x1="525.8" y1="370.1" x2="525.8" y2="367.5" stroke="#262626" stroke-width="0.8" /><line x1="530.3" y1="370.1" x2="530.3" y2="367.5" stroke="#262626" stroke-width="0.8" /><line x1="534.3" y1="370.1" x2="534.3" y2="367.5" stroke="#262626" stroke-width="0.8" /><line x1="537.7" y1="370.1" x2="537.7" y2="367.5" stroke="#262626" stroke-width="0.8" /><line x1="561.3" y1="370.1" x2="561.3" y2="367.5" stroke="#262626" stroke-width="0.8" /><line x1="573.2" y1="370.1" x2="573.2" y2="367.5" stroke="#262626" stroke-width="0.8" /><line x1="581.7" y1="370.1" x2="581.7" y2="367.5" stroke="#262626" stroke-width="0.8" /><line x1="588.2" y1="370.1" x2="588.2" y2="367.5" stroke="#262626" stroke-width="0.8" /><line x1="593.6" y1="370.1" x2="593.6" y2="367.5" stroke="#262626" stroke-width="0.8" /><line x1="598.1" y1="370.1" x2="598.1" y2="367.5" stroke="#262626" stroke-width="0.8" /><line x1="602.1" y1="370.1" x2="602.1" y2="367.5" stroke="#262626" stroke-width="0.8" /><line x1="605.5" y1="370.1" x2="605.5" y2="367.5" stroke="#262626" stroke-width="0.8" /><line x1="629" y1="370.1" x2="629" y2="367.5" stroke="#262626" stroke-width="0.8" /><line x1="641" y1="370.1" x2="641" y2="367.5" stroke="#262626" stroke-width="0.8" /><line x1="649.5" y1="370.1" x2="649.5" y2="367.5" stroke="#262626" stroke-width="0.8" /><line x1="656" y1="370.1" x2="656" y2="367.5" stroke="#262626" stroke-width="0.8" /><line x1="661.4" y1="370.1" x2="661.4" y2="367.5" stroke="#262626" stroke-width="0.8" /><line x1="665.9" y1="370.1" x2="665.9" y2="367.5" stroke="#262626" stroke-width="0.8" /><line x1="669.9" y1="370.1" x2="669.9" y2="367.5" stroke="#262626" stroke-width="0.8" /><line x1="673.3" y1="370.1" x2="673.3" y2="367.5" stroke="#262626" stroke-width="0.8" /><line x1="201.9" y1="370.1" x2="201.9" y2="365.6" stroke="#262626" stroke-width="1" /><line x1="269.7" y1="370.1" x2="269.7" y2="365.6" stroke="#262626" stroke-width="1" /><line x1="337.5" y1="370.1" x2="337.5" y2="365.6" stroke="#262626" stroke-width="1" /><line x1="405.3" y1="370.1" x2="405.3" y2="365.6" stroke="#262626" stroke-width="1" /><line x1="473.1" y1="370.1" x2="473.1" y2="365.6" stroke="#262626" stroke-width="1" /><line x1="540.9" y1="370.1" x2="540.9" y2="365.6" stroke="#262626" stroke-width="1" /><line x1="608.6" y1="370.1" x2="608.6" y2="365.6" stroke="#262626" stroke-width="1" /><line x1="676.4" y1="370.1" x2="676.4" y2="365.6" stroke="#262626" stroke-width="1" /><line x1="201.9" y1="370.1" x2="206.4" y2="370.1" stroke="#262626" stroke-width="1" /><line x1="201.9" y1="330.9" x2="206.4" y2="330.9" stroke="#262626" stroke-width="1" /><line x1="201.9" y1="291.7" x2="206.4" y2="291.7" stroke="#262626" stroke-width="1" /><line x1="201.9" y1="252.5" x2="206.4" y2="252.5" stroke="#262626" stroke-width="1" /><line x1="201.9" y1="213.3" x2="206.4" y2="213.3" stroke="#262626" stroke-width="1" /><rect x="201.9" y="213.3" width="474.4" height="156.8" fill="none" stroke="#262626" stroke-width="1"/><text x="202.2" y="384" font-size="10.3" text-anchor="middle">10<tspan font-size="7.83" dy="-5.3">0</tspan></text><text x="270" y="384" font-size="10.3" text-anchor="middle">10<tspan font-size="7.83" dy="-5.3">1</tspan></text><text x="337.8" y="384" font-size="10.3" text-anchor="middle">10<tspan font-size="7.83" dy="-5.3">2</tspan></text><text x="405.6" y="384" font-size="10.3" text-anchor="middle">10<tspan font-size="7.83" dy="-5.3">3</tspan></text><text x="473.4" y="384" font-size="10.3" text-anchor="middle">10<tspan font-size="7.83" dy="-5.3">4</tspan></text><text x="541.1" y="384" font-size="10.3" text-anchor="middle">10<tspan font-size="7.83" dy="-5.3">5</tspan></text><text x="608.9" y="384" font-size="10.3" text-anchor="middle">10<tspan font-size="7.83" dy="-5.3">6</tspan></text><text x="676.7" y="384" font-size="10.3" text-anchor="middle">10<tspan font-size="7.83" dy="-5.3">7</tspan></text><text x="196.9" y="376.1" font-size="10.3" text-anchor="end">10<tspan font-size="7.83" dy="-5.3">0</tspan></text><text x="196.9" y="336.9" font-size="10.3" text-anchor="end">10<tspan font-size="7.83" dy="-5.3">2</tspan></text><text x="196.9" y="297.7" font-size="10.3" text-anchor="end">10<tspan font-size="7.83" dy="-5.3">4</tspan></text><text x="196.9" y="258.5" font-size="10.3" text-anchor="end">10<tspan font-size="7.83" dy="-5.3">6</tspan></text><text x="196.9" y="219.3" font-size="10.3" text-anchor="end">10<tspan font-size="7.83" dy="-5.3">8</tspan></text><text x="388.9" y="399.8" font-size="10.4" text-anchor="start" font-weight="normal" textLength="99.8" lengthAdjust="spacingAndGlyphs">Offset frequency (Hz)</text><text transform="translate(171.1,291.7) rotate(-90)" font-size="10.55" text-anchor="middle">Frequency noise (Hz<tspan font-size="7.6" dy="-4.2">2</tspan><tspan dy="4.2">/Hz)</tspan></text><line x1="275.1" y1="426.1" x2="275.1" y2="582.5" stroke="#c8c8c8" stroke-width="0.9" /><line x1="348.4" y1="426.1" x2="348.4" y2="582.5" stroke="#c8c8c8" stroke-width="0.9" /><line x1="421.7" y1="426.1" x2="421.7" y2="582.5" stroke="#c8c8c8" stroke-width="0.9" /><line x1="495" y1="426.1" x2="495" y2="582.5" stroke="#c8c8c8" stroke-width="0.9" /><line x1="568.3" y1="426.1" x2="568.3" y2="582.5" stroke="#c8c8c8" stroke-width="0.9" /><line x1="201.8" y1="543.4" x2="676.3" y2="543.4" stroke="#c8c8c8" stroke-width="0.9" /><line x1="201.8" y1="504.3" x2="676.3" y2="504.3" stroke="#c8c8c8" stroke-width="0.9" /><line x1="201.8" y1="465.2" x2="676.3" y2="465.2" stroke="#c8c8c8" stroke-width="0.9" /><path d="M367.3 582.5 L367.3 479.7 L367.7 547.1 L368.1 546.1 L368.4 546.6 L368.8 546.4 L369.2 547.2 L369.5 548 L369.9 547.8 L370.2 547.8 L370.5 548.9 L370.9 548.2 L371.2 549.2 L371.5 549.1 L371.9 549.6 L372.2 549.1 L372.5 549.6 L372.9 549.9 L373.2 550.3 L373.5 550.4 L373.9 551.2 L374.2 550.8 L374.5 551.1 L374.9 551.5 L375.2 551.8 L375.5 551.5 L375.9 551.5 L376.2 551.6 L376.6 550.9 L376.9 549.3 L377.3 547.6 L377.6 546.3 L378 544.8 L378.3 546.5 L378.7 549.5 L379 552 L379.3 551.6 L379.7 551 L380 550 L380.4 549.7 L380.7 548.7 L381 549 L381.4 547.6 L381.7 547.6 L382 546.6 L382.4 545.9 L382.7 545.5 L383 545 L383.4 544.6 L383.7 543.6 L384.1 543.3 L384.4 542.7 L384.8 544.3 L385.1 544.9 L385.5 546.6 L385.9 547.8 L386.3 549.4 L386.6 550.4 L387 551.9 L387.3 551.4 L387.7 550.9 L388 550.4 L388.4 550.2 L388.7 549.4 L389.1 549.5 L389.4 548.4 L389.7 548 L390.1 547.7 L390.4 547.1 L390.8 546.6 L391.1 547 L391.5 546 L391.8 545.3 L392.2 544.8 L392.5 544.2 L392.8 543.4 L393.2 543.7 L393.5 542.9 L393.9 542.8 L394.2 542.1 L394.6 541 L394.9 541.7 L395.2 543 L395.6 544.8 L395.9 546.2 L396.3 548.1 L396.6 550.4 L397 551.3 L397.4 551 L397.7 551.1 L398.1 549.9 L398.4 550.6 L398.8 549.4 L399.1 549.7 L399.4 548.8 L399.8 548.1 L400.1 548.5 L400.5 547.6 L400.8 546.9 L401.2 547.1 L401.5 546.4 L401.9 546.2 L402.2 546.6 L402.6 547.5 L402.9 548 L403.3 548.2 L403.6 549.5 L404 550.5 L404.3 550.9 L404.7 551.7 L405 552.3 L405.3 551.2 L405.7 550.7 L406 549.5 L406.4 548.3 L406.7 548.1 L407 547.1 L407.4 546.1 L407.7 544.9 L408.1 543.6 L408.4 543.4 L408.7 542.3 L409.1 541.2 L409.4 540.4 L409.8 539.5 L410.1 539 L410.5 538.4 L410.9 537.8 L411.2 536.9 L411.6 536 L412 535.3 L412.4 535 L412.8 536.4 L413.1 536.8 L413.4 537.5 L413.8 538.3 L414.1 538.9 L414.5 539.8 L414.8 541.1 L415.2 542.3 L415.5 543.5 L415.9 545 L416.2 546.8 L416.6 547.3 L416.9 549 L417.3 550.4 L417.6 551.5 L418 553.2 L418.3 554.1 L418.7 554.6 L419 555.1 L419.4 554.8 L419.7 555.9 L420.1 556.7 L420.4 555.8 L420.8 555.4 L421.1 556.1 L421.4 557.5 L421.8 554.9 L422.1 557.7 L422.5 557 L422.8 556.4 L423.1 558.7 L423.5 555.7 L423.8 554.6 L424.1 556.4 L424.5 555.7 L424.8 554.2 L425.1 554.7 L425.5 558.7 L425.8 555.4 L426.1 558.7 L426.5 558.2 L426.8 555 L427.1 557.5 L427.5 558.5 L427.8 558.7 L428.1 558.6 L428.5 557.2 L428.8 556.9 L429.2 557.3 L429.5 558.4 L429.9 557.1 L430.2 557.2 L430.6 561.2 L430.9 560.1 L431.3 559 L431.6 558.6 L432 559.4 L432.3 559.3 L432.7 559.8 L433 559.1 L433.4 561.8 L433.7 561.5 L434.1 562 L434.4 560.3 L434.7 563.2 L435.1 562 L435.4 561.4 L435.7 561.7 L436.1 560.2 L436.4 561.3 L436.7 559.5 L437.1 561.4 L437.4 561.3 L437.7 561.2 L438.1 560.4 L438.4 560.6 L438.7 561.1 L439.1 559.9 L439.4 561.2 L439.8 561.3 L440.1 559.1 L440.4 558.7 L440.8 560.9 L441.1 560.2 L441.4 559.2 L441.8 559.2 L442.1 558.5 L442.4 559.8 L442.8 558.3 L443.1 558 L443.4 559.5 L443.8 561.2 L444.1 560.8 L444.4 559.2 L444.8 559.8 L445.1 559.3 L445.4 558.7 L445.8 559.6 L446.1 558.5 L446.4 558.9 L446.8 559.6 L447.1 559.8 L447.4 562.1 L447.8 559 L448.1 558.7 L448.4 560.6 L448.8 560.8 L449.1 560 L449.4 558.6 L449.8 560 L450.1 559.1 L450.4 560.5 L450.8 562.6 L451.1 560.4 L451.5 560.9 L451.8 561.9 L452.1 561.5 L452.5 560.1 L452.8 559.5 L453.1 559.5 L453.5 558.6 L453.8 560.4 L454.1 559.3 L454.5 558.5 L454.8 559.5 L455.1 557.3 L455.5 560.3 L455.8 558.1 L456.1 559.4 L456.5 557.5 L456.8 556.3 L457.1 556.9 L457.5 558.9 L457.8 558.1 L458.1 556.9 L458.5 558.3 L458.8 557.3 L459.2 556.6 L459.5 555.5 L459.9 557.2 L460.4 557 L460.8 554.4 L461.1 553.9 L461.5 549.3 L462 542 L462.3 535 L462.6 539.9 L463.1 547.6 L463.5 555.2 L463.8 557.7 L464.2 558.5 L464.6 558.1 L465 561.5 L465.4 560.1 L465.7 562.4 L466.1 563.1 L466.4 561.5 L466.8 563.3 L467.1 562.8 L467.4 563.3 L467.8 564.1 L468.1 562 L468.5 561.9 L468.8 560.5 L469.1 564.4 L469.5 564.1 L469.8 563 L470.1 563.8 L470.5 562.6 L470.8 562.6 L471.1 561.7 L471.5 562.3 L471.8 560.5 L472.1 562.7 L472.5 559.7 L472.8 561 L473.1 561.7 L473.5 561.5 L473.8 560.6 L474.2 561.8 L474.5 558.9 L474.8 561.1 L475.2 561.8 L475.5 561.2 L475.8 563 L476.2 561.8 L476.5 560.8 L476.8 563.1 L477.2 563 L477.5 560.6 L477.9 563.9 L478.2 561.2 L478.5 561.3 L478.9 563.5 L479.2 564.6 L479.5 563.4 L479.9 561.9 L480.2 561.7 L480.5 563 L480.9 563.2 L481.2 561.3 L481.5 563.3 L481.9 559.5 L482.2 562.9 L482.6 561.3 L482.9 560.8 L483.2 565.5 L483.6 562.2 L483.9 561.3 L484.2 564.8 L484.6 563.1 L484.9 562.1 L485.2 560 L485.6 564.7 L485.9 564.5 L486.3 564.2 L486.6 562.1 L486.9 565.1 L487.3 563 L487.6 564.3 L487.9 559.5 L488.3 562.4 L488.6 563.5 L488.9 562.2 L489.3 564.7 L489.6 563.2 L490 563.4 L490.3 563 L490.6 561.1 L491 561.2 L491.3 564.3 L491.6 562.5 L492 560.1 L492.3 563.5 L492.6 563.5 L493 562.9 L493.3 564.2 L493.7 562.5 L494 563.3 L494.3 562.8 L494.7 564.6 L495 565 L495.3 566.2 L495.7 565.6 L496 566.4 L496.3 565.8 L496.7 565.5 L497 564.4 L497.3 564.8 L497.7 563.9 L498 566.5 L498.3 564.8 L498.6 566.5 L499 565.7 L499.3 563.9 L499.6 568.3 L500 565.9 L500.3 562.9 L500.6 564.4 L501 562.4 L501.3 563.9 L501.6 562.9 L502 564.7 L502.3 561.5 L502.6 563.8 L503 565.1 L503.3 563.6 L503.6 565.9 L503.9 566 L504.3 561.5 L504.6 562.4 L504.9 565.3 L505.3 562.5 L505.6 560.3 L505.9 562.3 L506.3 562.8 L506.6 563 L506.9 563 L507.3 563.3 L507.6 562.1 L507.9 562.5 L508.3 562.6 L508.6 562.8 L508.9 564.4 L509.3 563.6 L509.6 564.1 L509.9 562.2 L510.2 560.9 L510.6 563 L510.9 564.4 L511.2 563.1 L511.6 561 L511.9 563.6 L512.2 561.9 L512.6 560.7 L512.9 563.4 L513.2 563 L513.6 564.6 L513.9 561.1 L514.2 560.8 L514.6 562.9 L514.9 563 L515.2 563.8 L515.5 561.1 L515.9 563.5 L516.2 561.1 L516.5 560.8 L516.9 564.5 L517.2 565.2 L517.5 562.7 L517.9 563.9 L518.2 564.4 L518.6 548.3 L519 564 L519.3 562.2 L519.7 561.7 L520 563.6 L520.3 566.1 L520.7 562.2 L521 562 L521.3 565.2 L521.7 561.7 L522 565.2 L522.3 563.4 L522.7 563.4 L523 559.4 L523.3 564.1 L523.6 561.9 L524 563.6 L524.3 562.9 L524.6 564.6 L525 563.2 L525.3 564.6 L525.6 563.5 L526 562.8 L526.3 561.2 L526.6 560 L527 561.6 L527.3 560.7 L527.6 561.3 L528 561.2 L528.3 560.9 L528.6 562 L529 560.4 L529.3 560.7 L529.6 562.1 L530 561.1 L530.3 561.2 L530.6 560.6 L531 559.3 L531.3 561.6 L531.6 560.5 L532 561.8 L532.3 561.4 L532.6 563 L532.9 560.6 L533.3 563.3 L533.6 562.1 L533.9 565.3 L534.3 560.3 L534.6 560.5 L534.9 561.9 L535.3 562.5 L535.6 560.9 L535.9 561.5 L536.3 559.3 L536.6 561.8 L536.9 562.6 L537.3 561.9 L537.6 561.2 L537.9 560.1 L538.3 562.3 L538.6 563.2 L538.9 559.2 L539.3 561.9 L539.6 561.1 L539.9 556.9 L540.3 560.1 L540.6 561 L540.9 557.8 L541.3 557.7 L541.6 559.5 L542 558.7 L542.3 559.4 L542.6 560.8 L543 559.1 L543.3 556 L543.6 554.4 L544 557.2 L544.3 554.7 L544.6 559.1 L545 559.6 L545.3 559 L545.6 556 L546 557.1 L546.3 555.7 L546.6 556.6 L547 559.5 L547.3 558.5 L547.6 556.1 L548 559.9 L548.3 558.1 L548.6 559 L549 557.8 L549.3 559.5 L549.6 559.2 L550 559.5 L550.3 558.4 L550.6 557.9 L551 556.4 L551.3 554.4 L551.7 559.1 L552 558.2 L552.3 555.7 L552.7 558.4 L553 557.4 L553.3 557.2 L553.7 558.4 L554 555 L554.3 557.1 L554.7 558.3 L555 558.5 L555.3 557.6 L555.7 556.3 L556 557.3 L556.3 554 L556.7 558.3 L557 555.6 L557.3 555.1 L557.7 556.1 L558 554.4 L558.3 553.9 L558.7 553.7 L559 557.3 L559.3 554.4 L559.7 555.1 L560 554.7 L560.3 555.2 L560.7 553.7 L561 552.7 L561.3 552.1 L561.7 552.8 L562 552.5 L562.3 554.9 L562.7 549.3 L563 554.3 L563.3 554.6 L563.7 554.6 L564 551.1 L564.4 553.9 L564.7 552.9 L565 552.3 L565.4 550.5 L565.7 551.2 L566 549.7 L566.4 553.6 L566.7 552.6 L567 550.4 L567.4 551.1 L567.7 548 L568 551.6 L568.4 549.7 L568.7 551.2 L569 550 L569.4 549.3 L569.7 550.2 L570 552.1 L570.4 548.8 L570.7 549 L571 549.3 L571.4 551.1 L571.7 550.6 L572 550.1 L572.4 549.7 L572.7 550.8 L573 550.6 L573.4 550.5 L573.7 546.8 L574 547.1 L574.4 549 L574.7 547.2 L575.1 547.7 L575.4 549.4 L575.7 548 L576.1 547.2 L576.4 548.8 L576.7 547.6 L577.1 549.3 L577.4 548.8 L577.7 547.9 L578.1 549.7 L578.4 546.9 L578.8 548.1 L579.1 547.2 L579.4 547.6 L579.8 546.8 L580.1 548.6 L580.4 547.2 L580.8 545.5 L581.1 545.1 L581.5 546.5 L581.8 548.6 L582.1 547.5 L582.5 548.7 L582.8 545 L583.1 546.5 L583.5 548.8 L583.8 545.3 L584.1 548 L584.5 546.9 L584.8 548.3 L585.2 545.8 L585.5 547.8 L585.8 549.6 L586.2 544.7 L586.5 546.7 L586.8 545.2 L587.2 547 L587.5 547.1 L587.9 545.5 L588.2 544.7 L588.5 546.8 L588.9 548.1 L589.2 547 L589.5 548.6 L589.9 547.7 L590.2 549.5 L590.5 549 L590.9 545.8 L591.2 547.4 L591.6 548.6 L591.9 548.6 L592.2 550.5 L592.6 547 L592.9 547.4 L593.2 547.2 L593.6 550 L593.9 551.8 L594.3 547.5 L594.6 552.1 L594.9 547 L595.3 549.2 L595.6 549.6 L596 548.3 L596.3 547.8 L596.6 549.3 L597 551.2 L597.3 549.6 L597.6 550.6 L598 550.8 L598.3 552.3 L598.6 548.8 L599 553.2 L599.3 549.1 L599.7 552.5 L600 548.5 L600.2 549.9 L600.5 550.7 L600.8 551 L601 548.4 L601.2 550 L601.5 548.7 L601.8 552.3 L602 549.6 L602.2 550.1 L602.5 551.4 L602.8 546.9 L603 550.3 L603.2 548.2 L603.5 548.8 L603.8 550.5 L604 551 L604.2 548.4 L604.5 548.8 L604.8 552.1 L605 549.4 L605.2 550.5 L605.5 550.5 L605.8 548.8 L606 548.7 L606.2 550 L606.5 544.9 L606.8 547.6 L607 549.3 L607.2 549.5 L607.5 549.7 L607.8 548.3 L608 547.9 L608.2 547.2 L608.5 549.6 L608.8 549.4 L609 549.6 L609.2 549 L609.5 548.1 L609.8 550.9 L610 550.5 L610.2 550.4 L610.5 550.2 L610.8 551 L611 549.6 L611.2 548.1 L611.5 549.4 L611.8 549.2 L612 549.6 L612.2 549.8 L612.5 549.3 L612.8 549.3 L613 549.1 L613.2 548.1 L613.5 548.8 L613.8 549.4 L614 552.7 L614.2 550.1 L614.5 549.4 L614.8 551.7 L615 551.8 L615.2 550.8 L615.5 552.8 L615.8 550.1 L616 550.1 L616.2 551.2 L616.5 551.5 L616.8 551.9 L617 553.2 L617.2 552.1 L617.5 552.6 L617.8 551.7 L618 550.7 L618.2 552.1 L618.5 550.8 L618.8 553.2 L619 551.9 L619.2 550.9 L619.5 552.4 L619.8 551.9 L620 551.2 L620.2 552.4 L620.5 552.2 L620.8 552.4 L621 549.3 L621.2 552.3 L621.5 556.6 L621.8 556 L622 555.4 L622.2 553.7 L622.5 555.6 L622.8 555.1 L623 554.5 L623.2 554.6 L623.5 552.2 L623.8 556.2 L624 556.2 L624.2 555.4 L624.5 555.6 L624.8 554.1 L625 555.2 L625.2 554.5 L625.5 554.1 L625.8 556.1 L626 558.9 L626.2 558.4 L626.5 556.1 L626.8 559.1 L627 555.1 L627.2 555.4 L627.5 557.1 L627.8 559.3 L628 558.9 L628.2 554 L628.5 554.2 L628.8 555.3 L629 558.7 L629.2 555.9 L629.5 556.3 L629.8 559 L630 556.1 L630.3 555 L630.5 556.9 L630.8 559.9 L631 556.8 L631.3 558.9 L631.5 560 L631.8 560.2 L632 560 L632.3 560.3 L632.6 560.8 L632.8 560.3 L633.1 559.6 L633.3 563.2 L633.6 559 L633.8 559.7 L634.1 560.4 L634.3 562.4 L634.6 558.6 L634.9 558.9 L635.1 561.6 L635.4 561.2 L635.6 561.2 L635.9 560.9 L636.1 561.9 L636.4 560.6 L636.6 562.7 L636.9 560.9 L637.1 559.1 L637.4 561.8 L637.7 559.7 L637.9 558.5 L638.2 561.2 L638.4 560.3 L638.7 561.1 L638.9 561.4 L639.2 556.6 L639.4 558.3 L639.7 555.3 L640 554.3 L640.2 552.7 L640.5 548.9 L640.7 543.1 L641 536.2 L641.2 521.1 L641.5 514.7 L641.7 506.2 L642 508.1 L642.2 518.4 L642.5 533.1 L642.7 540.3 L643 548.6 L643.2 551.8 L643.5 553.6 L643.7 559.3 L644 561.4 L644.2 559.7 L644.5 564.3 L644.7 564.9 L645 564 L645.2 564.2 L645.5 566.2 L645.8 567.2 L646 566.9 L646.2 567.7 L646.5 568.7 L646.8 568.8 L647 569.4 L647.2 568.8 L647.5 566.7 L647.8 569.9 L648 571 L648.2 570.3 L648.5 568.2 L648.8 570.6 L649 571.7 L649.2 572.6 L649.5 569.9 L649.8 570.2 L650 569.7 L650.2 571.3 L650.5 570.2 L650.8 573.1 L651 569.8 L651.2 571.2 L651.5 570.5 L651.8 568.3 L652 569.3 L652.2 568.3 L652.5 566.9 L652.8 569.7 L653 568 L653.2 568.9 L653.5 569.5 L653.8 567.5 L654 569.5 L654.2 567.7 L654.5 568.6 L654.8 566.7 L655 565.1 L655.2 567 L655.5 566.8 L655.8 571.4 L656 567.2 L656.2 567.9 L656.5 566.4 L656.8 568.8 L657 568.1 L657.2 567.2 L657.5 567.1 L657.8 563.4 L658 565.2 L658.2 568.7 L658.5 569.2 L658.8 565 L659 566.2 L659.2 565.7 L659.5 568.5 L659.8 563.7 L660 564.8 L660.2 564.9 L660.5 563.6 L660.8 562.7 L661 563.4 L661.2 562.5 L661.5 559.9 L661.8 560.4 L662 557.7 L662.2 558.2 L662.5 551.8 L662.8 547.7 L663 544.3 L663.2 534 L663.5 522.2 L663.8 512.5 L664 505.1 L664.2 508.4 L664.5 522.6 L664.8 535.4 L665 543.1 L665.2 549.5 L665.5 553.8 L665.8 558.5 L666 557.6 L666.2 555.7 L666.5 562.1 L666.8 563.9 L667 563.7 L667.2 562.4 L667.5 565.1 L667.8 566.3 L668 565 L668.2 563.2 L668.5 564.2 L668.8 562.5 L669 566.1 L669.2 562.4 L669.5 567.1 L669.8 563.2 L670 565.3 L670.2 564.4 L670.5 560.7 L670.8 564.3 L671 562.1 L671.2 562.4 L671.5 563.1 L671.8 560.2 L672 561.9 L672.3 563.3 L672.5 563.1 L672.8 561.9 L673 556.7 L673.3 561 L673.5 558.5 L673.8 556.8 L674 559.6 L674.3 560.2 L674.5 558.1 L674.8 557.3 L675 555.7 L675.3 556.2 L675.5 557.5 L675.8 556.3 L676 554.9 L676.3 554.3 L676.3 582.5 Z" fill="#c0e2c0" stroke="none"/><path d="M348.1 450.4l.8-.7 1-1.3 .9-2.7 .3-.9 .7-1.7 .4-.4 .8-.7 1.1-.3 .8-.2 1.2-.1 .7 0 1.2 .1 1.1 .6 .8 .5 1.1 1.9 1.9 10.4 1.2 5.2 .9 2.5 1 2.2 2 1.8 1 1.4 1.1 1.8 .7 1.1 .4 .5 .7 1 1.2 1.4 .7 .7 .3 .3 .7 .6 .4 .3 .6 .5 .4 .3 .7 .4 1 .6 1.1 .4 1.1-.4 1-1.6 1.1-1.9 .7-1.4 1.1-1.9 1-2 1-2.2 1.2-2.8 .8-2.2 1-4.4 .9-3.4 1 .3 1 1.6 1 .9 1 1.8 1 6.2 .3 2.3 .8 2.9 .8 2.3 .3 .9 .7 1.8 .4 .6 .7 1.1 .9 .2 1.3-3.9 .9 .8 1.1 1.2 .9 .3 .8-.5 1.3-3.5 1.9-13.1 1-2.9 2-13.5 .9 10.3 1.3 7.3 .7 1.6 .3 .8 1 8.9 .7 6.4 .3 3.1 .7 2.5 1.1 3.5 .8 1.9 .3 .9 .7 1.8 .3 .9 .7 1.8 .4 .9 .7 1.1 .3 3 .4 .6 .4 .2 .4 .7 .3-.9 .4 1.1 .3-1.3 .4 .9 .3-1.5 .4-2.1 .3 0 .4 .1 .3-1.4 .4 2 .3-.2 .4-.4 .3 1 .4 1.1 .3 .5 .4-1.5 .3 3 .4-1.9 .3 2.2 .3-1.4 .4-.1 .3 .4 .4 2.5 .3-3.3 .3 2.1 .4-.4 .3-2 .4 1.5 .3 .1 .3-1.7 .4-.2 .3 1.1 .3 2.2 .4-1.5 .3-1.2 .4 1.6 .3-.8 .3 2.5 .4 .3 .3-.9 .3-.3 .4 1.9 .3 .4 .3-2.3 .4 .6 .3-.3 .3-.6 .4 3.8 .3-1.1 .3-2.5 .4 1.6 .3-2.7 .4 3.2 .3-1.2 .3 .3 .4 .9 .3 .6 .3-.6 .4-.2 .3 .9 .3 .1 .4 1.4 .3-.6 .3-1.8 .4 1.3 .3 0 .4-.1 .3 .4 .3-.3 .4-1.2 .3 2.6 .3-.1 .4-1.6 .3-.4 .4-.4 .3 1.1 .3 1.9 .4-1.7 .3-1.5 .3 1.9 .4-.9 .3-.2 .4 1.1 .3-2.3 .3 .1 .4 2.4 .3-1.4 .4-1.1 .3-.4 .3 1.1 .4 .3 .3-2.2 .4 .9 .3 2.2 .3-2.7 .4 .9 .3 0 .3 .8 .4 0 .3-.7 .4 .6 .3 .7 .3-.8 .4 1 .3 1.3 .3 .4 .4-2.5 .3 1.8 .4-.7 .3-.1 .3-.3 .4 .6 .3 .8 .3-2.2 .4 1.3 .3-.6 .4 1.5 .3 1.1 .3-.3 .4 .8 .3-.3 .3 .2 .4 1.9 .3-1.8 .3 2.2 .4-1.2 .3 .2 .4 0 .3 .4 .3 .1 .4 0 .3-1.7 .3-.1 .4 2.7 .3-.8 .4 .6 .3-.8 .3 2.8 .4-1.5 .3-.1 .3-.9 .4 2.1 .3-.1 .3 .9 .4-.5 .3-1.6 .3 2.3 .4-2 .3 .7 .3 0 .4 .7 .3 .2 .3-1.6 .4 .5 .3-1 .3 2.5 .4-2.1 .3 3 .3-.8 .4-.8 .3 .8 .3 .1 .4 1 .3 .3 .3-.6 .4 1.2 .3-3 .3 3.5 .4 .4 .3 0 .3-1.8 .4-.5 .3 1.5 .3 2.8 .4-1.9 .3-.9 .3-.9 .4 1.5 .3 1.1 .3-.1 .4-2.5 .3 2.5 .3 1.1 .4-1.3 .3-.5 .4 .1 .3 0 .3 2.9 .4-1.9 .3 2.3 .4-2.3 .3 .8 .3 .1 .4 .8 .3 1.1 .4 1.6 .3-1.2 .3-.8 .4-.1 .3 .6 .4-1.4 .3 1.1 .3 .1 .4 .4 .3-1.8 .4 1.2 .3-.1 .3-1 .4 .3 .3 1.4 .4-1.2 .3 2.5 .3-2 .4-1.5 .3 .5 .3 .4 .4-.1 .3-.9 .3 3.3 .4-2 .3-.7 .3-.6 .4-1.2 .3 2.2 .3-.5 .4 .5 .3-.5 .3 1.4 .4 .2 .3-2.5 .3 1.6 .4 1 .3-1.2 .3 0 .4-2.1 .3 .8 .3 1 .4-.3 .3-.4 .3 .8 .4-.8 .3-.8 .4-1.1 .3 1.3 .4-.8 .3-.4 .4 .9 .3-2.2 .4-.1 .4 .5 .3-.1 .4 2.7 .3 2.5 .4-.3 .3 1.5 .4-.6 .3 3.2 .4-2.9 .3 1.2 .3 2.7 .4-1.8 .3-.8 .3-.7 .4 1.2 .3-.9 .3 .7 .4 .7 .3 1.2 .3-2.3 .4 2.6 .3 .7 .3-2.7 .4 .3 .3-.1 .3 .7 .4-.3 .3-.2 .3-.4 .4 .2 .3 .7 .3-.7 .4-.6 .3 1.6 .3 .6 .4-1.3 .3 2.2 .3-1 .4 .3 .3-1.8 .3 2.4 .4 .7 .3-1.8 .3 .7 .4 .9 .3 0 .3-1.1 .4 .9 .3 1.1 .3-.3 .3-.5 .4 1.1 .3-2.5 .3 .9 .4 .2 .3 1.2 .3 .9 .4-1.3 .3-.4 .3 1.5 .4-.9 .3-3 .3 1.7 .4-.1 .3-.8 .3 2.2 .4-.5 .3 1.5 .3-2 .4 .4 .3-.9 .3 1.8 .4 .3 .3 .4 .3-2.2 .3 1.9 .4-2 .3 .4 .3 .6 .4 2.4 .3-2.7 .3-.2 .4 1.3 .3 1 .3-.6 .4-1.4 .3 .5 .3 1.7 .4-1.2 .3-.7 .3 .3 .4 1.7 .3 .4 .3-1.3 .4-1.2 .3 .2 .3 .8 .4 .4 .3-.3 .3-.1 .4 1.9 .3-1.3 .3-1.6 .3 .8 .4 2 .3-2.4 .3 2 .4-.5 .3-.5 .3 .4 .4-1 .3 .5 .3 .4 .4-1.2 .3 1.8 .3-2.2 .4 1.2 .3 .4 .3-1.5 .4 2.1 .3-1.4 .3 1.4 .4-.3 .3-.7 .3 2.6 .4-1.6 .3-.5 .3 .7 .4-.4 .3 .7 .3-1.5 .4 .7 .3-.8 .3-.3 .3 1.5 .4-1.7 .3-.7 .3 1.1 .4 1.2 .3 0 .3 .1 .4-.4 .3 1.6 .3-2.5 .4 2.2 .3-1.2 .3 .5 .4 .5 .3-.3 .3-1 .4 .5 .3 .4 .3-.6 .4 2.5 .3-1.9 .3-.9 .4 1.4 .3-.7 .3-.6 .4-1.2 .3 2.3 .3 .8 .4-1.6 .3-.7 .3-.8 .4 .5 .3 1.2 .3-.6 .3-.2 .4 .7 .3 0 .3 .5 .4-.1 .3 .2 .3-1 .4 .6 .3-.9 .3 .7 .4 .5 .3-1.2 .3 .4 .4 .5 .3-.6 .3 .9 .4 .1 .3-.4 .3 2.3 .4-2 .3 .7 .3-2 .4 2.1 .3-.1 .3-2.3 .4 2.1 .3-.6 .3 1.1 .3-.4 .4-.4 .3 0 .3 1.7 .4-2.9 .3 1.3 .3 1.1 .4-1 .3 .7 .3-.6 .4 2 .3-.9 .3-.9 .4 1.6 .3-.7 .3-1.1 .4-1 .3 2.3 .3-.7 .4-1.7 .3-2 .3 3.9 .3 0 .4-.8 .3 .3 .3-.9 .4 2.6 .3-2.6 .3 1.3 .4-.1 .3-.6 .3-.3 .4 1.6 .3-2.5 .3 1.6 .4 1.6 .3-3.2 .3 1.1 .4-2.5 .3 2.1 .3-.4 .4 .3 .3-.1 .3 1.5 .3-.6 .4-1 .3 .1 .3 2.5 .4-1.9 .3-.3 .3 .6 .4 1.9 .3-1.2 .3 0 .4-1.6 .3 1.7 .3-.3 .4-.5 .3-.8 .3 2.8 .4-2.3 .3 1.5 .3-.1 .4-.5 .3-.1 .3 .5 .3-1 .4 .7 .3-.1 .3-.5 .4-2.3 .3 2.7 .3-1.2 .4 2.4 .3 .1 .3-1 .4 .1 .3-2.3 .3 1.3 .4 2.6 .3-3.2 .3 3.6 .4-2.4 .3-1.8 .3 3.8 .4-2 .3 .6 .3 .7 .3-1.6 .4 .6 .3 1.1 .3-1.5 .4 .8 .3-2.4 .3 2.2 .4-1.5 .3 .5 .3 .5 .4 .8 .3-.4 .3-.7 .4 .9 .3-1 .3 1.9 .4-2.3 .3 0 .3 2.4 .4-2 .3 1.4 .3-2.3 .4 1.5 .3-.2 .3 .5 .4-1.3 .3 1.7 .3 .1 .4-1.2 .3 1.2 .3 .2 .4-1.9 .3 2.6 .3-.1 .4-1.9 .3 .3 .3 .8 .4 .3 .3 .4 .3-.7 .4 .7 .3-1.4 .3 .5 .4-.7 .3 .4 .3-1.1 .4 1.1 .3 .6 .3 .9 .4 .7 .3-1.9 .3 .2 .4 1.4 .3 .1 .3-.6 .4-1.4 .3 .5 .3-1.1 .4 .8 .3 1.9 .3 .2 .4-1.8 .3 .8 .3-1.7 .4-.3 .3 .7 .3-1.5 .4 2.8 .3-.8 .3-.2 .4 .3 .3 .4 .3-.5 .4-1.3 .3 .7 .4 .8 .3-1.1 .3 .7 .4-1.7 .3 1.6 .3-.5 .4 1.4 .3-2 .3-.1 .4-1.1 .3 2.6 .3-.8 .4-.4 .3 .6 .3-.4 .4-.7 .3 1.6 .3-1.6 .4 .9 .3-.3 .3-.6 .4 .8 .3-.8 .3 1.5 .4-.6 .3-1.5 .3 1.3 .4-3.5 .3 3.9 .3-3.1 .3 2.3 .4-2.8 .3 .8 .3 .9 .4-2.5 .3 1.8 .4 .2 .3-2.4 .4 1.4 .3-3.2 .4 1.5 .3-1.7 .4-.7 .3-1.1 .4 3.6 .4-.7 .4 2.7 .3 .8 .4-.1 .3 .3 .3-1.9 .4 1.5 .3-.3 .3 1.2 .4-3 .3 2 .3 .4 .4-.8 .3-1.1 .3 1.7 .4 1 .3-1.8 .3-.1 .4 .1 .3-.7 .3 5 .4-3.3 .3 1.5 .3-.6 .4-2.3 .3 .5 .3 .2 .4-.8 .3-2.2 .4-.3 .3 .4 .3 1.2 .4-2.5 .4 2.5 .4 1.6 .4 .8 .4-.5 .3 1.4 .4-1 .3 .7 .3-.8 .4 0 .3 0 .3-.5 .4 2 .3-2.2 .3 1 .4 1.1 .3-2 .3 1.7 .4 .2 .3 1.5 .3-.4 .4-.6 .3-.4 .3 .1 .4 1 .3-.4 .3 .6 .3-2.7 .4 2.5 .3 1.1 .3-1.8 .4-.7 .3 2 .3-3.2 .4 3.1 .3-2.4 .3 0 .4 2.6 .3-1.4 .3-.7 .4 .5 .3 1.4 .3 .1 .4-1.3 .3-.5 .3 1.8 .3-2.1 .4 2.5 .3-3.5 .3 1.9 .4 1.2 .3-1.1 .3-.2 .4 .7 .3-1.9 .3 .9 .4 0 .3 .5 .3-.3 .3 1.2 .4 .1 .3-2.5 .3 3.8 .4-2.1 .3-.8 .3 2.2 .4-4.1 .3 2.7" fill="none" stroke="#2479b7" stroke-width="1.5" stroke-linejoin="round" /><path d="M353.8 479.3l.3-.2 .7-.4 .4-.2 .7-.4 1-.5 1.1-.6 1-.6 1-.5 1-.2 1-.2 1-.1 1-.2 1-.2 1-.2 1-.4 1-.6 1.1-.5 1-.5 .7-.4 .4-.1 .7-.4 .3-.2 .7-.3 1-.1 1-.1 1-.1 1-.1 1.1-.1 1-.1 1-.1 1-.1 1-.1 1 .1 1 .1 1 .1 1 0 1 .1 1 .1 1 .1 1 .1 .9 .1 1 0 1 .1 1.1 0 1 0 1 0 1.1 0 1 0 1 0 .7 0 .3-.9 .7-1.7 .3-.9 .7-1.8 .4-.1 .7-.1 1-.2 1.1-.2 1 2.9 1 3 1 .1 1 0 1 .1 1 0 1 .1 .9 .1 1 1.3 1 4.1 1.1 3.6 1 2.6 1.1 2.6 .7 1.8 .3 1.1 .7 2.1 .3 2.3 .4-1.3 .3 .6 .4 1.5 .3 1.3 .3 .7 .4 .8 .3 .9 .4-.6 .3 1.1 .3-.6 .4-.5 .3-.7 .4-.5 .3 1.5 .3 0 .4 .6 .3 0 .4-1.5 .3 .7 .3-.3 .4 2.2 .3-.8 .4-1 .3-.2 .3 .7 .4 .6 .3 .6 .4-1.9 .3 1.9 .3-.5 .4 .9 .3 .7 .4 1.5 .3 1 .3 .1 .4-.3 .3 1.6 .4 .5 .3 1.1 .3-.5 .4-1.8 .3 1.3 .3 1.4 .4-1 .3 1 .4-.5 .3-1.5 .3 1.3 .4 .5 .3-.1 .3-1.8 .4 2 .3-2.4 .3 1.6 .4-1.3 .3 .8 .3 2.8 .4 1.1 .3-1.3 .3-.5 .4 1.5 .3-1.4 .4-2.7 .3 3.4 .3-3.1 .4-.6 .3 2.3 .3 .7 .4-.9 .3 1.9 .3-1 .4 .4 .3 .3 .3-.1 .4 2.2 .3-3.1 .4 1.2 .3 .5 .3-.9 .4 .6 .3-1.6 .3 1.5 .4 .6 .3 1.1 .3-1.2 .4-.3 .3 3.3 .3-.6 .4-2.4 .3 1.9 .3-.3 .4 .6 .3-1 .3 1.3 .4 .3 .3 1.3 .3-.8 .4-1.5 .3-.6 .3 1.2 .4 1.6 .3-.1 .3-1.5 .4 1.9 .3-1.6 .3 1.2 .4-.2 .3-.8 .3 .9 .4 .8 .3 1.4 .3-2.1 .4 1.4 .3 0 .3-1.2 .4 2.6 .3 .2 .3 .4 .4-1.1 .3 1.1 .3-.8 .4 .5 .3-1.2 .3 .9 .4-.2 .3 .2 .3-.3 .4 .3 .3 1 .3 0 .4 2.9 .3 0 .3-.4 .4 .1 .3-1.3 .3 1.5 .3-.6 .4 .5 .3 .5 .3 1.5 .4-1.3 .3 3.6 .3-2.6 .4 1.7 .3-2.1 .3 2.9 .4-.3 .3 .2 .3 1.2 .4 .2 .3 .2 .3-.3 .4 2.3 .3-2.1 .3 .7 .4-.3 .3 .9 .3-.4 .4 1.2 .3-.8 .3 1.3 .4-.8 .3 2.2 .3-1.3 .4 2.2 .3-1.1 .3-.4 .4 1.6 .3 .7 .3 .3 .4-.1 .3-1.7 .3 2.5 .4-.6 .3 .9 .3 1.1 .4-1.7 .3 2.3 .3-.5 .4-.5 .3 2 .3-.9 .4 1.3 .3 .5 .3-2.4 .4 2.1 .3-1.6 .3 1.1 .4-.4 .3 .6 .3 .4 .4 .8 .3 .1 .3 .1 .4-1 .3-.3 .4 1.2 .3-1.2 .3 1.7 .4-1.5 .3-.1 .4 2.1 .3-1.2 .3-2.2 .4 1.5 .3 2.7 .4 .9 .3-3 .3 1.1 .4-.2 .3-2 .4 3.1 .3-.5 .3-.3 .4-1.1 .3 1.2 .4 .7 .3 0 .3 .6 .4 .9 .3-.3 .4-1.8 .3 .6 .3 1 .4-.9 .3 1.9 .3-1.9 .4 .9 .3 .4 .3-1.6 .3 1 .4-.3 .3 .2 .3-.8 .4 .6 .3 3 .3-1.4 .4 0 .3 .6 .3 .5 .4-.8 .3 .5 .3 .7 .3-.8 .4 1.4 .3-1.9 .3-.2 .4-1.1 .3 1.4 .3 .7 .4-.8 .3-.6 .3 .5 .4 .3 .3 .5 .3 1.3 .4-.4 .3 .5 .3 .4 .3-1.6 .4 1.9 .3-2.5 .3 .8 .4 .6 .3-1.3 .3 2.2 .4-4 .3-.8 .4-3.7 .3 2.9 .4 1.8 .3 .5 .4 2.4 .3 1.9 .3-1.4 .4 1.9 .3-.7 .3-.4 .4-1.3 .3 2.2 .3-.1 .4 2.9 .3-.8 .3-.1 .4-.8 .3-.1 .3 .3 .4-2 .3 3 .3-1.7 .4-.3 .3 .8 .3-1.2 .4 .3 .3-.4 .3 2.3 .4 1 .3-1.5 .3-.3 .4 .6 .3-.7 .3 .7 .4 .3 .3-.7 .3 .7 .4 .2 .3 .8 .3-2 .4 .6 .3 .8 .3 1.2 .3-1.6 .4 2.6 .3 .3 .3-.2 .4-3.2 .3 2.1 .3-1.5 .4 2.8 .3-.2 .3-.2 .4-1.1 .3-.4 .3 1.6 .4 .3 .3-2.1 .3 2.1 .4 .2 .3-2.7 .3 1.1 .4 .6 .3 .3 .3-1.1 .4 1.9 .3-1.1 .3-.6 .3 .7 .4 2 .3-2.3 .3 1.8 .4 1.6 .3-.5 .3-2 .4 3.6 .3-2.7 .3 1.6 .4-1.1 .3 1 .3-3.2 .4 3 .3 .2 .3-.4 .4 .6 .3 1 .3 0 .4-1.5 .3 1.9 .3-1 .4 .3 .3-2.8 .3 1 .4 2 .3-1.8 .3 2.4 .3 .4 .4-2.1 .3 .9 .3 .4 .4 .6 .3-1 .3 .2 .4-1 .3 1.2 .3-1 .4 1.8 .3-.3 .3-2.2 .4 .6 .3 2.2 .3-1.9 .4 2.5 .3-.1 .3 1.1 .4-1.5 .3-.1 .3 1.2 .4-2.3 .3 1 .3 .3 .4-1.5 .3 0 .3 0 .4 3.2 .3-1.7 .3 1 .3-.7 .4 0 .3 1.6 .3-1.5 .4-.5 .3-.2 .3-.7 .4 0 .3 .3 .3 2.3 .4-1.8 .3 .3 .3 .3 .4 1.3 .3-.6 .3 0 .4 .7 .3-1.1 .3 1.2 .4 1.7 .3-2.1 .3-.1 .4-.5 .3 1.6 .3-.4 .4 .2 .3 1.6 .3-1.1 .4 .8 .3-1 .3 1.7 .4-.3 .3-.9 .3-.4 .3-.4 .4 .2 .3-1.3 .3 3.3 .4-.5 .3 .1 .3-1.3 .4 1.7 .3-.7 .3-.2 .4 1 .3 .1 .3-.3 .4 1.2 .3-.5 .3-.7 .4 1 .3-.3 .3 .6 .4-.1 .3 0 .3-1.2 .4 1.7 .3-1.4 .3 1.9 .4-1 .3-1 .3 1.1 .4-1.1 .3 2.5 .3-2.2 .4 2.7 .3-1.5 .3 1.4 .3-.9 .4-2 .3 1.5 .3-1.7 .4 2.5 .3-1.7 .3 1 .4 0 .3-1.3 .3 3.4 .4-2.5 .3 .4 .3 1.1 .4 1 .3-1.9 .3 1.2 .4 .3 .3 .8 .3-1.8 .4 2.9 .3-3.2 .3 .8 .4 1.3 .3-.8 .3 .3 .4 .7 .3-.6 .3 .3 .4 .9 .3-.5 .3 1.5 .4 .1 .3-1.1 .3 2 .3-2.5 .4 1.3 .3 .9 .3-1.6 .4 .7 .3-1.2 .3 .7 .4 .4 .3-.1 .3 .4 .4-.3 .3-.4 .3-.5 .4 .6 .3 .2 .3 0 .4-.9 .3 2.2 .3-.7 .4-.6 .3 1.7 .4-1.2 .3 .1 .4 1 .3-1.1 .3 .8 .4-.6 .3 .9 .4 .3 .3-.3 .4-.1 .3 .1 .4 .4 .3-1.7 .3-.2 .4 1.2 .3 .1 .4 1.4 .3-1 .4 .7 .3-1.1 .2-1.4 .3 0 .3 2.4 .2-.9 .2-.5 .3 1.7 .3 .5 .2-1.2 .2-.7 .3-.5 .3-.6 .2 2.8 .2-2.5 .3 1.2 .3 .6 .2 .6 .2-2.3 .3 1.7 .3-.5 .2 2.3 .2-1.5 .3-.4 .3 .9 .2 .6 .2-.3 .3-.4 .3 .9 .2-1.4 .2-.5 .3 .7 .3 1.4 .2-1 .2 1.5 .3-.3 .3-.4 .2 .9 .2-.7 .3-.5 .3 .2 .2 0 .2 1.1 .3 .5 .3-.4 .2-.8 .2-.4 .3 .4 .3-.8 .2 .6 .2-.3 .3 .3 .3 .1 .2 .7 .2-1.7 .3 2.7 .3-1.6 .2-.7 .2 1.8 .3-2.3 .3 3.5 .2-3.3 .2 1.5 .3 .5 .3-.7 .2-.5 .2-.2 .3 .4 .3 .9 .2-3 .2 2.8 .3-1.6 .3 .7 .2 .6 .2-.4 .3 1.3 .3-2.1 .2 2.1 .2-1.3 .3 .6 .3-.9 .2 1.8 .2 1.7 .3-2.6 .3-.1 .2 2.4 .2 .2 .3-3.5 .3 1.7 .2-.4 .2 1 .3-.2 .3-.8 .2 .6 .2-.5 .3 1.1 .3 .4 .2 1.1 .2-1.3 .3-.2 .3-1.1 .2 1.2 .2 1 .3-.8 .3 .7 .2-1.6 .2 1.2 .3-1.1 .3-.4 .2 1.7 .2-.6 .3-.8 .3-.2 .2 .9 .2-1.3 .3 1.4 .3-.9 .2-.9 .2 .3 .3-.9 .3-.1 .2 .5 .2 .1 .3-.4 .3 0 .2 1 .2-1.7 .3-1.2 .3 4.1 .2-1.6 .2 0 .3 1 .3-.1 .2 .2 .2-.5 .3-.2 .3-.9 .2-.1 .2-3.3 .3 5 .3-1.8 .2-.8 .2 2 .3-1.8 .3 1 .2-1.3 .2-.3 .3 2.1 .3-1.1 .2-1.7 .2 2.2 .3-1.3 .3 .8 .2 .3 .2-.3 .3-.7 .3-.2 .2 .5 .2-1.9 .3-1.1 .3-.9 .2 2.1 .2-5.8 .3-1.4 .3-3.7 .2-5.3 .2-6.8 .3-6.9 .3-4 .2 .9 .2 6 .3 7.8 .3 6.3 .2 3.5 .2 3.5 .3 2.6 .3 1.1 .2 2.9 .2-1 .3 1.6 .3-1.6 .2-.2 .2 4.1 .3-.8 .3-.2 .2 .9 .2-1.9 .3 0 .3 2.8 .2-1.3 .2-1.5 .3 1.5 .3-.8 .2-.3 .2-.6 .3 2.3 .3 .3 .2-.4 .2 .3 .3 .4 .3-.1 .2 .2 .2 1.6 .3-.8 .3 .5 .2-2.3 .2 2.8 .3-.8 .3 .8 .2-2.5 .2 2 .3-1.3 .3 .5 .2-.8 .2-.3 .3-.2 .3 .8 .2 1.1 .2-2.1 .3 .4 .3-.2 .2 1.4 .2-1 .3-.6 .3 1.6 .2-.3 .2-.1 .3-.2 .3-.7 .2 1.3 .2-1.4 .3 .8 .3-.1 .2 .9 .2-.4 .3-2.5 .3 1.7 .2 0 .2-.1 .3-2.2 .3 2.6 .2-1.5 .2-.2 .3 1.9 .3-2 .2 .8 .2-3.1 .3 1.8 .3-1.2 .2-2.2 .2-.1 .3-2.4 .3-1.1 .2-5.6 .2-6.5 .3-4.6 .3-9.4 .2-2.6 .2 4.4 .3 8.2 .3 6 .2 5.5 .2 3.2 .3 2.4 .3 2.2 .2 .1 .2 2.1 .3 1.6 .3-.4 .2 .1 .2 1.2 .3-1.3 .3 .8 .2 2.6 .2-1.3 .3 .1 .3-1.4 .2-.3 .2 1.1 .3 1.3 .3-1.3 .2 .9 .3-1.1 .2 .4 .3 .2 .2 2.5 .3-2.8 .2-1 .3 1.7 .2-.9 .3-.7 .2 1.5 .3-1.6 .2 1.1 .3-.8 .2-.4 .3 1.3 .2-.2 .3-2.3 .2 2.6 .3 0 .2-.6 .3 .1 .2-.1 .3-.6 .2 1.3 .3 .1" fill="none" stroke="#ff8a22" stroke-width="1.5" stroke-linejoin="round" /><path d="M201.9 480.9l.3 .1 .4 1 .3 1.1 .4 .3 .3 .4 .3 .9 .4 1 .3 .4 .4 .5 .3 .8 .3 .8 .4 .4 .3 .9 .4 .8 .3 .6 .3 .8 .4 0 .3 1.1 .3 .3 .4 .4 .3 .7 .3 .8 .4 .1 .3 .9 .3 .6 .4 .4 .3-.4 .3 1 .4 .1 .3 .9 .3 .2 .4 .5 .3 .5 .3 .2 .4 .6 .3 1 .3-.3 .4 .6 .3-.1 .3 .5 .4 .6 .3 .9 .3 .4 .4 .3 .3 .2 .4 .4 .3 .6 .3 1 .4 .2 .3 .9 .3 .6 .4 0 .3 .4 .3 .2 .4 0 .3-.5 .3 1.1 .4-.3 .3 .4 .3 .4 .4 .4 .3-.7 .3 .4 .4 .4 .3 .2 .3-.3 .4 .4 .3 .8 .3 0 .4 .5 .3 .7 .3 .1 .4 .2 .3 .1 .3 .4 .4 .1 .3 1.3 .3-1.1 .4 1.5 .3 .1 .3-.4 .4 .6 .3-.4 .3 0 .3 .7 .4 .1 .3-.2 .3 1 .4 .1 .3-.3 .3 1.2 .4 .2 .3 .6 .3 .9 .4-.2 .3 .8 .3 .7 .4 0 .3-.7 .3 1 .4-.3 .3 .7 .3 1.5 .4-1.8 .3 .9 .3 .6 .4-.1 .3 .6 .3 .2 .4-.9 .3-.2 .3 .9 .4-.2 .3-.6 .3-.1 .4 .2 .3 .2 .4 0 .3-.3 .3 1.3 .4-.4 .3-.6 .3 0 .4 .5 .3 .3 .3-.8 .4 1.9 .3-.3 .3-.2 .4 .5 .3 .6 .3-.1 .4 .8 .3 .5 .3-.2 .4 .6 .3 .4 .4 .9 .3 .3 .4 .9 .3 .7 .3-.9 .4 1 .3-.8 .3 0 .4-.2 .3-.9 .3 1 .4-1.1 .3 1.4 .3 .1 .4-.5 .3-.1 .3 .2 .4-.8 .3 .7 .3-1 .4 .1 .3-.5 .3 .5 .4 0 .3-1.1 .3 .7 .4 .4 .3-.2 .3-.3 .4 .2 .3 .4 .3-1.1 .4 1.2 .3 1.2 .3-.7 .4 1 .3-.3 .3 .2 .4-.5 .3-.4 .3 2.1 .3-1.1 .4 .1 .3 .8 .3-.3 .4-.7 .3 .7 .3 .2 .4 0 .3 .1 .3 .2 .4 .6 .3 0 .3 .7 .4 .5 .3-.3 .3 .9 .4-.3 .3-.8 .4 .5 .3 .7 .3-.4 .4 1 .3-1 .3 .1 .4 1.6 .3-1.1 .3 .7 .4 .5 .3-1.3 .3-.1 .4-.1 .3 0 .3-.5 .4 .5 .3-.6 .3 1.7 .4-1.7 .3 .8 .3 0 .4-1.9 .3 1.1 .3-.3 .4-.3 .3 .5 .3-.8 .4 .3 .3-.4 .4-1.1 .3 .7 .4-2 .3-1.4 .4 .7 .3-1.1 .4-1.7 .3-1 .3-.9 .4-.5 .3-1 .4 .1 .3 .3 .4 .9 .3 1.8 .4 .3 .3 1 .4 1.1 .4 1.8 .3 1.2 .4 1.4 .4 .6 .4 .9 .3 .8 .4-.4 .3 .3 .3-.7 .4 .6 .3 .2 .4 .5 .3-.6 .3 .7 .4-.9 .3 1.1 .4-.4 .3 .8 .3-.4 .4-.3 .3-.2 .3 .4 .4 .2 .3-.1 .3-1.4 .4 1.3 .3-.6 .4 .3 .3 0 .3-1.3 .4 .5 .3 .1 .3 0 .4-1.1 .3-.1 .3 .1 .4-1.5 .3 1.5 .3-1.7 .4 .9 .3-.8 .3 .6 .4-1.1 .3-1 .3 .7 .4-.1 .3 0 .3-1.1 .4 .1 .3-.2 .3 1.8 .4 .6 .3 2 .4 .5 .3 2 .4 .5 .3 .9 .3 .5 .4-.4 .3-.5 .4-.2 .3 .2 .4 .5 .3-.5 .3-.4 .4-.4 .3 .8 .4 0 .3 .3 .3-.8 .4-.4 .3 1 .4-.6 .3 .8 .4-.5 .3-.5 .5-8.5 .5 7.8 .3 .7 .4-.8 .3-.1 .3 0 .4 .6 .3 .3 .3-.5 .4-1.5 .3 .8 .3-.2 .4 .5 .3-1.3 .3-.1 .4 .8 .3 .7 .3 .5 .4-1.5 .3 .4 .5-11.4 .5 12.2 .4 1.3 .3-.9 .4 .4 .3 .6 .4 1 .3-.5 .4 .8 .3-.3 .3 1.2 .4-.4 .3 .4 .4-.7 .4 1.1 .3-.7 .4 .6 .3 .1 .3 .3 .4-.3 .3-.6 .4 .6 .3 .1 .4-.7 .3 .9 .4 .4 .4-39.4 .4 38.9 .3 .3 .4-.8 .3 .8 .4-.8 .3 .6 .4 .1 .3-.9 .3 1 .4-1.1 .3 .7 .4 0 .3-.1 .4 .7 .3-.5 .4 .5 .3-.5 .4-59.4 .4 61.8 .3-1.5 .4 .4 .3 .6 .3-.6 .4 1.4 .3-.3 .4 .1 .3 .2 .3-.2 .4-.1 .3-.2 .3 .9 .4 .2 .3-.5 .3-.9 .4 .6 .3 .1 .4-.6 .3 1.3 .3-1.1 .4 .2 .3 1.2 .3-1 .4 .2 .3 1.1 .4-1.1 .3 .5 .4 .5 .3 0 .4-1.2 .3 1.1 .4-32.6 .4 32.4 .3 1.2 .4-.2 .3-.4 .4 0 .3 .4 .3-.6 .4 .2 .3-.2 .4 .7 .3-1.1 .4-28.9 .4 30.9 .3 .6 .4-1 .3 1 .4-.9 .3 .5 .4-.1 .3-.3 .4-.3 .3 1.2 .3 0 .4-.8 .3 0 .4 0 .3-.6 .4 .1 .3 .8 .4-27 .4 26.4 .4 0 .3 .3 .4 .7 .3-.3 .4-.7 .3 .1 .4 .8 .3 .7 .4-.2 .3-.7 .3-.4 .4 .4 .3-.7 .4 .1 .4-16.5 .4 17.1 .3 .2 .4-.6 .3 .6 .3-.3 .4 .2 .3 0 .4 .3 .3-.9 .4-13.8 .4 14.6 .3 .2 .4-.3 .3-.7 .4 1 .3-.3 .4 .3 .3-1 .4 0 .3 0 .4-66.2 .4 67.4 .4-1 .3 .5 .4-.2 .4 .8 .3 .8 .4-.2 .3 0 .3 1.1 .4-.7 .3 1 .3-.1 .4 .5 .3-.5 .3 .5 .4 .3 .3 .4 .3 .1 .4 .8 .3-.4 .3 .3 .4 .4 .3 .3 .3-.3 .4 0 .3 .1 .4-.7 .3-1.6 .4-1.7 .3-1.3 .4-1.5 .3 1.7 .4 3 .3 2.5 .3-.4 .4-.6 .3-1 .4-.3 .3-1 .3 .3 .4-1.4 .3 0 .3-1 .4-.7 .3-.4 .3-.5 .4-.4 .3-1 .4-.3 .3-.6 .4 1.6 .3 .6 .4 1.7 .4 1.2 .4 1.6 .3 1 .4 1.5 .3-.5 .4-.5 .3-.5 .4-.2 .3-.8 .4 .1 .3-1.1 .3-.4 .4-.3 .3-.6 .4-.5 .3 .4 .4-1 .3-.7 .4-.5 .3-.6 .3-.8 .4 .3 .3-.8 .4-.1 .3-.7 .4-1.1 .3 .7 .3 1.3 .4 1.8 .3 1.4 .4 1.9 .3 2.3 .4 .9 .4-.3 .3 .1 .4-1.2 .3 .7 .4-1.2 .3 .3 .3-.9 .4-.7 .3 .4 .4-.9 .3-.7 .4 .2 .3-.7 .4-.2 .3 .4 .4 .9 .3 .5 .4 .2 .3 1.3 .4 1 .3 .4 .4 .8 .3 .6 .3-1.1 .4-.5 .3-1.2 .4-1.2 .3-.2 .3-1 .4-1 .3-1.2 .4-1.3 .3-.2 .3-1.1 .4-1.1 .3-.8 .4-.9 .3-.5 .4-.6 .4-.6 .3-.9 .4-.9 .4-.7 .4-.3 .4 1.4 .3 .4 .3 .7 .4 .8 .3 .6 .4 .9 .3 1.3 .4 1.2 .3 1.2 .4 1.5 .3 1.8 .4 .5 .3 1.7 .4 1.4 .3 1.1 .4 1.7 .3 .9 .4 .5 .3 .5 .4-.3 .3 1.1 .4 .8 .3-.9 .4-.4 .3 .7 .3 1.4 .4-2.6 .3 2.8 .4-.7 .3-.6 .3 2.3 .4-3 .3-1.1 .3 1.8 .4-.7 .3-1.5 .3 .5 .4 4 .3-3.3 .3 3.3 .4-.5 .3-3.2 .3 2.5 .4 1 .3 .2 .3-.1 .4-1.4 .3-.3 .4 .4 .3 1.1 .4-1.3 .3 .1 .4 4 .3-1.1 .4-1.1 .3-.4 .4 .8 .3-.1 .4 .5 .3-.7 .4 2.7 .3-.3 .4 .5 .3-1.7 .3 2.9 .4-1.2 .3-.6 .3 .3 .4-1.5 .3 1.1 .3-1.8 .4 1.9 .3-.1 .3-.1 .4-.8 .3 .2 .3 .5 .4-1.2 .3 1.3 .4 .1 .3-2.2 .3-.4 .4 2.2 .3-.7 .3-1 .4 0 .3-.7 .3 1.3 .4-1.5 .3-.3 .3 1.5 .4 1.7 .3-.4 .3-1.6 .4 .6 .3-.5 .3-.6 .4 .9 .3-1.1 .3 .4 .4 .7 .3 .2 .3 2.3 .4-3.1 .3-.3 .3 1.9 .4 .2 .3-.8 .3-1.4 .4 1.4 .3-.9 .3 1.4 .4 2.1 .3-2.2 .4 .5 .3 1 .3-.4 .4-1.4 .3-.6 .3 0 .4-.9 .3 1.8 .3-1.1 .4-.8 .3 1 .3-2.2 .4 3 .3-2.2 .3 1.3 .4-1.9 .3-1.2 .3 .6 .4 2 .3-.8 .3-1.2 .4 1.4 .3-1 .4-.7 .3-1.1 .4 1.7 .5-.2 .4-2.6 .3-.5 .4-4.6 .5-7.3 .3-7 .3 4.9 .5 7.7 .4 7.6 .3 2.5 .4 .8 .4-.4 .4 3.4 .4-1.4 .3 2.3 .4 .7 .3-1.6 .4 1.8 .3-.5 .3 .5 .4 .8 .3-2.1 .4-.1 .3-1.4 .3 3.9 .4-.3 .3-1.1 .3 .8 .4-1.2 .3 0 .3-.9 .4 .6 .3-1.8 .3 2.2 .4-3 .3 1.3 .3 .7 .4-.2 .3-.9 .4 1.2 .3-2.9 .3 2.2 .4 .7 .3-.6 .3 1.8 .4-1.2 .3-1 .3 2.3 .4-.1 .3-2.4 .4 3.3 .3-2.7 .3 .1 .4 2.2 .3 1.1 .3-1.2 .4-1.5 .3-.2 .3 1.3 .4 .2 .3-1.9 .3 2 .4-3.8 .3 3.4 .4-1.6 .3-.5 .3 4.7 .4-3.3 .3-.9 .3 3.5 .4-1.7 .3-1 .3-2.1 .4 4.7 .3-.2 .4-.3 .3-2.1 .3 3 .4-2.1 .3 1.3 .3-4.8 .4 2.9 .3 1.1 .3-1.3 .4 2.5 .3-1.5 .4 .2 .3-.4 .3-1.9 .4 .1 .3 3.1 .3-1.8 .4-2.4 .3 3.4 .3 0 .4-.6 .3 1.3 .4-1.7 .3 .8 .3-.5 .4 1.8 .3 .4 .3 1.2 .4-.6 .3 .8 .3-.6 .4-.3 .3-1.1 .3 .4 .4-.9 .3 2.6 .3-1.7 .3 1.7 .4-.8 .3-1.8 .3 4.4 .4-2.4 .3-3 .3 1.5 .4-2 .3 1.5 .3-1 .4 1.8 .3-3.2 .3 2.3 .4 1.3 .3-1.5 .3 2.3 .3 .1 .4-4.5 .3 .9 .3 2.9 .4-2.8 .3-2.2 .3 2 .4 .5 .3 .2 .3 0 .4 .3 .3-1.2 .3 .4 .4 .1 .3 .2 .3 1.6 .4-.8 .3 .5 .3-1.9 .3-1.3 .4 2.1 .3 1.4 .3-1.3 .4-2.1 .3 2.6 .3-1.7 .4-1.2 .3 2.7 .3-.4 .4 1.6 .3-3.5 .3-.3 .4 2.1 .3 .1 .3 .8 .3-2.7 .4 2.4 .3-2.4 .3-.3 .4 3.7 .3 .7 .3-2.5 .4 1.2 .3 .5 .4-16.1 .4 15.7 .3-1.8 .4-.5 .3 1.9 .3 2.5 .4-3.9 .3-.2 .3 3.2 .4-3.5 .3 3.5 .3-1.8 .4 0 .3-4 .3 4.7 .3-2.2 .4 1.7 .3-.7 .3 1.7 .4-1.4 .3 1.4 .3-1.1 .4-.7 .3-1.6 .3-1.2 .4 1.6 .3-.9 .3 .6 .4-.1 .3-.3 .3 1.1 .4-1.6 .3 .3 .3 1.4 .4-1 .3 .1 .3-.6 .4-1.3 .3 2.3 .3-1.1 .4 1.3 .3-.4 .3 1.6 .3-2.4 .4 2.7 .3-1.2 .3 3.2 .4-5 .3 .2 .3 1.4 .4 .6 .3-1.6 .3 .6 .4-2.2 .3 2.5 .3 .8 .4-.7 .3-.7 .3-1.1 .4 2.2 .3 .9 .3-4 .4 2.7 .3-.8 .3-4.2 .4 3.2 .3 .9 .3-3.2 .4-.1 .3 1.8 .4-.8 .3 .7 .3 1.4 .4-1.7 .3-3.1 .3-1.6 .4 2.8 .3-2.5 .3 4.4 .4 .5 .3-.6 .3-3 .4 1.1 .3-1.4 .3 .9 .4 2.9 .3-1 .3-2.4 .4 3.8 .3-1.8 .3 .9 .4-1.2 .3 1.7 .3-.3 .4 .3 .3-1.1 .3-.5 .4-1.5 .3-2 .4 4.7 .3-.9 .3-2.5 .4 2.7 .3-1 .3-.2 .4 1.2 .3-3.4 .3 2.1 .4 1.2 .3 .2 .3-.9 .4-1.3 .3 1 .3-3.3 .4 4.3 .3-2.7 .3-.5 .4 1 .3-1.7 .3-.5 .4-.2 .3 3.6 .3-2.9 .4 .7 .3-.4 .3 .5 .4-1.5 .3-1 .3-.6 .4 .7 .3-.3 .3 2.4 .4-5.6 .3 5 .3 .3 .4 0 .3-3.5 .4 2.8 .3-1 .3-.6 .4-1.8 .3 .7 .3-1.5 .4 3.9 .3-1 .3-2.2 .4 .7 .3-3.1 .3 3.6 .4-1.9 .3 1.5 .3-1.2 .4-.7 .3 .9 .3 1.9 .4-3.3 .3 .2 .3 .3 .4 1.8 .3-.5 .3-.5 .4-.4 .3 1.1 .3-.2 .4-.1 .3-3.7 .3 .3 .4 1.9 .3-1.8 .4 .5 .3 1.7 .3-1.4 .4-.8 .3 1.6 .3-1.2 .4 1.7 .3-.5 .3-.9 .4 1.8 .3-2.8 .4 1.2 .3-.9 .3 .4 .4-.8 .3 1.8 .3-1.4 .4-1.7 .3-.4 .4 1.4 .3 2.1 .3-1.1 .4 1.2 .3-3.7 .3 1.5 .4 2.3 .3-3.5 .3 2.7 .4-1.1 .3 1.4 .4-2.5 .3 2 .3 1.8 .4-4.9 .3 2 .3-1.5 .4 1.8 .3 .1 .4-1.6 .3-.8 .3 2.1 .4 1.3 .3-1.1 .3 1.6 .4-.9 .3 1.8 .3-.5 .4-3.2 .3 1.6 .4 1.2 .3 0 .3 1.9 .4-3.5 .3 .4 .3-.2 .4 2.8 .3 1.8 .4-4.3 .3 4.6 .3-5.1 .4 2.2 .3 .4 .4-1.3 .3-.5 .3 1.5 .4 1.9 .3-1.6 .3 1 .4 .2 .3 1.5 .3-3.5 .4 4.4 .3-4.1 .4 3.4 .3-4 .2 1.4 .3 .8 .3 .3 .2-2.6 .2 1.6 .3-1.3 .3 3.6 .2-2.7 .2 .5 .3 1.3 .3-4.5 .2 3.4 .2-2.1 .3 .6 .3 1.7 .2 .5 .2-2.6 .3 .4 .3 3.3 .2-2.7 .2 1.1 .3 0 .3-1.7 .2-.1 .2 1.3 .3-5.1 .3 2.7 .2 1.7 .2 .2 .3 .2 .3-1.4 .2-.4 .2-.7 .3 2.4 .3-.2 .2 .2 .2-.6 .3-.9 .3 2.8 .2-.4 .2-.1 .3-.2 .3 .8 .2-1.4 .2-1.5 .3 1.3 .3-.2 .2 .4 .2 .2 .3-.5 .3 0 .2-.2 .2-1 .3 .7 .3 .6 .2 3.3 .2-2.6 .3-.7 .3 2.3 .2 .1 .2-1 .3 2 .3-2.7 .2 0 .2 1.1 .3 .3 .3 .4 .2 1.3 .2-1.1 .3 .5 .3-.9 .2-1 .2 1.4 .3-1.3 .3 2.4 .2-1.3 .2-1 .3 1.5 .3-.5 .2-.7 .2 1.2 .3-.2 .3 .2 .2-3.1 .2 3 .3 4.3 .3-.6 .2-.6 .2-1.7 .3 1.9 .3-.5 .2-.6 .2 .1 .3-2.4 .3 4 .2 0 .2-.8 .3 .2 .3-1.5 .2 1.1 .2-.7 .3-.4 .3 2 .2 2.8 .2-.5 .3-2.3 .3 3 .2-4 .2 .3 .3 1.7 .3 2.2 .2-.4 .2-4.9 .3 .2 .3 1.1 .2 3.4 .2-2.8 .3 .4 .3 2.7 .2-2.9 .3-1.1 .2 1.9 .3 3 .2-3.1 .3 2.1 .2 1.1 .3 .2 .2-.2 .3 .3 .3 .5 .2-.5 .3-.7 .2 3.6 .3-4.2 .2 .7 .3 .7 .2 2 .3-3.8 .3 .3 .2 2.7 .3-.4 .2 0 .3-.3 .2 1 .3-1.3 .2 2.1 .3-1.8 .2-1.8 .3 2.7 .3-2.1 .2-1.2 .3 2.7 .2-.9 .3 .8 .2 .3 .3-4.8 .2 1.7 .3-3 .3-1 .2-1.6 .3-3.8 .2-5.8 .3-6.9 .2-15.1 .3-6.4 .2-8.5 .3 1.9 .2 10.3 .3 14.7 .2 7.2 .3 8.3 .2 3.2 .3 1.8 .2 5.7 .3 2.1 .2-1.7 .3 4.6 .2 .6 .3-.9 .2 .2 .3 2 .3 1 .2-.3 .2 .8 .3 1 .3 .1 .2 .6 .2-.6 .3-2.1 .3 3.2 .2 1.1 .2-.7 .3-2.1 .3 2.4 .2 1.1 .2 .9 .3-2.7 .3 .3 .2-.5 .2 1.6 .3-1.1 .3 2.9 .2-3.3 .2 1.4 .3-.7 .3-2.2 .2 1 .2-1 .3-1.4 .3 2.8 .2-1.7 .2 .9 .3 .6 .3-2 .2 2 .2-1.8 .3 .9 .3-1.9 .2-1.6 .2 1.9 .3-.2 .3 4.6 .2-4.2 .2 .7 .3-1.5 .3 2.4 .2-.7 .2-.9 .3-.1 .3-3.7 .2 1.8 .2 3.5 .3 .5 .3-4.2 .2 1.2 .2-.5 .3 2.8 .3-4.8 .2 1.1 .2 .1 .3-1.3 .3-.9 .2 .7 .2-.9 .3-2.6 .3 .5 .2-2.7 .2 .5 .3-6.4 .3-4.1 .2-3.4 .2-10.3 .3-11.8 .3-9.7 .2-7.4 .2 3.3 .3 14.2 .3 12.8 .2 7.7 .2 6.4 .3 4.3 .3 4.7 .2-.9 .2-1.9 .3 6.4 .3 1.8 .2-.2 .2-1.3 .3 2.7 .3 1.2 .2-1.3 .2-1.8 .3 1 .3-1.7 .2 3.6 .2-3.7 .3 4.7 .3-3.9 .2 2.1 .2-.9 .3-3.7 .3 3.6 .2-2.2 .2 .3 .3 .7 .3-2.9 .2 1.7 .3 1.4 .2-.2 .3-1.2 .2-5.2 .3 4.3 .2-2.5 .3-1.7 .2 2.8 .3 .6 .2-2.1 .3-.8 .2-1.6 .3 .5 .2 1.3 .3-1.2 .2-1.4 .3-.6" fill="none" stroke="#33a333" stroke-width="1.5" stroke-linejoin="round" /><path d="M204.7 553.6l3.1 .2 3 .1 3.1 .2 3.1 .1 3.1 .2 3 .1 3.1 .2 3.1 .2 3.1 .1 3 .2 3.1 .1 3.1 .2 3.1 .2 3 .1 3.1 .2 3.1 .1 3.1 .2 3 .1 3.1 .2 3.1 .2 3.1 .1 3 .2 3.1 .1 3.1 .2 3.1 .2 3 .1 3.1 .2 3.1 .1 3.1 .2 3 .1 3.1 .2 3 .2 3 .1 3 .2 3 .2 3 .1 3 .2 3 .2 3 .1 3 .2 3 .1 3 .2 3 .2 3 .1 3 .2 3 .2 3 .1 3 .2 3 .2 3 .1 3 .2 3.3 .2 3.4 .3 3.3 .2 3.4 .3 3.3 .2 3.3 .2 3.4 .3 3.3 .2 3.2 .5 3.2 .6 3.2 .5 3.2 .5 3.2 .5 3.1 .6 3.2 .5 3.2 .5 3.2 .5 3.2 .6 3.2 .5 3.2 .5 3.2 .6 3.1 .5 3.2 .5 3.2 .5 3.2 .6 3.2 .5 3.2 .5 3.1 .5 3.2 .6 3.2 .5 3.1 .7 3.1 .6 3.1 .7 3.1 .6 3.2 .7 3.1 .6 3.1 .7 3.1 .6 3.1 .7 5.2 1.3" fill="none" stroke="#000" stroke-width="1.6" stroke-linejoin="round" stroke-dasharray="4.6,2.4"/><line x1="619.8" y1="572.6" x2="675.9" y2="572.6" stroke="#1f961f" stroke-width="1.5" stroke-dasharray="4.5,2.4"/><line x1="434.6" y1="524.3" x2="434.6" y2="582.5" stroke="#1f961f" stroke-width="1.5" stroke-dasharray="4.5,2.4"/><line x1="428.1" y1="533.3" x2="441.1" y2="533.3" stroke="#000" stroke-width="1" /><polygon points="424.6,533.3 428.1,531.3 428.1,535.3" fill="#000"/><polygon points="444.6,533.3 441.1,531.3 441.1,535.3" fill="#000"/><text x="421" y="529.5" font-size="9.7" text-anchor="start" font-weight="normal" textLength="34.0" lengthAdjust="spacingAndGlyphs">BN OFD</text><text x="292.6" y="479.3" font-size="10.65" text-anchor="start" font-weight="normal" >ILW 181 Hz</text><line x1="340.2" y1="483.5" x2="361.7" y2="519.9" stroke="#000" stroke-width="1.1" /><polygon points="364.5,524.6 359.5,521.2 363.9,518.5" fill="#000"/><text x="642" y="504" font-size="10.65" text-anchor="middle" font-weight="normal" >FLW 1.0 Hz</text><line x1="646.2" y1="506.5" x2="651.2" y2="558.7" stroke="#000" stroke-width="1.1" /><polygon points="651.7,564.2 648.6,559 653.8,558.5" fill="#000"/><rect x="206.5" y="431.2" width="134.8" height="30.4" rx="2" fill="#fff" fill-opacity="0.85" stroke="#d0d0d0" stroke-width="1"/><line x1="210.1" y1="438.2" x2="231.3" y2="438.2" stroke="#3a88c4" stroke-width="1.8" /><text x="238.7" y="441.9" font-size="10.6" text-anchor="start" font-weight="normal" >Pump</text><line x1="210.1" y1="452.7" x2="231.3" y2="452.7" stroke="#ff9437" stroke-width="1.8" /><text x="238.7" y="456.4" font-size="10.6" text-anchor="start" font-weight="normal" >S1</text><line x1="268.9" y1="438.2" x2="290" y2="438.2" stroke="#4db24d" stroke-width="1.8" /><text x="296.9" y="441.9" font-size="10.6" text-anchor="start" font-weight="normal" >S1 + Coil</text><line x1="269.8" y1="452.7" x2="289.5" y2="452.7" stroke="#000" stroke-width="1.7" stroke-dasharray="4.6,2.2"/><text x="296.9" y="456.4" font-size="10.6" text-anchor="start" font-weight="normal" >Coil TRN</text><rect x="516.6" y="427.8" width="159.3" height="63.8" rx="2.5" fill="#fff" fill-opacity="0.85" stroke="#a8a8a8" stroke-width="1"/><text x="627" y="437.1" font-size="10.5" text-anchor="end" font-weight="normal" >FLW</text><text x="671" y="437.1" font-size="10.5" text-anchor="end" font-weight="normal" >ILW</text><line x1="519.1" y1="440" x2="672.5" y2="440" stroke="#333" stroke-width="1.0" /><line x1="522.5" y1="448.6" x2="543.2" y2="448.6" stroke="#3a88c4" stroke-width="1.5" /><text x="546.5" y="451.5" font-size="10.5" text-anchor="start" font-weight="normal" >Pump</text><text x="627" y="451.5" font-size="10.5" text-anchor="end" font-weight="normal" >96 Hz</text><text x="671" y="451.5" font-size="10.5" text-anchor="end" font-weight="normal" xml:space="preserve">2 kHz</text><line x1="522.5" y1="461.1" x2="543.2" y2="461.1" stroke="#ff9437" stroke-width="1.5" /><text x="546.5" y="464" font-size="10.5" text-anchor="start" font-weight="normal" >SBS</text><text x="627" y="464" font-size="10.5" text-anchor="end" font-weight="normal" >1.0 Hz</text><text x="671" y="464" font-size="10.5" text-anchor="end" font-weight="normal" xml:space="preserve">1.4 kHz</text><line x1="522.5" y1="473.1" x2="543.2" y2="473.1" stroke="#4db24d" stroke-width="1.5" /><text x="546.5" y="476" font-size="10.5" text-anchor="start" font-weight="normal" >SBS+Coil</text><text x="627" y="476" font-size="10.5" text-anchor="end" font-weight="normal" >1.0 Hz</text><text x="671" y="476" font-size="10.5" text-anchor="end" font-weight="normal" xml:space="preserve">181 Hz</text><line x1="522.5" y1="485.5" x2="543.2" y2="485.5" stroke="#000" stroke-width="1.5" stroke-dasharray="3.4,1.9"/><text x="546.5" y="488.4" font-size="10.5" text-anchor="start" font-weight="normal" >TRN limit</text><text x="671" y="488.4" font-size="10.5" text-anchor="end" font-weight="normal" xml:space="preserve">6  Hz</text><line x1="223.9" y1="582.5" x2="223.9" y2="579.9" stroke="#262626" stroke-width="0.8" /><line x1="236.8" y1="582.5" x2="236.8" y2="579.9" stroke="#262626" stroke-width="0.8" /><line x1="245.9" y1="582.5" x2="245.9" y2="579.9" stroke="#262626" stroke-width="0.8" /><line x1="253" y1="582.5" x2="253" y2="579.9" stroke="#262626" stroke-width="0.8" /><line x1="258.8" y1="582.5" x2="258.8" y2="579.9" stroke="#262626" stroke-width="0.8" /><line x1="263.7" y1="582.5" x2="263.7" y2="579.9" stroke="#262626" stroke-width="0.8" /><line x1="268" y1="582.5" x2="268" y2="579.9" stroke="#262626" stroke-width="0.8" /><line x1="271.7" y1="582.5" x2="271.7" y2="579.9" stroke="#262626" stroke-width="0.8" /><line x1="297.2" y1="582.5" x2="297.2" y2="579.9" stroke="#262626" stroke-width="0.8" /><line x1="310.1" y1="582.5" x2="310.1" y2="579.9" stroke="#262626" stroke-width="0.8" /><line x1="319.2" y1="582.5" x2="319.2" y2="579.9" stroke="#262626" stroke-width="0.8" /><line x1="326.3" y1="582.5" x2="326.3" y2="579.9" stroke="#262626" stroke-width="0.8" /><line x1="332.1" y1="582.5" x2="332.1" y2="579.9" stroke="#262626" stroke-width="0.8" /><line x1="337" y1="582.5" x2="337" y2="579.9" stroke="#262626" stroke-width="0.8" /><line x1="341.3" y1="582.5" x2="341.3" y2="579.9" stroke="#262626" stroke-width="0.8" /><line x1="345" y1="582.5" x2="345" y2="579.9" stroke="#262626" stroke-width="0.8" /><line x1="370.5" y1="582.5" x2="370.5" y2="579.9" stroke="#262626" stroke-width="0.8" /><line x1="383.4" y1="582.5" x2="383.4" y2="579.9" stroke="#262626" stroke-width="0.8" /><line x1="392.5" y1="582.5" x2="392.5" y2="579.9" stroke="#262626" stroke-width="0.8" /><line x1="399.6" y1="582.5" x2="399.6" y2="579.9" stroke="#262626" stroke-width="0.8" /><line x1="405.4" y1="582.5" x2="405.4" y2="579.9" stroke="#262626" stroke-width="0.8" /><line x1="410.3" y1="582.5" x2="410.3" y2="579.9" stroke="#262626" stroke-width="0.8" /><line x1="414.6" y1="582.5" x2="414.6" y2="579.9" stroke="#262626" stroke-width="0.8" /><line x1="418.3" y1="582.5" x2="418.3" y2="579.9" stroke="#262626" stroke-width="0.8" /><line x1="443.8" y1="582.5" x2="443.8" y2="579.9" stroke="#262626" stroke-width="0.8" /><line x1="456.7" y1="582.5" x2="456.7" y2="579.9" stroke="#262626" stroke-width="0.8" /><line x1="465.8" y1="582.5" x2="465.8" y2="579.9" stroke="#262626" stroke-width="0.8" /><line x1="472.9" y1="582.5" x2="472.9" y2="579.9" stroke="#262626" stroke-width="0.8" /><line x1="478.7" y1="582.5" x2="478.7" y2="579.9" stroke="#262626" stroke-width="0.8" /><line x1="483.6" y1="582.5" x2="483.6" y2="579.9" stroke="#262626" stroke-width="0.8" /><line x1="487.9" y1="582.5" x2="487.9" y2="579.9" stroke="#262626" stroke-width="0.8" /><line x1="491.6" y1="582.5" x2="491.6" y2="579.9" stroke="#262626" stroke-width="0.8" /><line x1="517.1" y1="582.5" x2="517.1" y2="579.9" stroke="#262626" stroke-width="0.8" /><line x1="530" y1="582.5" x2="530" y2="579.9" stroke="#262626" stroke-width="0.8" /><line x1="539.1" y1="582.5" x2="539.1" y2="579.9" stroke="#262626" stroke-width="0.8" /><line x1="546.2" y1="582.5" x2="546.2" y2="579.9" stroke="#262626" stroke-width="0.8" /><line x1="552" y1="582.5" x2="552" y2="579.9" stroke="#262626" stroke-width="0.8" /><line x1="556.9" y1="582.5" x2="556.9" y2="579.9" stroke="#262626" stroke-width="0.8" /><line x1="561.2" y1="582.5" x2="561.2" y2="579.9" stroke="#262626" stroke-width="0.8" /><line x1="564.9" y1="582.5" x2="564.9" y2="579.9" stroke="#262626" stroke-width="0.8" /><line x1="590.4" y1="582.5" x2="590.4" y2="579.9" stroke="#262626" stroke-width="0.8" /><line x1="603.3" y1="582.5" x2="603.3" y2="579.9" stroke="#262626" stroke-width="0.8" /><line x1="612.4" y1="582.5" x2="612.4" y2="579.9" stroke="#262626" stroke-width="0.8" /><line x1="619.5" y1="582.5" x2="619.5" y2="579.9" stroke="#262626" stroke-width="0.8" /><line x1="625.3" y1="582.5" x2="625.3" y2="579.9" stroke="#262626" stroke-width="0.8" /><line x1="630.2" y1="582.5" x2="630.2" y2="579.9" stroke="#262626" stroke-width="0.8" /><line x1="634.5" y1="582.5" x2="634.5" y2="579.9" stroke="#262626" stroke-width="0.8" /><line x1="638.2" y1="582.5" x2="638.2" y2="579.9" stroke="#262626" stroke-width="0.8" /><line x1="663.7" y1="582.5" x2="663.7" y2="579.9" stroke="#262626" stroke-width="0.8" /><line x1="201.8" y1="582.5" x2="201.8" y2="578" stroke="#262626" stroke-width="1" /><line x1="275.1" y1="582.5" x2="275.1" y2="578" stroke="#262626" stroke-width="1" /><line x1="348.4" y1="582.5" x2="348.4" y2="578" stroke="#262626" stroke-width="1" /><line x1="421.7" y1="582.5" x2="421.7" y2="578" stroke="#262626" stroke-width="1" /><line x1="495" y1="582.5" x2="495" y2="578" stroke="#262626" stroke-width="1" /><line x1="568.3" y1="582.5" x2="568.3" y2="578" stroke="#262626" stroke-width="1" /><line x1="641.6" y1="582.5" x2="641.6" y2="578" stroke="#262626" stroke-width="1" /><line x1="201.8" y1="582.5" x2="206.3" y2="582.5" stroke="#262626" stroke-width="1" /><line x1="201.8" y1="543.4" x2="206.3" y2="543.4" stroke="#262626" stroke-width="1" /><line x1="201.8" y1="504.3" x2="206.3" y2="504.3" stroke="#262626" stroke-width="1" /><line x1="201.8" y1="465.2" x2="206.3" y2="465.2" stroke="#262626" stroke-width="1" /><line x1="201.8" y1="426.1" x2="206.3" y2="426.1" stroke="#262626" stroke-width="1" /><rect x="201.8" y="426.1" width="474.5" height="156.4" fill="none" stroke="#262626" stroke-width="1"/><text x="202.1" y="597.9" font-size="10.3" text-anchor="middle">10<tspan font-size="7.83" dy="-5.3">0</tspan></text><text x="275.4" y="597.9" font-size="10.3" text-anchor="middle">10<tspan font-size="7.83" dy="-5.3">1</tspan></text><text x="348.7" y="597.9" font-size="10.3" text-anchor="middle">10<tspan font-size="7.83" dy="-5.3">2</tspan></text><text x="422" y="597.9" font-size="10.3" text-anchor="middle">10<tspan font-size="7.83" dy="-5.3">3</tspan></text><text x="495.3" y="597.9" font-size="10.3" text-anchor="middle">10<tspan font-size="7.83" dy="-5.3">4</tspan></text><text x="568.6" y="597.9" font-size="10.3" text-anchor="middle">10<tspan font-size="7.83" dy="-5.3">5</tspan></text><text x="641.9" y="597.9" font-size="10.3" text-anchor="middle">10<tspan font-size="7.83" dy="-5.3">6</tspan></text><text x="196.8" y="588.5" font-size="10.3" text-anchor="end">10<tspan font-size="7.83" dy="-5.3">−1</tspan></text><text x="196.8" y="549.4" font-size="10.3" text-anchor="end">10<tspan font-size="7.83" dy="-5.3">1</tspan></text><text x="196.8" y="510.3" font-size="10.3" text-anchor="end">10<tspan font-size="7.83" dy="-5.3">3</tspan></text><text x="196.8" y="471.2" font-size="10.3" text-anchor="end">10<tspan font-size="7.83" dy="-5.3">5</tspan></text><text x="196.8" y="432.1" font-size="10.3" text-anchor="end">10<tspan font-size="7.83" dy="-5.3">7</tspan></text><text x="388.9" y="614.8" font-size="10.4" text-anchor="start" font-weight="normal" textLength="99.8" lengthAdjust="spacingAndGlyphs">Offset frequency (Hz)</text><text transform="translate(173.3,504.3) rotate(-90)" font-size="10.55" text-anchor="middle">Frequency noise (Hz<tspan font-size="7.6" dy="-4.2">2</tspan><tspan dy="4.2">/Hz)</tspan></text><line x1="170.2" y1="642.4" x2="170.2" y2="799.4" stroke="#c8c8c8" stroke-width="0.9" /><line x1="296.7" y1="642.4" x2="296.7" y2="799.4" stroke="#c8c8c8" stroke-width="0.9" /><line x1="423.3" y1="642.4" x2="423.3" y2="799.4" stroke="#c8c8c8" stroke-width="0.9" /><line x1="549.8" y1="642.4" x2="549.8" y2="799.4" stroke="#c8c8c8" stroke-width="0.9" /><line x1="43.6" y1="783.4" x2="676.4" y2="783.4" stroke="#c8c8c8" stroke-width="0.9" /><line x1="43.6" y1="729.4" x2="676.4" y2="729.4" stroke="#c8c8c8" stroke-width="0.9" /><line x1="43.6" y1="675.4" x2="676.4" y2="675.4" stroke="#c8c8c8" stroke-width="0.9" /><line x1="43.6" y1="739.4" x2="676.4" y2="739.4" stroke="#7b68ee" stroke-width="1.4" stroke-dasharray="4.7,2.1"/><line x1="43.6" y1="741.3" x2="676.4" y2="741.3" stroke="#20b2aa" stroke-width="1.4" stroke-dasharray="4.7,2.1"/><line x1="43.6" y1="760.8" x2="676.4" y2="760.8" stroke="#d2691e" stroke-width="1.4" stroke-dasharray="4.7,2.1"/><path d="M43.7 648.8l1-.1 1.2-.1 1.5-.2 1.6-.2 1.8-.2 1.9-.1 1.9-.1 1.9 0 1.9 .1 1.4 .2 1.5 .1 1.5 .3 1.6 .2 1.6 .3 1.6 .4 1.6 .3 1.6 .4 1.5 .4 1.6 .5 1.5 .4 1.4 .5 1.7 .6 1.6 .6 1.6 .7 1.6 .7 1.5 .8 1.5 .8 1.5 .8 1.5 .8 1.4 .9 1.4 .9 1.7 1.2 1.6 1.3 1.5 1.3 1.5 1.4 1.5 1.5 1.5 1.4 1.5 1.4 1.5 1.3 1.5 1.3 1.6 1.4 1.5 1.4 1.5 1.4 1.5 1.3 1.5 1.2 1.6 1.1 1.5 1 1.5 .9 1.5 .7 1.5 .7 1.5 .6 1.6 .5 1.5 .4 1.6 .3 1.6 .2 1.5 .1 1.6-.1 1.6-.2 1.7-.3 1.6-.3 1.6-.3 1.5-.2 1.4-.1 1.3 .1 1.9 .4 1.5 .8 1.3 .9 1.4 1 1.6 1.2 1.4 1 1.4 1.1 1.6 1.3 1.6 1.3 1.6 1.2 1.5 1 1.6 .8 1.5 .5 1.5 .3 1.5 .1 1.5 0 1.5 .1 1.6 .1 1.6 .4 1.4 .5 1.4 .6 1.4 .6 1.5 .7 1.5 .8 1.6 .7 1.7 .8 1.8 .8 1.3 .5 1.4 .5 1.4 .6 1.5 .5 1.5 .6 1.5 .5 1.6 .6 1.6 .6 1.6 .6 1.7 .6 1.6 .6 1.7 .6 1.4 .5 1.5 .6 1.5 .6 1.5 .6 1.5 .6 1.6 .6 1.5 .6 1.6 .6 1.6 .6 1.5 .6 1.6 .5 1.5 .6 1.6 .5 1.5 .5 1.5 .4 1.4 .5 1.4 .3 1.4 .4 1.4 .3 1.4 .3 1.4 .3 1.4 .4 1.5 .3 1.5 .3 1.6 .4 1.6 .4 1.8 .4 1.8 .5 1.3 .4 1.3 .3 1.4 .4 1.4 .4 1.5 .5 1.5 .4 1.5 .4 1.5 .5 1.6 .5 1.6 .4 1.6 .5 1.6 .5 1.6 .4 1.6 .5 1.6 .5 1.6 .4 1.6 .4 1.6 .5 1.6 .4 1.6 .3 1.5 .4 1.5 .3 1.6 .4 1.5 .3 1.6 .3 1.6 .4 1.6 .3 1.5 .3 1.6 .3 1.6 .3 1.6 .2 1.5 .3 1.6 .3 1.5 .2 1.6 .3 1.5 .2 1.5 .2 1.5 .3 1.5 .2 1.4 .2 1.4 .2 1.4 .2 1.5 .2 1.3 .2 1.1 .2 .9 .2 .8 .2 .7 .2 .8 .1 .8 .1 .8 .2 1.1 .1 1.2 .1 1.5 .1 1.8 .1 2.2 .1 2.6 .1 3 0 3.6 .1 1 0 1 0 1 0 1.1 .1 1.2 0 1.1 0 1.3 0 1.2 0 1.3 0 1.4 0 1.4 0 1.4 .1 1.4 0 1.5 0 1.5 0 1.5 0 1.6 0 1.6 0 1.6 0 1.6 0 1.7 0 1.6 0 1.7 0 1.7 0 1.8 0 1.7 0 1.7 0 1.8 0 1.8 0 1.8 0 1.7 0 1.8 0 1.8 0 1.8 0 1.8 0 1.8 0 1.8 0 1.8 0 1.8 0 1.7 0 1.8 0 1.8 0 1.7 0 1.8 0 1.7 0 1.7 0 1.7 0 1.7 0 1.6 0 1.7 0 1.6 0 1.6-.1 1.5 0 1.6 0 1.5 0 1.5 0 1.4 0 1.4 0 1.4 0 1.4 0 1.3 0 1.2 0 1.3 0 1.2 0 1.1 0 1.1 0 1.1 0 1 0 1 0 .9 0 4.3 0 3.5 0 2.6 0 2 .1 1.5 0 1 0 .7 0 .6 0 .4 0 .5 0 .7-.1 .9-.1 1.3-.1 1.5-.2 1.5-.1 1.4-.2 1.4-.3 1.5-.2 1.4-.3 1.4-.2 1.5-.3 1.6-.3 1.5-.3 1.7-.3 1.8-.3 1.8-.3 1.3-.2 1.3-.2 1.4-.2 1.4-.2 1.4-.3 1.4-.2 1.5-.2 1.5-.3 1.5-.2 1.5-.2 1.6-.3 1.6-.2 1.6-.2 1.6-.2 1.7-.2 1.7-.2 1.7-.2 1.8-.2 1.8-.2 1.4-.1 1.4-.1 1.5-.2 1.5-.1 1.6-.1 1.6-.1 1.6-.1 1.7-.2 1.7-.1 1.7-.1 1.7-.1 1.7-.1 1.7-.1 1.7-.1 1.7-.1 1.6-.1 1.6 0 1.6-.1 1.5-.1 1.5-.1 1.4 0 1.4-.1 1.3 0 1.2 0 1.1-.1 1 0 3 0 2 .1 1.3 .2 .9 .3 .9 .3 1.3 .3 1.9 .2 1.2 .1 1.1 .2 1.2 .2 1.3 .2 1.3 .2 1.3 .2 1.4 .2 1.5 .2 1.5 .2 1.7 .1 1.8 0 1.9 0 2.1 0 2.2-.2 1.2-.1 1.2-.1 1.2-.2 1.3-.1 1.3-.2 1.4-.2 1.4-.2 1.4-.2 1.5-.2 1.4-.3 1.5-.2 1.6-.3 1.5-.3 1.6-.2 1.6-.3 1.6-.3 1.6-.3 1.7-.3 1.6-.3 1.7-.3 1.7-.4 1.6-.3 1.7-.3 1.7-.4 1.7-.3 1.7-.3 1.7-.4 1.7-.3 1.4-.3 1.5-.3 1.5-.3 1.6-.3 1.6-.4 1.7-.3 1.7-.4 1.7-.4 1.7-.3 1.8-.4 1.8-.4 1.7-.4 1.8-.4 1.8-.4 1.8-.4 1.8-.4 1.7-.4 1.8-.4 1.7-.4 1.7-.4 1.6-.4 1.7-.3 1.5-.4 1.6-.3 1.4-.4 1.5-.3 1.3-.3 1.3-.3 1.3-.3 1.1-.2 1.1-.3 1-.2 .9-.2 .8-.2" fill="none" stroke="#7b68ee" stroke-width="1.8" stroke-linejoin="round" /><path d="M43.7 645.7l1-.1 1.2-.1 1.5-.2 1.6-.2 1.8-.1 1.9-.2 1.9-.1 1.9 0 1.9 .1 1.4 .1 1.5 .1 1.5 .2 1.6 .2 1.6 .2 1.6 .3 1.6 .2 1.6 .3 1.5 .4 1.6 .3 1.5 .4 1.4 .4 1.7 .5 1.6 .6 1.5 .6 1.5 .6 1.5 .7 1.5 .7 1.5 .8 1.5 .8 1.5 .8 1.5 .9 1.5 .9 1.6 1.1 1.6 1.1 1.6 1.1 1.5 1.2 1.6 1.2 1.5 1.1 1.5 1.1 1.5 1.1 1.4 .9 1.7 1.1 1.6 1 1.5 .9 1.5 .9 1.5 .8 1.5 .7 1.5 .7 1.5 .6 1.5 .5 1.6 .4 1.6 .4 1.6 .3 1.5 .2 1.5 .2 1.5 .3 1.5 .2 1.6 .2 1.6 .2 1.5 .1 1.5 .1 1.5 .2 1.5 .3 1.5 .4 1.5 .6 1.6 .9 1.5 .9 1.5 .9 1.5 1 1.6 1 1.5 .8 1.6 .8 1.6 .7 1.6 .7 1.6 .7 1.5 .6 1.5 .6 1.4 .5 1.6 .6 1.4 .4 1.4 .4 1.4 .5 1.8 .6 1.3 .5 1.4 .6 1.4 .6 1.6 .7 1.6 .7 1.6 .7 1.7 .7 1.7 .7 1.4 .6 1.3 .5 1.4 .6 1.4 .5 1.4 .6 1.5 .6 1.5 .6 1.7 .7 1.8 .7 1.9 .7 1.3 .5 1.3 .5 1.5 .6 1.5 .5 1.5 .6 1.6 .6 1.6 .6 1.6 .7 1.6 .6 1.7 .6 1.6 .6 1.6 .6 1.6 .6 1.5 .5 1.5 .6 1.5 .5 1.6 .6 1.6 .5 1.5 .5 1.4 .5 1.5 .5 1.4 .5 1.5 .5 1.4 .4 1.5 .5 1.4 .5 1.5 .4 1.6 .5 1.6 .4 1.6 .5 1.4 .4 1.4 .4 1.5 .4 1.4 .4 1.5 .4 1.5 .4 1.6 .4 1.5 .4 1.5 .4 1.6 .4 1.5 .4 1.6 .4 1.6 .3 1.5 .4 1.5 .3 1.6 .3 1.5 .3 1.5 .3 1.5 .2 1.4 .3 1.4 .2 1.5 .2 1.4 .2 1.4 .2 1.4 .2 1.5 .2 1.4 .2 1.5 .1 1.5 .2 1.6 .1 1.6 .2 1.6 .1 1.7 .2 1.8 .1 1.3 .1 1.4 .1 1.4 .1 1.5 .1 1.4 .2 1.5 .1 1.5 .1 1.6 .1 1.5 .1 1.6 .1 1.6 .1 1.5 .1 1.6 .1 1.6 0 1.6 .1 1.6 .1 1.6 0 1.6 0 1.6 .1 1.6 0 1.6 0 1.6-.1 1.5 0 1.5-.1 1.6 0 1.5-.1 1.6-.2 1.6-.1 1.5-.1 1.6-.2 1.6-.2 1.5-.2 1.6-.1 1.6-.2 1.5-.2 1.6-.2 1.5-.2 1.6-.3 1.5-.2 1.5-.2 1.5-.2 1.5-.1 1.5-.2 1.5-.2 1.5-.2 1.4-.1 1.6-.2 1.7-.1 1.6-.2 1.6-.2 1.6-.2 1.6-.1 1.6-.2 1.5-.2 1.6-.1 1.5-.2 1.5-.2 1.5-.1 1.5-.1 1.5-.1 1.5-.1 1.5-.1 1.4-.1 1.5-.1 1.4 0 1.4 0 1.6 0 1.6 .1 1.6 0 1.5 .1 1.5 .1 1.5 .2 1.5 .1 1.5 .2 1.4 .2 1.5 .2 1.4 .2 1.5 .2 1.5 .2 1.4 .2 1.5 .2 1.6 .2 1.5 .2 1.5 .2 1.5 .2 1.6 .2 1.5 .2 1.6 .3 1.6 .2 1.6 .2 1.6 .3 1.6 .2 1.6 .3 1.5 .2 1.6 .2 1.5 .3 1.5 .2 1.5 .2 1.4 .2 1.4 .2 1.3 .2 1.9 .2 1.8 .3 1.6 .2 1.6 .2 1.6 .1 1.5 .2 1.5 .2 1.5 .1 1.5 .2 1.6 .1 1.6 .2 1.7 .2 1.4 .1 1.4 .2 1.4 .1 1.4 .1 1.4 .1 1.4 .1 1.5 .1 1.5 .1 1.5 .1 1.5 .2 1.6 .2 1.6 .2 1.7 .2 1.8 .3 1.8 .3 1.3 .3 1.3 .3 1.3 .3 1.3 .4 1.4 .4 1.3 .4 1.3 .4 1.4 .5 1.4 .4 1.4 .5 1.5 .4 1.5 .5 1.5 .4 1.7 .4 1.6 .5 1.8 .3 1.8 .4 1.8 .3 2 .3 2.1 .3 2.1 .2 1.2 .1 1.2 .1 1.3 .1 1.4 .1 1.3 0 1.4 .1 1.5 .1 1.4 .1 1.5 0 1.6 .1 1.5 0 1.6 .1 1.6 0 1.6 .1 1.6 0 1.6 0 1.7 0 1.6 0 1.7 0 1.7 .1 1.6-.1 1.7 0 1.6 0 1.7 0 1.6 0 1.7 0 1.6-.1 1.6 0 1.6-.1 1.6 0 1.5-.1 1.5-.1 1.5 0 1.5-.1 1.4-.1 1.4-.1 1.4-.1 1.3-.1 1.3-.1 1.9-.2 1.7-.2 1.8-.2 1.6-.2 1.6-.3 1.6-.3 1.5-.2 1.5-.3 1.4-.4 1.5-.3 1.4-.3 1.3-.4 1.4-.3 1.4-.4 1.3-.4 1.4-.4 1.4-.4 1.4-.4 1.4-.4 1.4-.4 1.5-.4 1.5-.4 1.6-.4 1.6-.5 1.7-.4 1.7-.4 1.4-.3 1.4-.4 1.5-.3 1.6-.4 1.5-.4 1.7-.4 1.7-.4 1.7-.5 1.7-.4 1.7-.4 1.8-.5 1.8-.4 1.8-.5 1.8-.4 1.8-.5 1.7-.5 1.8-.4 1.8-.5 1.7-.4 1.7-.4 1.7-.5 1.6-.4 1.6-.4 1.6-.4 1.5-.4 1.4-.3 1.4-.4 1.3-.3 1.2-.3 1.2-.3 1.1-.3 1-.3 .9-.2 .8-.2" fill="none" stroke="#20b2aa" stroke-width="1.8" stroke-linejoin="round" /><path d="M43.7 681l.5 0 .5 0 .4 0 .5 0 .4 .1 .5 0 .6 0 .5 0 .4 0 .5 0 .4 0 .5 0 .4 0 .5 .1 .5 0 .4 0 .5 0 .5 0 .5 0 .4 0 .5 .1 .5 0 .4 0 .5 0 .5 .1 .4 0 .4 0 .5 .1 .4 0 .4 0 .4 .1 .4 0 .4 0 .4 .1 .5 0 .4 .2 .4 0 .4 .1 .4 0 .4 0 .4 .1 .4 0 .4 .1 .4 0 .5 .1 .6 .1 .5 0 .5 .1 .5 .1 .5 .1 .5 .1 .5 0 .5 .1 .5 .1 .5 .1 .4 .1 .5 .2 .4 .1 .5 .1 .4 .1 .4 .2 .5 .1 .4 .2 .5 .2 .5 .3 .5 .2 .5 .3 .4 .3 .5 .2 .5 .3 .5 .3 .4 .2 .5 .3 .5 .2 .5 .2 .4 .1 .5 1.8 .4 .2 .4 .1 .5 .1 .4 0 .5 .1 .5 0 .5 0 .5 0 .5 0 .5 0 .5 0 .5 0 .6 0 .5-.1 .5 0 .6 0 .5-.1 .5 0 .6 0 .5 0 .5 0 .5 0 .5 0 .5 .1 .5 0 .5 .1 .4 .1 .4 0 .4 .1 .4 .1 .5 .2 .5 .1 .6 .2 .5 .2 .5 .1 .5 .2 .5 .2 .5 .2 .5 .2 .5 .2 .5 .2 .5 .2 .5 .1 .5 .2 .5 .2 .5 .1 .5 1.9 .5 .1 .5 .1 .6 .1 .5 .1 .4 0 .4 .1 .4 0 .4 .1 .4 0 .4 0 .5 .1 .4 0 .4 .1 .4 0 .4 0 .4 0 .5 .1 .5 0 .6 .1 .4 0 .5 .1 .5 .1 .4 0 .5 .1 .4 .1 .4 .2 .5 .1 .4 .2 .4 .1 .4 .3 .4 .2 .5 .3 .4 .2 .4 .3 .4 .3 .5 .2 .5 1.9 .4 .2 .5 .2 .4 .1 .4 .2 .4 .1 .5 .1 .5 .2 .4 .1 .5 .1 .6 .2 .5 .1 .4 .1 .4 .1 .4 .1 .4 .1 .4 .1 .4 .1 .4 .1 .4 .1 .4 .1 .5 .1 .4 .1 .4 .1 .4 .1 .4 .1 .4 .1 .4 .1 .5 .1 .6 1.9 .5 .1 .5 .1 .5 .2 .5 .1 .5 .1 .5 .2 .6 .1 .5 .1 .5 .2 .5 .1 .5 .1 .5 .2 .5 .1 .5 .1 .5 .2 .5 .1 .5 .1 .5 .2 .5 .1 .6 1.8 .5 .1 .5 .1 .5 .2 .5 .1 .5 .1 .5 .1 .5 .1 .5 .1 .5 .1 .5 .1 .5 .1 .5 .1 .5 .1 .5 0 .5 .1 .5 .1 .5 1.8 .5 .1 .5 .1 .5 0 .5 .1 .5 .1 .5 .1 .4 0 .4 .1 .4 0 .4 0 .4 .1 .5 0 .4 .1 .4 0 .5 .1 .4 1.7 .5 0 .4 .1 .5 0 .5 0 .4 .1 .5 0 .5 0 .5 .1 .4 0 .5 0 .5 0 .5 0 .5 .1 .5 1.7 .5 0 .5 0 .5 0 .5 0 .6 0 .4 0 .4 0 .4 0 .4 0 .4 0 .5 0 .4 0 .4 1.6 .5 0 .4 0 .5 0 .4 0 .4-.1 .5 0 .4 0 .5-.1 .5 0 .4 0 .5 1.6 .5 0 .4-.1 .5 0 .5-.1 .5 0 .5-.1 .5-.1 .5 0 .5-.1 .5 1.6 .5 0 .5-.1 .6-.1 .5-.1 .5 0 .5-.1 .6-.1 .5-.1 .5 1.6 .5-.1 .4 0 .5-.1 .4-.1 .4-.1 .4 0 .4-.1 .4-.1 .4 1.6 .4 0 .4-.1 .4-.1 .4-.1 .4 0 .4-.1 .4-.1 .5-.1 .4-.1 .4 1.6 .4 0 .4-.1 .5-.1 .5-.1 .4-.1 .5-.1 .5 1.6 .5-.1 .5-.1 .5-.1 .5-.1 .5-.2 .5-.1 .5 1.6 .4-.1 .5-.1 .5-.1 .5-.2 .5-.1 .5-.1 .6 1.5 .5-.1 .5-.1 .5-.1 .5-.1 .5 1.4 .5-.1 .5-.1 .5-.2 .5-.1 .6-.1 .5 1.4 .5-.2 .5-.1 .5-.1 .6-.2 .5 1.4 .5-.2 .5-.1 .6-.2 .5-.1 .5 1.3 .6-.2 .5-.1 .4-.2 .4-.1 .4 1.3 .4-.1 .4-.2 .4-.1 .4-.1 .4-.1 .5 1.2 .5-.2 .4-.1 .5-.2 .5-.1 .5 1.1 .5-.2 .5-.1 .5-.2 .5 1.1 .5-.1 .5-.2 .5-.2 .5 1.1 .5-.2 .5-.1 .5-.2 .5 1 .5-.2 .5-.1 .6-.2 .5 1 .5-.2 .5-.2 .5-.1 .5 .9 .5-.2 .5-.1 .6 .8 .5-.2 .5-.1 .5-.2 .5 .8 .5-.1 .5-.2 .5 .8 .6-.2 .5-.1 .5 .7 .5-.2 .5-.1 .5 .7 .5-.2 .5-.1 .5 .6 .5-.1 .5-.2 .5 .7 .5-.2 .5-.2 .5 .6 .5-.1 .5-.2 .5 .6 .5-.2 .5-.2 .5 .6 .5-.2 .5-.2 .6 .5 .4-.1 .5 .5 .5-.2 .5-.2 .5 .5 .5-.2 .5 .5 .5-.2 .5-.1 .5 .4 .4-.2 .5 .4 .5-.1 .5-.2 .5 .4 .5-.2 .4 .4 .5-.2 .5-.1 .5 .3 .5-.1 .5 .3 .4-.2 .5 .3 .5-.1 .5 .2 .5-.1 .5-.1 .5 .2 .5-.1 .5 .2 .5-.1 .5 .2 .6 .2 .5-.1 .5 .2 .5-.1 .6 .1 .5-.1 .4 .2 .4-.1 .4 .2 .4-.1 .4 0 .5 .1 .4 0 .4 .1 .5 0 .4 .1 .5-.1 .5 .1 .5 .1 .4 0 .5 .1 .5-.1 .5 .1 .5 .1 .5 0 .6 0 .5 .1 .5-.1 .5 .1 .5 0 .6 0 .5 .1 .5 0 .5 0 .6 0 .4 0 .4 .1 .4 0 .4 0 .4 0 .4 0 .4 0 .4 .1 .4 0 .4 0 .4 0 .4 0 .4 0 .4 .1 .5 0 .4 0 .4 0 .4 0 .4 .1 .4 0 .4 0 .4 0 .4 0 .4 0 .5 .1 .5 0 .6 0 .5 .1 .5 0 .5 0 .6 0 .5 .1 .5 0 .5 .1 .5 0 .5 0 .5 .1 .5 0 .5 0 .4 .1 .5 0 .5 .1 .5 0 .4 .1 .5 0 .4 .1 .5 0 .4 .1 .4 .1 .5 0 .4 .1 .5 .1 .4 0 .4 .1 .5 .1 .4 .1 .4 0 .4 .1 .5 .1 .4 .1 .4 .1 .4 .1 .4 0 .4 .1 .5 .2 .5 .1 .5 .1 .5 .1 .5 .2 .5 .1 .5 .1 .5 .2 .5 .1 .5 .1 .5 .1 .5 .2 .4 .1 .5 .2 .5 .1 .5 .1 .4 .2 .5 .1 .5 .1 .4 .1 .5 .2 .4 .1 .5 .1 .5 .2 .4 .1 .5 .1 .4 .1 .5 .1 .5 .2 .4 .1 .5 .1 .4 .1 .5 .1 .4 .1 .5 .1 .4 .1 .4 .1 .5 .1 .4 .1 .4 .1 .4 .1 .5 .1 .4 .1 .4 .1 .4 .1 .4 .1 .5 .1 .4 .1 .4 .1 .4 .1 .4 .1 .4 .1 .4 .1 .4 .1 .4 .1 .5 .1 .4 .1 .5 .2 .5 .1 .6 .1 .5 .1 .5 .1 .5 .1 .5 .1 .6 .1 .5 .1 .5 .1 .5 0 .5 .1 .5 .1 .5 0 .5 .1 .5 0 .5 .1 .5 0 .4 0 .5 0 .4 0 .4 0 .5 0 .4 0 .4 0 .4-.1 .4 0 .4 0 .4-.1 .4 0 .6-.1 .5-.1 .5-.1 .6-.1 .5-.1 .5-.1 .5-.1 .5-.1 .6-.1 .5-.1 .5-.1 .5-.1 .5-.1 .5-.1 .5-.1 .6-.1 .5-.1 .5-.1 .5-.1 .6-.1 .5-.1 .5-.1 .5-.1 .5 0 .5-.1 .5-.1 .5-.1 .5-.1 .4-.1 .5-.1 .5-.1 .5-.1 .4 0 .5-.1 .5-.1 .4-.1 .5-.1 .5-.1 .5-.1 .6-.1 .5 0 .5-.1 .5-.1 .4-.1 .4 0 .5-.1 .4 0 .5-.1 .5 0 .5-.1 .4 0 .4-.1 .4 0 .5-.1 .4 0 .4 0 .4-.1 .4 0 .5 0 .4-.1 .5 0 .4 0 .5 0 .4-.1 .5 0 .5 0 .5 0 .5-.1 .5 0 .5 0 .6 0 .5 0 .5-.1 .4 0 .4 0 .4 0 .4 0 .4 0 .4 0 .4-.1 .5 0 .4 0 .4 0 .4 0 .4 0 .4 0 .5 0 .4-.1 .4 0 .4 0 .4 0 .4 0 .5 0 .4 0 .4 0 .4-.1 .4 0 .4 0 .4 0 .4 0 .4 0 .4 0 .5-.1 .4 0 .4 0 .5 0 .5 0 .5-.1 .5 0 .5 0 .5 0 .5-.1 .5 0 .5 0 .5 0 .4-.1 .5 0 .4 0 .5-.1 .4 0 .5 0 .5-.1 .4 0 .5-.1 .5 0 .4 0 .5-.1 .4 0 .4-.1 .4 0 .4-.1 .4 0 .6-.1 .5 0 .5-.1 .5-.1 .5 0 .5-.1 .5 0 .5-.1 .5-.1 .4-.1 .5 0 .5-.1 .5-.1 .5 0 .4-.1 .5-.1 .5-.1 .6-.1 .5-.1 .5 0 .5-.1 .4-.1 .5-.1 .4 0 .4-.1 .4-.1 .5-.1 .4 0 .5-.1 .5-.1 .4-.1 .5 0 .5-.1 .4-.1 .5-.1 .5-.1 .6-.1 .5-.1 .5-.1 .5-.1 .6-.1 .4-.1 .4 0 .4-.1 .4-.1 .4-.1 .4-.1 .4 0 .5-.1 .4-.1 .4-.1 .4-.1 .4-.1 .5 0 .4-.1 .4-.1 .4-.1 .4-.1 .5-.1 .4-.1 .4 0 .4-.1 .4-.1 .4-.1 .5-.1 .4 0 .4-.1 .4-.1 .4-.1 .5-.1 .5-.1 .5-.1 .5-.1 .5-.1 .5-.1 .5 0 .5-.1 .5-.1 .4-.1 .4-.1 .5 0 .4-.1 .4-.1 .4 0 .6-.1 .5-.1 .5-.1 .5 0 .4-.1 .5 0 .5-.1 .5 0 .5-.1 .6 0 .5 0 .6 0 .5 .1 .5 0 .4 .1 .5 0 .4 .1 .5 0 .5 .1 .5 0 .5 .1 .6 0 .6 .1 .4 0 .4 0 .4 .1 .5 0 .4 0 .5 .1 .4 0 .5 0 .5 .1 .5 0 .5 0 .5 .1 .5 0 .5 0 .5 .1 .5 0 .6 .1 .5 0 .4 .1 .4 0 .4 0 .4 .1 .4 0 .4 .1 .4 0 .5 .1 .4 0 .4 .1 .4 .1 .4 0 .4 .1 .5 .1 .4 0 .4 .1 .4 .1 .4 .1 .4 0 .4 .1 .5 .1 .4 .1 .4 .1 .4 .1 .5 .1 .4 .2 .5 .1 .5 .2 .5 .1 .4 .2 .5 .2 .5 .1 .4 .2 .5 .2 .5 .2 .4 .2 .5 .2 .5 .2 .5 .3 .4 .2 .5 .2 .5 .2 .5 .3 .5 .2 .4 .2 .5 .2 .5 .3 .5 .2 .5 .2 .5 .2 .5 .2 .5 .3 .6 .2 .5 .2 .5 .2 .5 .2 .6 .2 .4 .1 .4 .1 .4 .2 .4 .1 .4 .1 .5 .1 .4 .1 .4 .2 .5 0 .4 .1 .4 .1 .5 .1 .4 .1 .5 .1 .4 0 .5 .1 .5 0 .4 .1 .5 0 .5 0 .5 .1 .4 0 .6 0 .5 0 .5 0 .4 0 .4 0 .4 0 .4 0 .4 0 .4-.1 .4 0 .4 0 .5 0 .4-.1 .4 0 .5 0 .4 0 .4-.1 .5 0 .4 0 .4-.1 .5 0 .4-.1 .4 0 .5 0 .4-.1 .5 0 .4-.1 .5 0 .4-.1 .4 0 .5-.1 .4 0 .5-.1 .4 0 .5 0 .4-.1 .4 0 .5-.1 .4 0 .4-.1 .5 0 .4-.1 .4 0 .4-.1 .4 0 .5 0 .4-.1 .4 0 .4-.1 .4 0 .4 0 .5-.1 .5 0 .5-.1 .5 0 .5 0 .5 0 .5-.1 .5 0 .4 0 .5 0 .4 0 .4 0 .6 0 .6 0 .6 .1 .5 0 .4 .1 .4 .1 .5 .1 .4 .1 .4 .1 .4 0 .4 .1 .5 .3 .5 .2 .5 .3 .5 .2 .4 .4 .4 .4 .4 .4 .5 .7 .5 .7 .6 .6 .5 .7 .6 .3 .5 .4 .5 .4 .5 .3 .5 .2 .5 .3 .5 .3 .5 .2 .4 .3 .6 .3 .5 .2 .5 .3 .5 .3 .6 .2 .5 .3 .4 .2 .4 .2 .4 .2 .4 .2 .5 .1 .4 .2 .4 .2 .5 .1 .4 .2 .5 .1 .4 .1 .5 .2 .5 .1 .4 .1 .5 .1 .5 .1 .4 .1 .5 0 .4 .1 .5 .1 .4 .1 .5 0 .4 .1 .5 0 .5 .1 .5 0 .4 .1 .5 0 .5 .1 .5 0 .5 0 .5 .1 .5 0 .5 0 .5 0 .5 0 .5 0 .5 0 .6 0 .5 0 .5-.1 .5 0 .5 0 .6-.1 .5-.1 .5 0 .5-.1 .4 0 .4-.1 .4-.1 .4-.1 .4 0 .4-.1 .4-.1 .5-.1 .4-.1 .5-.2 .5-.1 .5-.2 .4-.1 .5-.2 .5-.1 .5-.2 .5-.2 .4-.2 .5-.2 .5-.2 .5-.2 .5-.2 .5-.2 .5-.2 .5-.2 .5-.3 .5-.2 .5-.2 .5-.3 .5-.2 .5-.3 .5-.2 .5-.2 .6-.3 .5-.2 .5-.3 .5-.2 .6-.3 .5-.2 .5-.3 .4-.2 .4-.1 .4-.2 .5-.2 .4-.2 .4-.2 .4-.1 .4-.2 .4-.2 .5-.2 .4-.1 .4-.2 .5-.2 .4-.2 .5-.1 .4-.2 .5-.2 .4-.2 .4-.1 .5-.2 .4-.1 .4-.2 .5-.2 .4-.1 .4-.2 .5-.2 .4-.1 .4-.2 .5-.1 .4-.2 .4-.2 .5-.1 .4-.2 .5-.1 .4-.2 .5-.2 .4-.1 .5-.2 .4-.2 .5-.2 .5-.1 .5-.2 .5-.2 .5-.2 .5-.2 .4-.1 .4-.2 .4-.1 .4-.2 .5-.1 .4-.2 .4-.1 .4-.2 .5-.2 .5-.1 .4-.2 .5-.2 .4-.1 .5-.2 .5-.2 .5-.2 .4-.1 .4-.2 .4-.2 .5-.1 .4-.2 .4-.1 .5-.2 .4-.2 .5-.1 .4-.2 .6-.2 .6-.3 .4-.1 .4-.2 .5-.1 .4-.2 .5-.2 .4-.1 .5-.2 .5-.2 .5-.2 .4-.2 .5-.2 .5-.1 .6-.2 .5-.2 .5-.2 .4-.2 .4-.1 .4-.2 .4-.1 .4-.2 .4-.2 .4-.1 .4-.2 .5-.1 .4-.2 .4-.2 .4-.1 .5-.2 .4-.1 .4-.2 .5-.2 .4-.1 .5-.2 .4-.2 .4-.1 .5-.2 .4-.2 .5-.1 .4-.2 .5-.2 .4-.2 .5-.1 .4-.2 .5-.2 .4-.1 .5-.2 .4-.2 .5-.2 .4-.1 .5-.2 .5-.2 .4-.2 .5-.1 .4-.2 .5-.2 .4-.1 .5-.2 .4-.2 .5-.2 .4-.1 .5-.2 .4-.2 .5-.1 .4-.2 .5-.2 .4-.2 .5-.1 .4-.2 .5-.2 .4-.1 .5-.2 .4-.2 .4-.1 .5-.2 .4-.2 .4-.1 .4-.2 .5-.1 .4-.2 .4-.2 .4-.1 .4-.2 .4-.1 .4-.2 .5-.1 .4-.2 .4-.1 .5-.2 .5-.2 .5-.2 .5-.2 .5-.2 .5-.2 .5-.2 .5-.2 .5-.2 .4-.1 .5-.2 .4-.2 .4-.1 .5-.2 .4-.2 .4-.1 .4-.2 .4-.1 .6-.2 .5-.2 .5-.2 .6-.2 .4-.2 .5-.2 .4-.1 .4-.2" fill="none" stroke="#d2691e" stroke-width="1.8" stroke-linejoin="round" /><line x1="423.2" y1="691.2" x2="423.2" y2="799.4" stroke="#7b68ee" stroke-width="1.3" stroke-dasharray="4.4,2"/><line x1="572" y1="691.3" x2="572" y2="799.4" stroke="#20b2aa" stroke-width="1.4" stroke-dasharray="4.5,2"/><line x1="573.4" y1="691.3" x2="573.4" y2="799.4" stroke="#d2691e" stroke-width="1.4" stroke-dasharray="4.5,2"/><text x="411.4" y="702" font-size="10.3" text-anchor="end" font-weight="normal" >6.5E-13</text><text x="411.4" y="714.2" font-size="10.3" text-anchor="end" font-weight="normal" >@ 1 ms</text><text x="558.6" y="702" font-size="10.3" text-anchor="end" font-weight="normal" >6.0E-13</text><text x="558.6" y="714.2" font-size="10.3" text-anchor="end" font-weight="normal" >@ 15 ms</text><text x="619.3" y="702" font-size="10.3" text-anchor="end" font-weight="normal" >2.6E-13</text><text x="619.3" y="714.2" font-size="10.3" text-anchor="end" font-weight="normal" >@ 15 ms</text><rect x="230.4" y="648.4" width="259.8" height="19.3" rx="2.5" fill="#fff" fill-opacity="0.85" stroke="#d4d4d4" stroke-width="1"/><line x1="234.1" y1="657" x2="257.7" y2="657" stroke="#7b68ee" stroke-width="1.8" /><text x="266.8" y="660.3" font-size="10.1" text-anchor="start" font-weight="normal" >674nm</text><line x1="323.7" y1="657" x2="346.2" y2="657" stroke="#20b2aa" stroke-width="1.8" /><text x="355.8" y="660.3" font-size="10.1" text-anchor="start" font-weight="normal" >698nm</text><line x1="412" y1="657" x2="436.1" y2="657" stroke="#d2691e" stroke-width="1.8" /><text x="445.7" y="660.3" font-size="10.1" text-anchor="start" font-weight="normal" >1550nm</text><line x1="81.7" y1="799.4" x2="81.7" y2="796.8" stroke="#262626" stroke-width="0.8" /><line x1="104" y1="799.4" x2="104" y2="796.8" stroke="#262626" stroke-width="0.8" /><line x1="119.8" y1="799.4" x2="119.8" y2="796.8" stroke="#262626" stroke-width="0.8" /><line x1="132.1" y1="799.4" x2="132.1" y2="796.8" stroke="#262626" stroke-width="0.8" /><line x1="142.1" y1="799.4" x2="142.1" y2="796.8" stroke="#262626" stroke-width="0.8" /><line x1="150.6" y1="799.4" x2="150.6" y2="796.8" stroke="#262626" stroke-width="0.8" /><line x1="157.9" y1="799.4" x2="157.9" y2="796.8" stroke="#262626" stroke-width="0.8" /><line x1="164.4" y1="799.4" x2="164.4" y2="796.8" stroke="#262626" stroke-width="0.8" /><line x1="208.3" y1="799.4" x2="208.3" y2="796.8" stroke="#262626" stroke-width="0.8" /><line x1="230.5" y1="799.4" x2="230.5" y2="796.8" stroke="#262626" stroke-width="0.8" /><line x1="246.4" y1="799.4" x2="246.4" y2="796.8" stroke="#262626" stroke-width="0.8" /><line x1="258.6" y1="799.4" x2="258.6" y2="796.8" stroke="#262626" stroke-width="0.8" /><line x1="268.6" y1="799.4" x2="268.6" y2="796.8" stroke="#262626" stroke-width="0.8" /><line x1="277.1" y1="799.4" x2="277.1" y2="796.8" stroke="#262626" stroke-width="0.8" /><line x1="284.5" y1="799.4" x2="284.5" y2="796.8" stroke="#262626" stroke-width="0.8" /><line x1="290.9" y1="799.4" x2="290.9" y2="796.8" stroke="#262626" stroke-width="0.8" /><line x1="334.8" y1="799.4" x2="334.8" y2="796.8" stroke="#262626" stroke-width="0.8" /><line x1="357.1" y1="799.4" x2="357.1" y2="796.8" stroke="#262626" stroke-width="0.8" /><line x1="372.9" y1="799.4" x2="372.9" y2="796.8" stroke="#262626" stroke-width="0.8" /><line x1="385.2" y1="799.4" x2="385.2" y2="796.8" stroke="#262626" stroke-width="0.8" /><line x1="395.2" y1="799.4" x2="395.2" y2="796.8" stroke="#262626" stroke-width="0.8" /><line x1="403.7" y1="799.4" x2="403.7" y2="796.8" stroke="#262626" stroke-width="0.8" /><line x1="411" y1="799.4" x2="411" y2="796.8" stroke="#262626" stroke-width="0.8" /><line x1="417.5" y1="799.4" x2="417.5" y2="796.8" stroke="#262626" stroke-width="0.8" /><line x1="461.4" y1="799.4" x2="461.4" y2="796.8" stroke="#262626" stroke-width="0.8" /><line x1="483.7" y1="799.4" x2="483.7" y2="796.8" stroke="#262626" stroke-width="0.8" /><line x1="499.5" y1="799.4" x2="499.5" y2="796.8" stroke="#262626" stroke-width="0.8" /><line x1="511.7" y1="799.4" x2="511.7" y2="796.8" stroke="#262626" stroke-width="0.8" /><line x1="521.8" y1="799.4" x2="521.8" y2="796.8" stroke="#262626" stroke-width="0.8" /><line x1="530.2" y1="799.4" x2="530.2" y2="796.8" stroke="#262626" stroke-width="0.8" /><line x1="537.6" y1="799.4" x2="537.6" y2="796.8" stroke="#262626" stroke-width="0.8" /><line x1="544" y1="799.4" x2="544" y2="796.8" stroke="#262626" stroke-width="0.8" /><line x1="587.9" y1="799.4" x2="587.9" y2="796.8" stroke="#262626" stroke-width="0.8" /><line x1="610.2" y1="799.4" x2="610.2" y2="796.8" stroke="#262626" stroke-width="0.8" /><line x1="626" y1="799.4" x2="626" y2="796.8" stroke="#262626" stroke-width="0.8" /><line x1="638.3" y1="799.4" x2="638.3" y2="796.8" stroke="#262626" stroke-width="0.8" /><line x1="648.3" y1="799.4" x2="648.3" y2="796.8" stroke="#262626" stroke-width="0.8" /><line x1="656.8" y1="799.4" x2="656.8" y2="796.8" stroke="#262626" stroke-width="0.8" /><line x1="664.1" y1="799.4" x2="664.1" y2="796.8" stroke="#262626" stroke-width="0.8" /><line x1="670.6" y1="799.4" x2="670.6" y2="796.8" stroke="#262626" stroke-width="0.8" /><line x1="43.6" y1="795.4" x2="46.2" y2="795.4" stroke="#262626" stroke-width="0.8" /><line x1="43.6" y1="791.8" x2="46.2" y2="791.8" stroke="#262626" stroke-width="0.8" /><line x1="43.6" y1="788.6" x2="46.2" y2="788.6" stroke="#262626" stroke-width="0.8" /><line x1="43.6" y1="785.9" x2="46.2" y2="785.9" stroke="#262626" stroke-width="0.8" /><line x1="43.6" y1="767.1" x2="46.2" y2="767.1" stroke="#262626" stroke-width="0.8" /><line x1="43.6" y1="757.6" x2="46.2" y2="757.6" stroke="#262626" stroke-width="0.8" /><line x1="43.6" y1="750.9" x2="46.2" y2="750.9" stroke="#262626" stroke-width="0.8" /><line x1="43.6" y1="745.7" x2="46.2" y2="745.7" stroke="#262626" stroke-width="0.8" /><line x1="43.6" y1="741.4" x2="46.2" y2="741.4" stroke="#262626" stroke-width="0.8" /><line x1="43.6" y1="737.8" x2="46.2" y2="737.8" stroke="#262626" stroke-width="0.8" /><line x1="43.6" y1="734.6" x2="46.2" y2="734.6" stroke="#262626" stroke-width="0.8" /><line x1="43.6" y1="731.9" x2="46.2" y2="731.9" stroke="#262626" stroke-width="0.8" /><line x1="43.6" y1="713.1" x2="46.2" y2="713.1" stroke="#262626" stroke-width="0.8" /><line x1="43.6" y1="703.6" x2="46.2" y2="703.6" stroke="#262626" stroke-width="0.8" /><line x1="43.6" y1="696.9" x2="46.2" y2="696.9" stroke="#262626" stroke-width="0.8" /><line x1="43.6" y1="691.7" x2="46.2" y2="691.7" stroke="#262626" stroke-width="0.8" /><line x1="43.6" y1="687.4" x2="46.2" y2="687.4" stroke="#262626" stroke-width="0.8" /><line x1="43.6" y1="683.8" x2="46.2" y2="683.8" stroke="#262626" stroke-width="0.8" /><line x1="43.6" y1="680.6" x2="46.2" y2="680.6" stroke="#262626" stroke-width="0.8" /><line x1="43.6" y1="677.9" x2="46.2" y2="677.9" stroke="#262626" stroke-width="0.8" /><line x1="43.6" y1="659.1" x2="46.2" y2="659.1" stroke="#262626" stroke-width="0.8" /><line x1="43.6" y1="649.6" x2="46.2" y2="649.6" stroke="#262626" stroke-width="0.8" /><line x1="43.6" y1="642.9" x2="46.2" y2="642.9" stroke="#262626" stroke-width="0.8" /><line x1="43.6" y1="799.4" x2="43.6" y2="794.9" stroke="#262626" stroke-width="1" /><line x1="170.2" y1="799.4" x2="170.2" y2="794.9" stroke="#262626" stroke-width="1" /><line x1="296.7" y1="799.4" x2="296.7" y2="794.9" stroke="#262626" stroke-width="1" /><line x1="423.3" y1="799.4" x2="423.3" y2="794.9" stroke="#262626" stroke-width="1" /><line x1="549.8" y1="799.4" x2="549.8" y2="794.9" stroke="#262626" stroke-width="1" /><line x1="676.4" y1="799.4" x2="676.4" y2="794.9" stroke="#262626" stroke-width="1" /><line x1="43.6" y1="783.4" x2="48.1" y2="783.4" stroke="#262626" stroke-width="1" /><line x1="43.6" y1="729.4" x2="48.1" y2="729.4" stroke="#262626" stroke-width="1" /><line x1="43.6" y1="675.4" x2="48.1" y2="675.4" stroke="#262626" stroke-width="1" /><rect x="43.6" y="642.4" width="632.8" height="157" fill="none" stroke="#262626" stroke-width="1"/><text x="43.9" y="814.4" font-size="10.3" text-anchor="middle">10<tspan font-size="7.83" dy="-5.3">−6</tspan></text><text x="170.5" y="814.4" font-size="10.3" text-anchor="middle">10<tspan font-size="7.83" dy="-5.3">−5</tspan></text><text x="297" y="814.4" font-size="10.3" text-anchor="middle">10<tspan font-size="7.83" dy="-5.3">−4</tspan></text><text x="423.6" y="814.4" font-size="10.3" text-anchor="middle">10<tspan font-size="7.83" dy="-5.3">−3</tspan></text><text x="550.1" y="814.4" font-size="10.3" text-anchor="middle">10<tspan font-size="7.83" dy="-5.3">−2</tspan></text><text x="676.7" y="814.4" font-size="10.3" text-anchor="middle">10<tspan font-size="7.83" dy="-5.3">−1</tspan></text><text x="39.8" y="789.4" font-size="10.3" text-anchor="end">10<tspan font-size="7.83" dy="-5.3">−13</tspan></text><text x="39.8" y="735.4" font-size="10.3" text-anchor="end">10<tspan font-size="7.83" dy="-5.3">−12</tspan></text><text x="39.8" y="681.4" font-size="10.3" text-anchor="end">10<tspan font-size="7.83" dy="-5.3">−11</tspan></text><text x="315.7" y="830.7" font-size="10.4" text-anchor="start" font-weight="normal" textLength="88.6" lengthAdjust="spacingAndGlyphs">Average time (sec)</text><text transform="translate(9.4,721) rotate(-90)" font-size="10.3" text-anchor="middle">ADEV</text></svg>
</body></html>
